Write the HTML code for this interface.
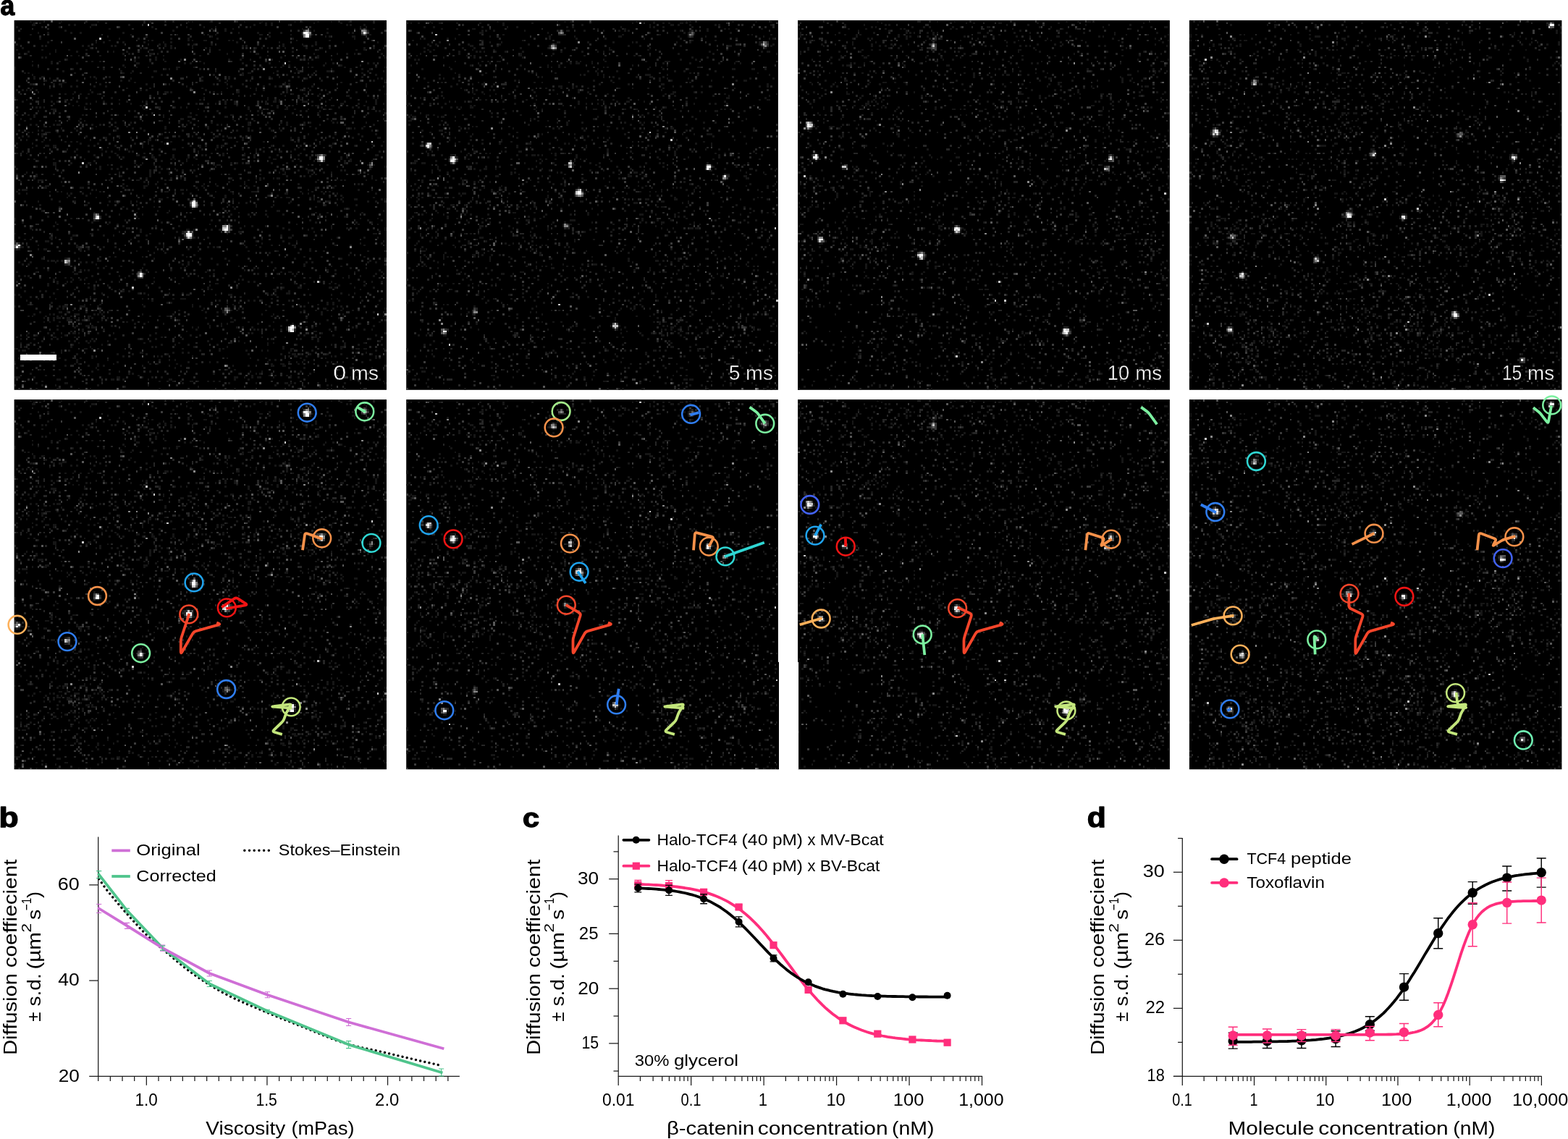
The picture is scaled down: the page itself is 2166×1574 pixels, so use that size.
<!DOCTYPE html>
<html lang="en">
<head>
<meta charset="utf-8">
<title>Figure: single-molecule tracking and diffusion coefficient measurements</title>
<style>
html,body{margin:0;padding:0;background:#fff;}
body{width:2166px;height:1574px;overflow:hidden;}
svg{display:block;font-family:"Liberation Sans", sans-serif;}
text{font-family:"Liberation Sans", sans-serif;}
</style>
</head>
<body>
<svg width="2166" height="1574" viewBox="0 0 2166 1574">
<rect width="2166" height="1574" fill="#fff"/>
<defs>
<filter id="sf" x="-1%" y="-1%" width="102%" height="102%"><feGaussianBlur stdDeviation="0.65"/></filter>
<g id="m0" shape-rendering="crispEdges" fill="none" stroke-width="1.02">
<path stroke="#161616" d="M8 0.5h1m15 0h1m11 0h1m6 0h1m26 0h1m19 0h1m1 0h1m8 0h1m17 0h1m8 0h1m16 0h1m3 0h1m7 0h1m6 0h1m8 0h1m-164 1h1m2 0h1m9 0h1m43 0h1m59 0h1m2 0h1m2 0h1m21 0h1m13 0h1m16 0h1m-178 1h2m17 0h1m2 0h1m8 0h2m17 0h1m64 0h1m5 0h1m2 0h1m8 0h1m29 0h1m1 0h1m6 0h1m-181 1h1m12 0h1m8 0h1m15 0h1m31 0h1m17 0h1m8 0h1m5 0h1m17 0h1m56 0h1m2 0h1m-134 1h1m41 0h1m10 0h1m6 0h1m3 0h1m35 0h1m12 0h1m13 0h1m3 0h1m1 0h1m3 0h1m-161 1h1m55 0h1m26 0h1m43 0h1m1 0h1m27 0h1m-172 1h1m4 0h1m11 0h1m4 0h1m21 0h1m59 0h1m9 0h1m5 0h1m5 0h1m23 0h1m10 0h1m1 0h1m-168 1h1m51 0h1m23 0h1m13 0h1m1 0h1m3 0h1m22 0h2m14 0h1m10 0h1m29 0h1m-137 1h1m19 0h1m33 0h1m29 0h1m28 0h1m1 0h1m11 0h2m-175 1h1m10 0h1m40 0h1m9 0h1m16 0h1m8 0h1m14 0h1m38 0h1m31 0h1m-128 1h1m19 0h1m1 0h1m18 0h1m1 0h1m5 0h2m11 0h1m1 0h1m4 0h1m27 0h1m16 0h1m-147 1h1m24 0h1m3 0h1m9 0h1m10 0h1m9 0h1m3 0h1m33 0h1m21 0h1m18 0h1m13 0h1m17 0h1m-188 1h1m67 0h1m5 0h1m2 0h1m14 0h1m8 0h1m36 0h1m9 0h1m6 0h1m-143 1h1m1 0h1m18 0h1m2 0h1m11 0h1m1 0h1m10 0h1m14 0h1m2 0h1m10 0h1m25 0h1m1 0h1m18 0h1m10 0h1m3 0h1m-151 1h1m34 0h1m25 0h1m1 0h1m13 0h1m10 0h1m6 0h1m1 0h1m23 0h1m2 0h1m2 0h1m5 0h1m2 0h1m10 0h1m7 0h1m3 0h1m17 0h1m4 0h1m4 0h1m-191 1h1m12 0h1m6 0h1m6 0h1m8 0h1m32 0h1m35 0h1m17 0h1m32 0h1m19 0h1m3 0h1m-175 1h1m13 0h1m10 0h1m18 0h1m6 0h1m54 0h1m8 0h1m21 0h1m-143 1h1m3 0h1m11 0h1m37 0h1m2 0h1m10 0h2m2 0h1m35 0h1m14 0h2m28 0h1m11 0h1m4 0h1m3 0h1m2 0h1m10 0h1m-162 1h1m3 0h1m3 0h1m6 0h1m32 0h1m18 0h1m34 0h1m25 0h1m-144 1h1m1 0h1m47 0h1m8 0h1m44 0h1m8 0h1m10 0h1m11 0h1m6 0h1m34 0h1m-166 1h1m34 0h1m10 0h1m3 0h1m8 0h1m24 0h1m5 0h1m4 0h1m10 0h1m15 0h1m2 0h1m1 0h1m9 0h1m-156 1h1m9 0h1m3 0h1m16 0h1m3 0h1m17 0h1m7 0h1m7 0h1m17 0h1m40 0h1m4 0h1m-124 1h1m12 0h1m30 0h2m23 0h1m2 0h1m6 0h1m19 0h1m13 0h1m19 0h1m8 0h1m3 0h1m17 0h1m2 0h1m-178 1h1m46 0h1m82 0h1m2 0h1m17 0h1m8 0h1m9 0h1m-180 1h1m11 0h1m44 0h1m5 0h1m5 0h1m14 0h2m7 0h1m34 0h1m6 0h1m2 0h1m13 0h1m1 0h1m16 0h1m15 0h1m4 0h1m-193 1h1m29 0h1m15 0h1m31 0h1m1 0h1m3 0h1m11 0h1m27 0h1m21 0h1m17 0h1m9 0h1m5 0h1m3 0h1m-160 1h1m29 0h1m5 0h1m10 0h2m30 0h1m31 0h1m10 0h1m8 0h1m5 0h2m1 0h1m17 0h1m7 0h1m-187 1h1m1 0h1m23 0h1m24 0h1m3 0h1m57 0h1m2 0h2m11 0h1m10 0h1m34 0h1m-172 1h1m66 0h1m26 0h1m14 0h1m22 0h1m12 0h1m32 0h1m-178 1h1m3 0h2m23 0h1m1 0h1m7 0h1m21 0h1m25 0h1m13 0h1m11 0h1m8 0h1m4 0h1m9 0h1m28 0h1m3 0h1m-171 1h1m7 0h1m23 0h1m17 0h1m50 0h1m21 0h1m17 0h1m36 0h1m1 0h1m-175 1h1m15 0h1m22 0h1m3 0h1m37 0h1m8 0h1m3 0h1m11 0h1m19 0h1m16 0h1m26 0h1m5 0h1m-168 1h2m35 0h1m46 0h1m30 0h1m28 0h1m-162 1h2m10 0h1m2 0h2m19 0h1m23 0h1m11 0h1m22 0h1m6 0h1m7 0h1m13 0h1m7 0h1m1 0h1m39 0h1m-159 1h1m4 0h1m2 0h1m8 0h1m5 0h1m41 0h1m22 0h1m16 0h1m5 0h1m1 0h1m2 0h1m13 0h1m27 0h1m8 0h1m-183 1h1m8 0h1m39 0h1m11 0h1m20 0h1m5 0h1m12 0h1m11 0h1m2 0h1m26 0h1m-152 1h1m2 0h1m1 0h1m1 0h1m2 0h1m27 0h1m25 0h1m2 0h1m30 0h1m16 0h1m8 0h1m3 0h1m11 0h1m6 0h1m1 0h1m2 0h1m7 0h1m27 0h1m-178 1h1m18 0h1m8 0h1m37 0h2m1 0h1m21 0h1m3 0h1m7 0h2m24 0h1m35 0h1m4 0h1m-157 1h1m3 0h1m3 0h1m3 0h1m4 0h1m94 0h1m5 0h1m5 0h1m7 0h1m3 0h1m29 0h1m-174 1h1m26 0h1m69 0h1m5 0h1m17 0h1m16 0h1m14 0h2m9 0h1m-184 1h1m11 0h1m17 0h1m6 0h1m12 0h1m47 0h1m32 0h1m32 0h1m9 0h1m11 0h1m1 0h1m-188 1h1m4 0h1m2 0h1m16 0h1m27 0h1m41 0h1m34 0h1m3 0h1m1 0h1m10 0h1m9 0h1m4 0h1m23 0h1m-184 1h1m14 0h1m2 0h1m9 0h1m9 0h1m3 0h1m11 0h1m7 0h1m1 0h1m40 0h1m4 0h1m15 0h1m3 0h2m1 0h1m11 0h3m2 0h1m6 0h1m9 0h1m10 0h1m4 0h1m-168 1h1m7 0h1m8 0h1m1 0h1m7 0h1m6 0h1m5 0h1m33 0h1m5 0h1m3 0h1m4 0h1m4 0h1m15 0h1m15 0h1m22 0h2m7 0h1m8 0h1m3 0h1m-162 1h1m2 0h1m31 0h1m2 0h1m46 0h1m17 0h1m2 0h1m7 0h1m9 0h1m1 0h2m6 0h2m15 0h1m-171 1h1m1 0h1m1 0h1m20 0h1m29 0h1m8 0h1m7 0h1m2 0h1m2 0h1m19 0h1m11 0h1m14 0h1m4 0h1m17 0h1m8 0h1m6 0h1m2 0h1m4 0h1m-165 1h3m14 0h1m13 0h1m16 0h1m27 0h1m25 0h1m5 0h1m2 0h1m9 0h2m3 0h1m6 0h1m8 0h1m2 0h1m18 0h1m1 0h1m5 0h1m-191 1h1m10 0h1m7 0h1m38 0h1m2 0h1m35 0h1m6 0h1m16 0h1m3 0h1m1 0h1m5 0h1m13 0h1m2 0h1m6 0h1m28 0h1m1 0h1m-167 1h1m47 0h1m19 0h1m52 0h1m12 0h1m-157 1h1m5 0h1m2 0h1m24 0h1m17 0h1m14 0h1m8 0h1m16 0h1m17 0h2m6 0h1m5 0h1m55 0h1m-173 1h1m51 0h2m13 0h1m12 0h2m7 0h1m9 0h2m38 0h1m8 0h1m16 0h1m-173 1h1m4 0h1m19 0h1m5 0h1m15 0h1m29 0h1m5 0h2m4 0h1m20 0h1m6 0h1m41 0h1m7 0h1m20 0h1m-187 1h1m7 0h1m7 0h1m11 0h1m2 0h1m19 0h1m19 0h1m13 0h1m23 0h1m9 0h1m39 0h1m-113 1h1m7 0h1m24 0h1m5 0h1m10 0h1m18 0h1m9 0h1m6 0h1m2 0h1m8 0h1m2 0h1m11 0h1m1 0h1m14 0h1m-175 1h1m2 0h1m8 0h1m1 0h2m16 0h1m3 0h1m44 0h1m15 0h1m1 0h1m13 0h2m7 0h1m10 0h1m8 0h1m7 0h1m12 0h1m14 0h1m-172 1h1m2 0h1m23 0h1m6 0h1m2 0h1m5 0h1m19 0h1m8 0h1m7 0h1m3 0h2m42 0h1m9 0h1m27 0h1m-158 1h1m6 0h1m8 0h1m20 0h1m3 0h1m12 0h1m21 0h1m20 0h1m5 0h1m4 0h1m4 0h1m18 0h1m15 0h1m1 0h1m1 0h1m3 0h1m-179 1h1m9 0h1m1 0h1m6 0h1m10 0h1m19 0h1m14 0h1m19 0h1m19 0h1m7 0h1m5 0h1m1 0h1m9 0h1m4 0h1m46 0h1m2 0h1m-182 1h1m1 0h1m6 0h3m3 0h1m79 0h1m69 0h1m-159 1h1m34 0h1m26 0h1m75 0h1m4 0h1m8 0h1m11 0h1m8 0h1m-184 1h1m2 0h1m6 0h1m8 0h1m13 0h1m16 0h1m8 0h1m21 0h1m6 0h1m11 0h2m2 0h1m1 0h1m11 0h1m12 0h1m44 0h1m-179 1h1m44 0h1m6 0h1m5 0h1m17 0h1m16 0h2m6 0h1m7 0h2m5 0h1m1 0h1m22 0h1m3 0h1m17 0h1m4 0h1m4 0h1m12 0h2m-184 1h1m8 0h1m2 0h1m20 0h1m4 0h1m6 0h1m17 0h2m2 0h1m13 0h1m20 0h1m9 0h1m24 0h1m12 0h1m3 0h1m-147 1h1m11 0h1m2 0h1m2 0h1m36 0h1m6 0h1m4 0h1m33 0h1m5 0h1m7 0h1m15 0h1m1 0h1m21 0h1m12 0h1m8 0h1m-191 1h1m7 0h1m24 0h1m8 0h1m18 0h1m6 0h1m8 0h1m31 0h1m47 0h1m6 0h1m19 0h1m-175 1h1m4 0h2m2 0h2m16 0h1m2 0h1m10 0h1m13 0h1m4 0h1m19 0h1m4 0h1m2 0h1m5 0h1m1 0h2m24 0h1m5 0h1m8 0h1m4 0h1m10 0h1m11 0h1m13 0h1m-190 1h1m7 0h1m10 0h1m24 0h1m2 0h1m11 0h1m5 0h1m20 0h1m8 0h1m8 0h1m23 0h1m17 0h1m12 0h1m3 0h1m20 0h1m-159 1h1m4 0h1m12 0h1m8 0h1m3 0h1m16 0h1m6 0h2m13 0h1m6 0h1m13 0h1m6 0h1m9 0h1m9 0h1m4 0h1m-147 1h1m26 0h1m6 0h1m8 0h1m2 0h1m8 0h1m1 0h1m33 0h1m29 0h1m3 0h1m7 0h2m4 0h1m19 0h1m25 0h1m-189 1h1m4 0h1m38 0h1m6 0h1m14 0h1m27 0h1m6 0h1m5 0h1m10 0h1m6 0h1m21 0h1m32 0h1m-150 1h1m8 0h1m11 0h1m9 0h2m6 0h1m3 0h1m6 0h1m14 0h1m1 0h1m8 0h1m10 0h1m4 0h1m11 0h1m10 0h1m39 0h2m-173 1h1m12 0h1m12 0h1m6 0h1m6 0h1m9 0h1m4 0h2m9 0h1m7 0h1m2 0h1m30 0h1m7 0h1m20 0h1m15 0h1m2 0h1m-166 1h1m2 0h1m9 0h1m10 0h1m4 0h1m35 0h1m8 0h1m1 0h1m5 0h1m4 0h1m24 0h1m6 0h1m7 0h2m11 0h1m5 0h1m15 0h1m4 0h1m-163 1h1m28 0h1m34 0h1m12 0h1m34 0h1m19 0h1m3 0h1m6 0h1m15 0h1m2 0h1m10 0h1m-166 1h2m7 0h1m8 0h2m22 0h1m3 0h1m20 0h1m24 0h1m2 0h1m2 0h1m14 0h1m7 0h1m29 0h1m-152 1h2m15 0h1m10 0h1m14 0h1m1 0h1m6 0h1m19 0h1m2 0h1m7 0h1m1 0h2m39 0h1m5 0h1m5 0h1m3 0h1m20 0h1m2 0h1m-176 1h1m9 0h1m22 0h1m10 0h1m19 0h1m28 0h1m17 0h1m26 0h1m17 0h1m24 0h1m-192 1h1m40 0h1m1 0h1m5 0h1m2 0h1m4 0h1m14 0h1m2 0h1m2 0h1m3 0h1m30 0h1m23 0h1m12 0h1m4 0h1m27 0h1m-115 1h1m13 0h1m2 0h1m5 0h1m7 0h1m37 0h1m7 0h1m4 0h2m15 0h1m1 0h1m-166 1h1m17 0h1m29 0h1m15 0h1m4 0h1m4 0h1m56 0h1m2 0h1m11 0h1m7 0h1m3 0h1m-164 1h1m3 0h1m5 0h1m8 0h1m28 0h1m4 0h1m15 0h1m9 0h1m26 0h1m3 0h1m4 0h1m10 0h1m11 0h2m13 0h1m1 0h1m19 0h1m1 0h1m4 0h1m-173 1h1m43 0h1m14 0h1m16 0h1m6 0h1m46 0h1m8 0h1m2 0h1m31 0h1m-176 1h1m14 0h1m33 0h1m8 0h1m12 0h1m4 0h1m14 0h1m10 0h1m12 0h1m1 0h1m1 0h1m4 0h1m1 0h2m47 0h1m-174 1h3m34 0h1m13 0h2m13 0h1m1 0h1m40 0h1m5 0h1m29 0h1m11 0h1m1 0h1m10 0h1m4 0h1m-185 1h1m8 0h1m11 0h1m25 0h1m16 0h1m6 0h1m36 0h1m7 0h1m36 0h1m-119 1h1m17 0h1m12 0h1m3 0h1m4 0h1m19 0h1m5 0h1m14 0h1m19 0h1m7 0h1m30 0h1m-163 1h2m7 0h1m32 0h1m8 0h2m28 0h1m7 0h1m11 0h1m2 0h1m3 0h1m37 0h1m3 0h1m-158 1h1m5 0h2m17 0h2m20 0h1m10 0h1m26 0h1m3 0h1m22 0h1m34 0h1m8 0h1m-164 1h1m1 0h3m33 0h1m1 0h1m15 0h1m2 0h1m24 0h2m1 0h1m5 0h1m15 0h1m14 0h1m25 0h1m25 0h1m6 0h1m-185 1h1m16 0h1m3 0h1m1 0h1m19 0h1m33 0h2m3 0h1m20 0h1m7 0h1m10 0h3m22 0h1m5 0h1m4 0h1m3 0h1m-162 1h1m3 0h1m20 0h1m1 0h1m5 0h1m3 0h1m47 0h1m3 0h1m21 0h1m26 0h2m7 0h1m2 0h1m7 0h1m6 0h1m19 0h1m-160 1h1m8 0h1m28 0h1m34 0h1m7 0h1m21 0h1m4 0h1m32 0h1m-143 1h1m14 0h1m5 0h1m23 0h1m6 0h1m23 0h1m5 0h1m28 0h1m2 0h2m10 0h1m1 0h1m7 0h1m6 0h1m15 0h1m-168 1h1m55 0h2m36 0h1m41 0h1m11 0h1m1 0h1m6 0h2m12 0h1m1 0h1m-188 1h1m6 0h1m10 0h1m7 0h1m17 0h1m2 0h1m7 0h1m2 0h1m8 0h1m70 0h1m13 0h2m3 0h2m6 0h1m12 0h1m3 0h1m-150 1h1m14 0h1m6 0h1m49 0h1m5 0h1m3 0h1m21 0h1m-130 1h1m23 0h1m10 0h1m14 0h1m21 0h1m16 0h1m8 0h1m13 0h1m8 0h1m26 0h1m5 0h1m9 0h1m-155 1h1m32 0h1m15 0h1m15 0h1m2 0h1m21 0h1m11 0h1m7 0h1m22 0h1m-99 1h1m5 0h1m27 0h1m15 0h1m5 0h1m56 0h1m1 0h1m-160 1h1m59 0h1m5 0h1m49 0h1m5 0h2m38 0h1m14 0h1m-151 1h1m21 0h1m15 0h1m26 0h1m3 0h1m5 0h1m39 0h1m5 0h1m17 0h1m-134 1h1m6 0h1m11 0h1m45 0h1m8 0h1m8 0h1m8 0h1m-123 1h1m44 0h2m44 0h1m13 0h1m8 0h1m25 0h2m2 0h1m5 0h1m3 0h1m-172 1h1m7 0h1m20 0h1m34 0h1m17 0h1m10 0h1m55 0h1m29 0h1m8 0h1m-189 1h1m41 0h2m13 0h1m31 0h1m12 0h1m11 0h1m38 0h1m29 0h1m6 0h1m-187 1h1m16 0h1m18 0h1m8 0h1m26 0h1m3 0h1m75 0h1m20 0h1m7 0h1m-164 1h1m25 0h1m4 0h1m47 0h1m7 0h1m36 0h1m31 0h1m9 0h1m-169 1h1m8 0h1m26 0h1m16 0h1m11 0h1m33 0h1m3 0h1m6 0h1m5 0h1m27 0h1m-157 1h1m49 0h2m57 0h1m21 0h1m14 0h1m9 0h1m7 0h1m4 0h1m14 0h1m-184 1h1m12 0h1m20 0h1m21 0h1m23 0h2m2 0h1m5 0h1m2 0h1m3 0h2m34 0h1m9 0h1m39 0h1m-139 1h1m10 0h1m18 0h1m2 0h1m28 0h2m37 0h1m33 0h1m-190 1h1m18 0h1m19 0h2m29 0h1m6 0h1m32 0h1m3 0h1m71 0h2m-158 1h2m14 0h1m4 0h1m16 0h1m69 0h1m5 0h1m14 0h1m-158 1h1m15 0h2m1 0h1m7 0h1m55 0h1m2 0h1m4 0h1m6 0h1m41 0h2m23 0h1m13 0h1m6 0h1m-184 1h1m2 0h1m10 0h1m40 0h1m7 0h1m22 0h1m18 0h1m17 0h1m35 0h1m-149 1h2m46 0h1m60 0h1m13 0h1m6 0h1m44 0h1m-117 1h1m52 0h1m13 0h1m36 0h1m10 0h1m-185 1h1m5 0h1m19 0h1m44 0h1m41 0h1m5 0h1m7 0h1m10 0h2m20 0h1m7 0h1m6 0h1m-179 1h2m27 0h2m3 0h1m8 0h1m5 0h1m12 0h1m7 0h1m3 0h1m2 0h1m14 0h1m4 0h1m2 0h1m1 0h1m14 0h1m6 0h1m17 0h1m-146 1h1m1 0h1m9 0h1m2 0h2m17 0h1m3 0h1m51 0h1m62 0h1m-120 1h1m28 0h1m5 0h1m7 0h1m17 0h1m25 0h1m14 0h1m16 0h1m6 0h1m22 0h1m-153 1h1m40 0h1m5 0h1m53 0h1m14 0h1m26 0h1m-166 1h1m77 0h1m5 0h1m21 0h1m57 0h1m-130 1h1m4 0h1m2 0h1m13 0h1m22 0h1m60 0h1m8 0h1m5 0h1m15 0h1m-168 1h1m11 0h1m6 0h1m38 0h1m23 0h1m5 0h1m6 0h1m35 0h1m23 0h1m-153 1h1m1 0h2m1 0h1m1 0h2m17 0h2m47 0h1m18 0h1m72 0h1m-183 1h1m5 0h1m12 0h1m12 0h1m2 0h1m2 0h1m49 0h1m42 0h1m17 0h1m2 0h1m28 0h1m3 0h1m-184 1h1m2 0h1m34 0h1m24 0h1m19 0h1m2 0h1m5 0h1m8 0h1m44 0h1m-120 1h1m15 0h1m7 0h1m24 0h1m8 0h1m26 0h1m3 0h1m29 0h1m13 0h1m4 0h1m-159 1h1m3 0h1m27 0h1m2 0h1m19 0h1m19 0h1m1 0h1m35 0h1m1 0h1m8 0h1m25 0h1m12 0h1m7 0h1m-166 1h1m16 0h1m1 0h1m1 0h1m29 0h1m12 0h1m18 0h1m2 0h1m15 0h1m42 0h1m3 0h1m22 0h1m-189 1h1m9 0h1m18 0h1m2 0h1m39 0h1m25 0h1m38 0h1m3 0h2m32 0h1m13 0h1m-160 1h2m16 0h1m11 0h1m41 0h1m22 0h1m9 0h1m7 0h1m1 0h1m19 0h1m20 0h1m3 0h1m-190 1h1m2 0h1m1 0h1m32 0h1m13 0h1m4 0h1m3 0h1m26 0h1m4 0h1m5 0h1m15 0h1m12 0h1m14 0h1m12 0h1m5 0h1m8 0h1m5 0h1m6 0h1m3 0h1m-165 1h1m2 0h1m7 0h1m19 0h1m14 0h1m10 0h1m3 0h1m20 0h1m25 0h1m18 0h1m16 0h1m2 0h1m18 0h1m-173 1h1m9 0h1m3 0h1m1 0h1m7 0h1m17 0h1m53 0h1m1 0h1m-118 1h1m20 0h1m4 0h1m1 0h1m12 0h1m7 0h1m3 0h1m17 0h1m41 0h1m6 0h1m2 0h1m39 0h1m16 0h1m3 0h1m4 0h1m-174 1h1m4 0h1m3 0h1m11 0h1m46 0h1m18 0h2m32 0h1m6 0h1m4 0h1m12 0h1m2 0h1m7 0h1m-158 1h1m30 0h1m19 0h1m32 0h1m66 0h1m12 0h1m-179 1h1m34 0h1m2 0h1m33 0h1m24 0h1m14 0h1m23 0h1m7 0h2m14 0h2m1 0h1m9 0h1m9 0h1m-165 1h1m8 0h1m9 0h1m8 0h1m3 0h1m42 0h1m2 0h1m1 0h1m31 0h2m2 0h1m13 0h1m26 0h1m-175 1h1m7 0h1m2 0h1m39 0h1m2 0h1m75 0h1m6 0h1m-123 1h1m24 0h1m18 0h1m2 0h1m12 0h1m6 0h1m43 0h1m9 0h2m26 0h1m6 0h1m-177 1h1m1 0h1m66 0h1m19 0h2m7 0h1m5 0h1m6 0h2m20 0h1m1 0h1m17 0h1m10 0h1m8 0h1m-171 1h1m4 0h1m9 0h1m20 0h1m8 0h1m28 0h1m39 0h1m8 0h1m9 0h1m42 0h1m-168 1h1m8 0h1m19 0h2m23 0h1m15 0h1m3 0h3m44 0h1m30 0h1m2 0h1m22 0h1m-185 1h1m26 0h1m37 0h1m34 0h1m14 0h1m2 0h1m3 0h1m13 0h1m25 0h1m11 0h1m8 0h1m-171 1h1m59 0h1m1 0h1m28 0h1m5 0h1m35 0h1m9 0h1m2 0h1m-159 1h1m1 0h1m26 0h1m2 0h1m4 0h1m21 0h1m25 0h1m20 0h1m16 0h1m16 0h1m9 0h1m4 0h1m2 0h1m22 0h1m-189 1h1m22 0h1m1 0h3m6 0h3m6 0h1m23 0h1m24 0h1m3 0h1m35 0h1m17 0h1m16 0h1m1 0h1m-148 1h1m2 0h1m72 0h1m17 0h1m1 0h1m41 0h2m3 0h1m4 0h1m21 0h1m-166 1h1m2 0h1m2 0h1m7 0h1m2 0h1m4 0h1m35 0h1m11 0h1m10 0h1m3 0h1m2 0h1m14 0h1m19 0h1m5 0h1m5 0h1m6 0h1m5 0h1m-163 1h1m9 0h2m2 0h1m9 0h1m6 0h1m1 0h1m52 0h1m5 0h1m2 0h1m2 0h1m36 0h1m10 0h1m26 0h1m4 0h1m-182 1h1m7 0h1m1 0h1m10 0h3m7 0h1m1 0h1m1 0h1m20 0h1m15 0h1m45 0h1m5 0h1m24 0h1m10 0h1m-164 1h1m1 0h1m6 0h1m5 0h1m1 0h1m4 0h1m8 0h2m30 0h1m4 0h1m3 0h2m52 0h1m30 0h1m26 0h1m-177 1h1m4 0h1m1 0h2m3 0h2m2 0h1m1 0h1m2 0h1m1 0h1m1 0h1m5 0h1m1 0h1m6 0h1m25 0h1m17 0h1m12 0h1m5 0h1m32 0h1m16 0h1m8 0h1m8 0h1m-167 1h1m6 0h3m2 0h1m2 0h1m2 0h1m6 0h1m15 0h1m23 0h1m28 0h1m26 0h1m20 0h1m-148 1h1m2 0h1m4 0h1m19 0h1m14 0h1m10 0h1m42 0h2m7 0h1m12 0h1m14 0h1m1 0h1m37 0h1m-156 1h1m27 0h1m4 0h1m9 0h1m22 0h1m6 0h1m2 0h1m15 0h1m17 0h1m13 0h1m20 0h1m-158 1h1m2 0h1m6 0h1m4 0h2m1 0h1m9 0h1m36 0h1m13 0h1m5 0h1m24 0h1m5 0h1m3 0h1m4 0h1m8 0h1m16 0h1m12 0h1m-156 1h1m8 0h2m32 0h1m17 0h1m2 0h1m5 0h1m13 0h1m2 0h1m4 0h1m17 0h1m9 0h1m2 0h1m20 0h1m1 0h1m-156 1h1m12 0h1m10 0h1m47 0h1m29 0h1m1 0h1m7 0h1m3 0h1m2 0h1m21 0h1m2 0h1m14 0h1m3 0h1m-173 1h1m15 0h1m5 0h1m53 0h1m55 0h1m9 0h2m-150 1h1m9 0h1m2 0h1m3 0h1m5 0h2m1 0h1m9 0h1m7 0h1m21 0h1m47 0h1m1 0h1m35 0h1m-154 1h1m4 0h1m14 0h1m43 0h1m20 0h1m4 0h1m50 0h1m2 0h1m5 0h1m8 0h1m10 0h1m10 0h1m-187 1h1m13 0h1m4 0h2m2 0h1m6 0h1m44 0h1m39 0h1m11 0h1m11 0h1m14 0h2m19 0h1m-174 1h1m6 0h1m8 0h1m2 0h1m17 0h1m11 0h1m11 0h1m1 0h1m6 0h1m13 0h1m14 0h1m30 0h1m14 0h1m5 0h1m2 0h1m26 0h1m5 0h1m-177 1h1m13 0h1m2 0h1m5 0h1m1 0h1m1 0h1m6 0h1m21 0h1m29 0h1m15 0h1m40 0h1m31 0h1m-187 1h1m4 0h1m24 0h1m4 0h1m28 0h1m17 0h1m26 0h1m6 0h1m11 0h1m2 0h1m36 0h1m9 0h1m-176 1h1m23 0h1m14 0h1m2 0h1m27 0h1m6 0h1m6 0h1m14 0h1m25 0h1m14 0h1m17 0h1m6 0h1m6 0h1m11 0h1m-186 1h1m23 0h1m9 0h1m31 0h1m1 0h1m19 0h1m16 0h1m28 0h1m29 0h2m-171 1h2m5 0h1m4 0h1m23 0h2m2 0h1m2 0h1m43 0h1m18 0h1m1 0h1m30 0h1m3 0h2m24 0h1m5 0h1m1 0h2m2 0h2m8 0h1m-190 1h1m1 0h2m18 0h1m3 0h1m67 0h1m9 0h1m13 0h1m7 0h1m2 0h1m11 0h1m10 0h1m32 0h1m-169 1h1m4 0h1m40 0h2m15 0h1m4 0h1m2 0h1m51 0h1m9 0h1m24 0h1m4 0h1m-168 1h1m16 0h1m20 0h1m7 0h1m6 0h1m10 0h1m41 0h1m16 0h1m5 0h2m2 0h1m4 0h1m8 0h1m6 0h1m15 0h1m-167 1h1m20 0h1m15 0h1m17 0h1m1 0h1m15 0h1m49 0h1m2 0h2m4 0h1m12 0h1m1 0h1m9 0h1m10 0h1m-186 1h1m7 0h1m12 0h1m10 0h1m5 0h1m69 0h1m11 0h1m7 0h1m17 0h1m12 0h1m25 0h1m1 0h1m-185 1h1m20 0h1m5 0h1m15 0h1m26 0h1m4 0h1m2 0h1m42 0h1m5 0h1m2 0h1m14 0h1m33 0h1m-185 1h1m31 0h1m20 0h1m15 0h1m20 0h1m10 0h1m3 0h1m25 0h1m10 0h1m3 0h1m2 0h1m12 0h1m1 0h1m5 0h1m9 0h1m-150 1h1m1 0h1m9 0h1m7 0h1m18 0h1m3 0h1m9 0h1m9 0h1m38 0h1m4 0h2m7 0h1m18 0h1m8 0h1m-173 1h1m22 0h1m11 0h1m4 0h1m2 0h1m19 0h1m13 0h1m5 0h1m26 0h1m7 0h1m11 0h2m4 0h2m-140 1h1m40 0h1m40 0h1m58 0h1m7 0h1m23 0h1m10 0h1m-173 1h1m9 0h1m19 0h1m66 0h1m3 0h1m53 0h1m1 0h1m7 0h1m7 0h2m3 0h1m-152 1h1m13 0h1m15 0h1m51 0h1m5 0h1m19 0h1m6 0h1m20 0h1m7 0h1m-177 1h1m40 0h1m9 0h1m1 0h1m41 0h1m12 0h1m8 0h1m1 0h1m25 0h1m22 0h1m-161 1h1m18 0h1m28 0h1m58 0h1m8 0h1m2 0h1m5 0h1m1 0h1m8 0h1m16 0h1m-170 1h3m7 0h1m42 0h2m11 0h1m4 0h1m4 0h1m37 0h2m3 0h1m3 0h1m2 0h2m6 0h1m8 0h1m3 0h1m26 0h1m2 0h1m6 0h1m-163 1h2m26 0h2m2 0h1m1 0h1m12 0h1m10 0h2m32 0h1m6 0h1m52 0h1m1 0h1m2 0h1m9 0h1m-176 1h1m30 0h1m29 0h1m3 0h1m2 0h1m3 0h1m4 0h2m2 0h1m4 0h1m2 0h1m2 0h1m71 0h1m12 0h1m-181 1h1m14 0h2m59 0h1m23 0h1m13 0h1m14 0h2m1 0h1m1 0h1m11 0h1m13 0h1m20 0h1m-179 1h1m1 0h1m4 0h1m21 0h1m25 0h1m65 0h1m6 0h1m19 0h1m1 0h1m-108 1h1m37 0h1m54 0h1m7 0h1m-148 1h1m10 0h2m9 0h1m5 0h1m35 0h1m38 0h1m47 0h1m1 0h1m6 0h1m7 0h1"/>
<path stroke="#262626" d="M15 0.5h1m21 0h1m29 0h1m10 0h1m3 0h1m19 0h1m12 0h1m32 0h1m19 0h1m5 0h1m11 0h1m-151 1h1m10 0h1m41 0h1m16 0h1m-65 1h1m23 0h1m11 0h1m7 0h1m9 0h1m20 0h1m25 0h1m-90 1h1m29 0h1m31 0h1m3 0h1m32 0h1m-151 1h1m5 0h1m7 0h1m43 0h1m11 0h1m105 0h1m-178 1h1m100 0h1m39 0h1m3 0h1m-43 1h1m6 0h1m77 0h1m-174 1h1m27 0h1m35 0h1m67 0h1m30 0h1m1 0h1m-170 1h1m77 0h1m9 0h1m51 0h1m10 0h1m17 0h1m-56 1h1m2 0h1m-112 1h1m22 0h1m20 0h1m121 0h1m-133 1h1m48 0h1m40 0h1m37 0h1m-142 1h1m16 0h1m32 0h1m3 0h1m9 0h1m21 0h1m-124 1h1m6 0h1m63 0h1m54 0h1m7 0h1m13 0h1m11 0h1m22 0h1m-147 1h1m1 0h1m25 0h1m6 0h1m1 0h1m5 0h1m34 0h1m1 0h1m3 0h1m8 0h1m2 0h1m7 0h1m13 0h1m-88 1h1m29 0h1m54 0h1m25 0h1m6 0h1m-147 1h1m4 0h1m15 0h1m4 0h1m6 0h1m2 0h1m21 0h1m29 0h1m29 0h1m26 0h1m-184 1h1m31 0h1m23 0h1m10 0h1m20 0h1m6 0h1m17 0h1m59 0h1m-171 1h1m59 0h1m1 0h1m69 0h1m23 0h1m26 0h1m-189 1h1m142 0h1m9 0h1m32 0h1m-164 1h1m30 0h1m12 0h1m77 0h1m1 0h1m-114 1h1m54 0h1m19 0h1m17 0h1m-109 1h1m48 0h1m116 0h1m-177 1h1m107 0h1m3 0h1m2 0h1m40 0h1m18 0h1m-145 1h1m2 0h1m3 0h1m82 0h1m8 0h1m2 0h1m31 0h1m-161 1h1m4 0h1m6 0h1m4 0h1m19 0h1m22 0h1m26 0h1m12 0h1m8 0h1m22 0h1m35 0h1m-182 1h1m111 0h1m6 0h1m24 0h2m-114 1h1m18 0h1m9 0h1m81 0h1m7 0h1m28 0h1m-150 1h1m43 0h1m15 0h1m21 0h1m18 0h1m15 0h1m3 0h1m24 0h1m-135 1h1m41 0h1m14 0h1m4 0h1m17 0h1m16 0h1m8 0h1m8 0h1m4 0h1m15 0h1m-171 1h1m8 0h1m13 0h1m9 0h1m39 0h2m8 0h1m8 0h1m3 0h1m4 0h1m8 0h1m8 0h1m17 0h1m7 0h1m-153 1h1m8 0h1m4 0h2m60 0h1m13 0h1m23 0h1m28 0h1m29 0h1m4 0h1m-166 1h1m22 0h1m4 0h1m44 0h1m1 0h1m82 0h1m14 0h1m-183 1h1m4 0h1m23 0h1m32 0h1m5 0h1m8 0h1m4 0h1m12 0h1m33 0h1m15 0h1m11 0h1m6 0h1m-173 1h1m15 0h1m1 0h1m51 0h1m47 0h1m17 0h1m-132 1h1m133 0h1m4 0h1m3 0h1m16 0h1m-112 1h1m35 0h1m22 0h1m33 0h1m9 0h1m6 0h1m6 0h1m-172 1h1m49 0h1m21 0h1m26 0h1m37 0h1m12 0h1m10 0h1m8 0h1m-170 1h1m19 0h1m20 0h1m29 0h1m2 0h2m19 0h1m6 0h1m7 0h1m10 0h1m18 0h1m10 0h1m-96 1h1m10 0h1m48 0h1m8 0h1m18 0h1m3 0h1m-107 1h1m26 0h1m2 0h1m9 0h1m49 0h1m11 0h1m1 0h1m9 0h1m-145 1h1m11 0h1m1 0h1m68 0h1m9 0h1m1 0h1m1 0h1m27 0h1m3 0h1m4 0h1m2 0h1m25 0h1m-168 1h2m2 0h1m10 0h1m44 0h1m4 0h1m5 0h1m23 0h1m19 0h1m1 0h1m-121 1h1m3 0h1m37 0h1m17 0h1m4 0h1m16 0h1m5 0h2m17 0h1m10 0h1m4 0h1m-113 1h1m47 0h1m57 0h1m14 0h1m1 0h1m18 0h1m10 0h1m4 0h1m-177 1h1m7 0h1m63 0h2m7 0h1m16 0h1m57 0h1m28 0h1m-150 1h1m1 0h1m35 0h1m53 0h1m1 0h1m28 0h1m2 0h1m22 0h1m-171 1h1m4 0h1m26 0h1m31 0h1m19 0h1m32 0h1m42 0h1m-172 1h1m5 0h1m8 0h1m25 0h1m59 0h1m24 0h1m34 0h1m9 0h1m6 0h1m8 0h1m-189 1h1m32 0h1m12 0h1m6 0h1m8 0h1m62 0h1m27 0h1m-143 1h2m10 0h1m14 0h1m60 0h1m36 0h1m28 0h1m11 0h1m-117 1h1m27 0h1m22 0h1m6 0h1m9 0h1m31 0h2m2 0h1m-147 1h1m3 0h1m38 0h1m8 0h1m9 0h1m9 0h1m6 0h1m35 0h1m49 0h1m-155 1h1m14 0h1m12 0h1m17 0h1m41 0h1m29 0h1m22 0h1m-174 1h1m12 0h1m19 0h1m1 0h1m8 0h1m3 0h1m6 0h1m1 0h1m27 0h1m5 0h1m16 0h1m26 0h1m10 0h1m-143 1h1m9 0h1m18 0h1m52 0h1m21 0h1m7 0h1m-85 1h1m18 0h1m85 0h1m5 0h1m27 0h1m-169 1h1m19 0h1m25 0h1m53 0h1m7 0h1m20 0h1m10 0h1m-142 1h1m24 0h1m48 0h1m1 0h1m12 0h1m18 0h1m35 0h1m-148 1h1m10 0h1m2 0h2m16 0h1m55 0h2m3 0h1m8 0h1m2 0h1m-80 1h1m25 0h1m20 0h1m7 0h2m6 0h1m26 0h1m2 0h1m29 0h1m12 0h1m-148 1h1m19 0h1m9 0h1m4 0h1m18 0h1m8 0h1m34 0h1m7 0h1m11 0h1m15 0h1m8 0h1m1 0h1m-159 1h1m7 0h1m12 0h1m22 0h1m13 0h1m60 0h1m21 0h1m2 0h1m19 0h1m11 0h1m-113 1h1m90 0h1m-110 1h1m16 0h1m23 0h1m18 0h1m40 0h1m-96 1h1m39 0h1m18 0h1m19 0h1m21 0h1m6 0h1m13 0h1m8 0h1m-172 1h1m5 0h1m31 0h2m52 0h1m4 0h1m5 0h1m13 0h1m-126 1h1m10 0h1m3 0h1m48 0h1m21 0h1m16 0h1m16 0h1m-121 1h1m11 0h1m6 0h1m66 0h1m60 0h1m13 0h1m-166 1h1m9 0h1m1 0h1m62 0h1m31 0h1m11 0h1m2 0h1m47 0h1m-171 1h1m4 0h1m36 0h1m44 0h1m15 0h1m11 0h1m24 0h1m7 0h1m2 0h1m1 0h1m4 0h1m10 0h1m-139 1h1m19 0h1m12 0h1m33 0h1m9 0h1m78 0h1m-136 1h1m17 0h1m44 0h1m26 0h1m10 0h1m29 0h1m-176 1h1m11 0h1m2 0h1m35 0h1m10 0h1m11 0h1m13 0h2m6 0h1m23 0h1m36 0h1m4 0h1m-132 1h1m29 0h1m8 0h1m21 0h1m10 0h1m5 0h2m50 0h1m11 0h1m-157 1h1m21 0h1m32 0h1m13 0h1m14 0h1m26 0h1m14 0h1m22 0h1m-178 1h1m15 0h1m17 0h1m2 0h1m24 0h1m10 0h1m33 0h1m28 0h1m33 0h1m14 0h1m-165 1h1m73 0h1m7 0h1m35 0h1m1 0h2m16 0h1m-138 1h1m2 0h1m46 0h2m17 0h1m27 0h1m7 0h1m7 0h1m18 0h1m-146 1h1m62 0h1m14 0h1m4 0h1m28 0h2m9 0h1m12 0h1m9 0h1m25 0h1m-168 1h1m37 0h1m43 0h1m20 0h1m46 0h1m7 0h1m-119 1h1m29 0h1m63 0h1m15 0h1m-100 1h1m10 0h1m11 0h1m22 0h1m5 0h1m44 0h1m4 0h1m22 0h1m-189 1h1m4 0h1m8 0h1m30 0h1m8 0h1m11 0h1m12 0h1m6 0h1m24 0h1m52 0h1m-153 1h1m54 0h1m24 0h2m5 0h1m23 0h1m36 0h1m28 0h1m-82 1h1m26 0h1m38 0h1m3 0h1m-126 1h1m37 0h1m6 0h1m30 0h1m-102 1h1m7 0h1m35 0h1m51 0h1m20 0h2m8 0h1m2 0h1m-104 1h1m1 0h1m20 0h1m2 0h1m15 0h1m37 0h1m18 0h1m-123 1h1m11 0h1m8 0h1m17 0h1m2 0h1m36 0h1m12 0h1m14 0h1m19 0h1m21 0h1m-124 1h1m22 0h1m16 0h1m15 0h1m16 0h1m31 0h1m-148 1h1m38 0h1m5 0h1m9 0h1m20 0h1m7 0h1m29 0h1m22 0h1m7 0h1m2 0h1m-136 1h1m32 0h1m31 0h1m25 0h1m7 0h1m4 0h1m11 0h1m9 0h1m-88 1h1m11 0h1m7 0h1m17 0h1m17 0h1m26 0h1m-124 1h1m23 0h1m36 0h1m2 0h1m3 0h1m9 0h1m4 0h1m8 0h1m11 0h1m26 0h1m30 0h1m-162 1h1m12 0h1m20 0h1m2 0h1m33 0h1m4 0h1m5 0h1m10 0h1m41 0h1m21 0h1m-185 1h1m1 0h1m29 0h1m15 0h1m34 0h1m7 0h1m2 0h1m48 0h1m12 0h1m-152 1h1m56 0h1m8 0h1m34 0h1m4 0h1m-103 1h1m41 0h1m116 0h1m-158 1h1m34 0h1m10 0h1m34 0h1m12 0h1m1 0h1m57 0h1m-84 1h1m2 0h1m1 0h1m31 0h1m1 0h1m-53 1h1m24 0h1m2 0h1m22 0h1m29 0h1m3 0h1m20 0h1m1 0h1m-174 1h1m35 0h1m4 0h1m34 0h1m3 0h1m22 0h1m4 0h1m35 0h1m19 0h1m-141 1h1m2 0h1m-22 1h1m11 0h1m11 0h1m2 0h1m17 0h1m26 0h1m19 0h1m3 0h1m50 0h1m14 0h1m-130 1h1m10 0h1m57 0h1m25 0h1m41 0h1m-174 1h2m15 0h1m82 0h1m60 0h1m3 0h1m8 0h1m-181 1h1m3 0h1m94 0h1m7 0h1m-61 1h1m10 0h1m7 0h1m1 0h1m8 0h1m66 0h1m24 0h1m11 0h1m-176 1h1m1 0h1m62 0h1m49 0h1m46 0h1m14 0h1m-174 1h1m41 0h1m30 0h1m18 0h1m10 0h1m9 0h1m-124 1h1m22 0h1m58 0h2m28 0h1m-99 1h1m12 0h1m7 0h1m22 0h2m67 0h1m18 0h1m4 0h1m-148 1h1m52 0h1m20 0h1m8 0h1m2 0h1m28 0h1m3 0h1m9 0h1m-116 1h1m5 0h1m18 0h1m49 0h1m33 0h1m22 0h1m23 0h1m-180 1h1m10 0h1m36 0h1m10 0h1m47 0h1m11 0h1m6 0h1m-127 1h1m1 0h1m1 0h1m1 0h1m12 0h1m4 0h1m3 0h1m2 0h1m20 0h1m24 0h1m7 0h1m10 0h1m4 0h1m16 0h1m27 0h1m18 0h1m-163 1h1m37 0h1m15 0h1m79 0h1m53 0h1m-185 1h1m14 0h1m11 0h1m3 0h1m4 0h1m37 0h1m9 0h1m14 0h1m54 0h1m-161 1h1m31 0h1m10 0h1m9 0h1m19 0h1m1 0h1m19 0h1m13 0h1m37 0h1m-141 1h1m9 0h1m4 0h1m4 0h1m7 0h1m19 0h1m78 0h1m20 0h1m35 0h1m-142 1h1m8 0h1m64 0h1m1 0h1m2 0h1m-61 1h1m60 0h1m5 0h1m3 0h1m34 0h1m2 0h1m-165 1h1m52 0h1m71 0h1m-135 1h1m8 0h1m11 0h1m15 0h1m77 0h1m31 0h1m14 0h1m14 0h1m5 0h1m2 0h1m-188 1h1m25 0h1m24 0h1m2 0h1m22 0h1m4 0h1m34 0h1m5 0h1m51 0h1m-120 1h1m23 0h1m9 0h1m-70 1h2m52 0h1m91 0h1m9 0h1m9 0h1m-164 1h1m101 0h1m-82 1h1m30 0h1m36 0h1m35 0h1m-124 1h1m29 0h1m3 0h1m27 0h1m29 0h1m10 0h1m21 0h1m21 0h1m-167 1h1m10 0h1m10 0h1m18 0h1m15 0h1m77 0h1m14 0h1m-120 1h1m19 0h1m3 0h1m21 0h1m1 0h1m1 0h1m15 0h1m14 0h1m5 0h1m6 0h1m2 0h1m8 0h1m26 0h1m-74 1h1m-96 1h1m4 0h1m4 0h1m2 0h1m11 0h1m30 0h1m32 0h1m52 0h1m7 0h1m30 0h1m-109 1h1m23 0h1m72 0h1m-159 1h1m80 0h1m43 0h1m9 0h1m2 0h1m1 0h1m-125 1h1m34 0h1m44 0h1m29 0h1m13 0h1m21 0h1m7 0h1m-150 1h1m1 0h1m14 0h1m52 0h1m3 0h1m10 0h1m21 0h1m-140 1h1m22 0h1m16 0h1m19 0h1m66 0h1m1 0h1m28 0h1m-112 1h1m23 0h1m84 0h1m-139 1h1m5 0h1m18 0h1m2 0h1m20 0h1m-47 1h1m34 0h1m25 0h1m15 0h1m11 0h1m10 0h1m52 0h1m-170 1h1m14 0h1m16 0h1m32 0h1m2 0h1m48 0h1m18 0h1m33 0h1m-174 1h1m2 0h1m12 0h1m3 0h1m80 0h1m1 0h1m60 0h1m10 0h1m-150 1h1m1 0h1m21 0h1m7 0h1m1 0h1m75 0h1m-44 1h1m5 0h1m3 0h1m2 0h1m9 0h1m8 0h1m7 0h1m14 0h1m-152 1h1m36 0h1m56 0h1m30 0h1m45 0h1m-172 1h1m9 0h1m7 0h2m74 0h1m2 0h1m30 0h1m2 0h1m-138 1h1m15 0h2m90 0h1m3 0h1m29 0h1m3 0h1m5 0h1m17 0h1m8 0h1m-171 1h1m19 0h1m5 0h1m6 0h1m62 0h1m3 0h1m45 0h1m-116 1h1m7 0h1m2 0h1m5 0h1m79 0h1m24 0h1m13 0h1m-151 1h1m19 0h1m34 0h1m4 0h1m20 0h1m8 0h1m31 0h1m21 0h2m8 0h1m-157 1h1m58 0h1m4 0h1m18 0h1m42 0h1m-107 1h1m41 0h1m16 0h1m30 0h1m14 0h1m-135 1h1m7 0h1m19 0h1m37 0h1m51 0h1m1 0h1m32 0h1m9 0h1m-164 1h1m15 0h1m2 0h1m10 0h1m26 0h1m9 0h1m105 0h1m1 0h1m-183 1h1m45 0h1m7 0h1m90 0h1m-148 1h1m19 0h1m10 0h1m45 0h1m79 0h1m12 0h1m4 0h1m-154 1h1m21 0h1m52 0h1m39 0h1m8 0h1m22 0h1m-163 1h1m22 0h1m3 0h1m11 0h1m7 0h1m85 0h1m17 0h1m-149 1h1m89 0h1m19 0h1m1 0h1m14 0h1m26 0h1m-142 1h1m14 0h1m81 0h1m9 0h1m25 0h1m-137 1h1m9 0h1m71 0h1m17 0h1m22 0h2m5 0h1m33 0h1m-190 1h1m6 0h1m8 0h1m7 0h1m8 0h1m12 0h1m6 0h1m-50 1h1m25 0h1m44 0h1m4 0h1m2 0h1m7 0h1m40 0h1m18 0h1m3 0h1m10 0h1m-164 1h1m25 0h1m9 0h1m22 0h1m3 0h1m12 0h1m26 0h1m21 0h1m2 0h1m11 0h1m36 0h1m-102 1h1m29 0h1m57 0h1m17 0h1m-177 1h1m81 0h1m16 0h1m70 0h1m-180 1h1m3 0h1m2 0h1m7 0h1m10 0h1m29 0h1m41 0h1m43 0h1m20 0h1m-164 1h1m2 0h1m6 0h1m45 0h1m22 0h1m11 0h1m61 0h1m4 0h1m4 0h1m4 0h1m12 0h1m2 0h1m-155 1h1m23 0h1m99 0h1m-57 1h1m43 0h2m2 0h1m42 0h1m-173 1h1m15 0h1m22 0h1m91 0h1m4 0h1m2 0h1m3 0h1m-86 1h1m18 0h2m48 0h1m1 0h1m2 0h1m7 0h2m18 0h1m3 0h1m-154 1h1m10 0h1m16 0h1m12 0h1m7 0h1m59 0h1m16 0h1m-128 1h2m16 0h1m59 0h1m31 0h1m18 0h1m12 0h1m2 0h1m-168 1h1m6 0h1m2 0h1m119 0h1m16 0h1m-120 1h1m38 0h1m21 0h1m54 0h1m14 0h1m-168 1h1m33 0h1m38 0h1m68 0h2m6 0h1m4 0h1m-152 1h1m8 0h1m6 0h1m8 0h2m94 0h1m31 0h1m3 0h1m30 0h1m-182 1h1m55 0h1m21 0h2m20 0h1m63 0h1m15 0h1m-183 1h1m2 0h1m2 0h1m4 0h1m11 0h1m1 0h1m14 0h1m56 0h1m2 0h1m-51 1h1m7 0h1m6 0h1m3 0h1m7 0h1m2 0h1m22 0h1m21 0h1m10 0h1m32 0h1m-145 1h1m44 0h1m8 0h1m5 0h1m13 0h1m2 0h1m5 0h1m3 0h1m6 0h1m4 0h1m4 0h1m8 0h1m35 0h1m-181 1h1m16 0h1m17 0h1m46 0h1m52 0h1m-113 1h1m4 0h1m12 0h1m13 0h1m14 0h1m19 0h1m48 0h1m-142 1h1m5 0h1m29 0h1m7 0h1m1 0h1m5 0h1m33 0h1m62 0h1m10 0h1m21 0h1m-179 1h1m29 0h1m47 0h1m10 0h1m38 0h1m9 0h1m4 0h1m12 0h1m-125 1h1m7 0h1m47 0h1m15 0h1m26 0h1m12 0h1m2 0h1m26 0h1m-180 1h1m83 0h1m23 0h1m40 0h1m8 0h1m-136 1h1m5 0h1m26 0h1m62 0h1m24 0h1m25 0h1m-169 1h1m87 0h1m13 0h1m4 0h1m15 0h1m14 0h1m6 0h1m33 0h2"/>
<path stroke="#3a3a3a" d="M114 0.5h1m22 0h1m-127 1h1m59 0h1m-55 1h1m-2 1h1m7 0h1m28 0h1m82 0h1m14 0h1m-48 1h1m76 0h1m-32 1h1m41 0h1m-117 1h1m72 0h1m33 0h1m-169 1h1m67 0h1m6 0h1m40 0h1m24 0h1m2 0h1m-99 1h1m5 1h1m17 0h1m31 0h1m25 0h1m39 0h1m-177 2h1m16 0h1m94 0h1m6 0h1m-63 2h1m1 0h1m99 0h1m25 0h1m-134 1h1m4 1h1m81 0h1m-109 3h1m18 0h1m86 0h1m5 0h1m-116 1h1m26 0h1m90 0h1m18 0h1m-80 1h1m36 0h1m38 0h1m-124 1h1m64 0h1m12 0h1m-63 2h1m31 1h1m54 0h1m-52 1h1m1 0h1m17 0h1m24 1h1m20 0h1m9 0h1m-138 1h1m101 1h1m-85 1h1m-49 1h1m157 0h1m-143 1h1m156 0h1m-174 1h1m41 0h1m35 0h1m40 1h1m-73 1h1m87 0h1m-78 1h1m91 0h1m-67 1h1m-46 1h1m16 0h1m-59 1h1m101 0h1m44 0h1m-120 1h1m152 0h1m1 0h1m-166 1h1m9 0h1m36 0h1m-71 1h1m145 0h1m-32 1h1m30 0h1m-101 1h1m59 0h1m-26 1h1m37 0h1m6 0h1m42 0h1m-70 1h1m-93 1h1m61 0h1m-45 1h1m-27 1h1m17 0h1m23 0h1m21 0h1m63 0h1m3 0h1m-58 1h1m5 0h1m64 0h1m1 0h1m13 0h1m28 0h1m-169 1h1m4 0h1m84 0h1m3 0h1m12 0h1m1 0h1m19 0h1m18 1h1m-12 1h1m31 0h1m-169 1h1m32 0h1m68 0h1m-94 1h1m81 0h1m33 0h1m-138 1h1m72 0h1m98 0h1m-93 1h1m56 0h1m-128 1h1m120 0h1m43 0h1m-93 1h1m39 0h1m23 0h1m6 0h1m-161 1h1m68 0h1m22 0h1m-28 1h1m101 0h1m-111 1h1m10 1h1m27 0h1m-4 2h1m20 0h1m34 0h1m10 0h1m-167 1h1m27 0h1m31 0h1m85 0h1m22 0h1m-49 1h1m33 0h1m-99 1h1m79 0h1m45 0h1m-159 1h1m50 0h1m56 0h1m7 0h1m49 0h1m-192 1h1m17 0h1m51 0h1m34 0h1m65 0h1m3 0h1m-164 1h1m144 0h1m2 0h1m-118 1h1m77 0h1m16 0h1m4 0h1m43 1h1m-160 1h1m128 0h1m2 0h1m18 0h1m-97 1h1m16 0h1m1 0h1m-64 1h1m46 0h1m82 0h1m-160 1h1m53 0h1m83 0h1m35 0h1m-105 1h1m21 0h1m55 1h1m19 0h1m-123 1h1m5 0h1m116 0h1m-138 1h1m66 0h1m65 0h1m-175 1h1m2 0h1m3 0h1m1 0h1m12 0h1m62 0h1m38 0h1m55 0h1m-132 1h1m141 0h1m-184 1h1m51 0h1m81 0h1m20 0h1m-137 1h1m9 0h1m-36 1h1m14 0h1m22 0h1m3 0h1m85 0h1m-119 1h1m149 0h1m-158 1h1m5 0h1m1 0h1m93 0h1m10 0h1m42 0h1m1 0h1m20 0h1m-165 1h1m54 0h1m-28 3h1m32 0h1m34 0h1m26 2h1m-109 1h1m16 0h1m106 1h1m2 0h1m-103 1h1m29 0h1m95 1h1m-177 1h1m11 0h1m129 0h1m-109 1h1m57 0h1m37 0h1m-125 1h1m2 0h1m123 0h1m-108 1h1m3 0h1m44 0h1m68 0h1m16 0h1m16 0h1m-149 1h1m-9 1h1m10 0h1m112 0h1m-46 1h1m-34 1h1m69 0h1m8 0h1m16 0h1m-176 1h1m80 0h1m83 0h1m-158 1h1m35 0h1m8 0h1m7 1h1m-22 1h1m71 0h1m46 0h1m23 0h1m-156 1h1m32 0h1m27 0h1m1 0h1m18 0h2m-94 1h1m37 0h1m35 0h1m96 0h1m-102 1h1m3 0h1m57 0h1m17 1h1m-84 1h1m101 0h1m-119 1h1m42 0h1m-76 1h1m31 0h1m47 0h1m69 0h1m-153 1h1m131 0h1m-133 1h1m53 0h1m-11 1h1m-73 1h1m9 0h1m90 0h1m-71 2h1m52 1h1m-64 1h1m54 0h1m102 0h1m-139 1h1m22 0h1m90 0h1m29 0h1m-49 1h1m-117 1h1m81 0h1m52 0h1m-158 1h1m112 0h1m5 0h1m-109 1h1m13 0h1m145 0h1m-101 1h1m10 0h1m12 0h1m19 0h1m39 0h1m-98 1h1m-55 1h1m10 0h1m-9 1h1m151 0h1m-101 1h2m13 0h1m-78 1h1m51 0h1m87 0h1m-61 1h1m-38 1h1m11 0h1m39 0h1m28 0h1m-123 1h1m19 0h1m35 2h1m36 1h1m30 0h1m58 0h1m1 0h1m-150 1h1m92 0h1m10 0h1m-68 1h1m8 0h1m-33 1h1m126 0h1m-88 1h1m-61 1h1m1 0h1m3 0h1m141 0h1m-104 1h1m38 0h1m-62 2h1m58 0h1m69 0h1m-170 1h1m15 0h1m8 0h1m56 0h1m13 0h1m63 0h1m-176 1h2m32 0h1m2 0h1m4 0h1m122 2h1m-138 1h1m4 0h1m27 0h1m16 0h1m57 0h1m31 0h1m-122 1h1m68 0h1m-83 1h1m15 0h1m35 0h1m13 0h1m65 0h1m-142 1h2m1 0h1m141 0h1m9 0h1m-154 1h1m2 0h1m122 0h1m-74 1h1m-68 1h1m28 0h1m20 0h1m6 0h1m42 0h1m-84 1h1m8 0h1m37 0h1m6 0h1m34 0h1m-85 1h2m77 0h1m-82 1h1m24 0h1m56 0h1m29 0h1m5 0h1m-70 1h1m104 1h1m-176 1h1m98 0h1m-8 1h1m-59 2h1m138 0h1m-86 1h1m21 0h1m23 0h1m-90 1h1m-35 1h1m8 0h1m30 0h1m108 1h1m-170 1h1m6 0h1m88 0h1m54 0h1m33 0h1m-3 1h1m-186 1h1m3 0h1m85 0h1m-75 1h1m51 1h1m-11 1h1m68 0h1m33 0h1m-133 2h1m26 0h1m71 1h1m34 0h1m-137 1h1m1 0h1m69 0h1m39 0h1m5 1h1m-114 1h1m83 0h1m46 0h1m-103 1h1m43 0h1m61 0h2m-133 1h1m137 0h1m-110 2h1m50 0h1m-117 1h1m162 1h1m-160 1h1m28 0h1"/>
<path stroke="#585858" d="M19 0.5h1m132 4h1m-52 1h1m2 0h1m71 0h1m5 0h1m-86 1h1m82 0h1m-113 1h1m84 0h1m27 0h1m-151 2h1m154 1h1m-187 1h1m121 3h1m61 0h1m-129 1h1m41 0h1m-7 1h1m31 0h1m12 0h1m1 0h1m-113 2h1m90 0h1m28 0h1m-146 1h1m57 1h1m24 1h1m8 0h1m72 1h1m-139 6h1m71 0h1m4 0h1m70 0h1m-122 1h1m-42 1h1m9 1h1m9 1h1m-25 1h1m65 0h1m63 1h1m-13 1h1m13 1h1m37 0h1m-172 2h1m92 0h1m56 1h1m-153 1h1m50 1h1m107 0h1m-145 1h1m114 0h1m-1 1h1m13 0h1m6 0h1m-134 1h1m100 1h1m52 2h1m-47 1h1m-83 1h1m70 0h1m-59 1h1m-50 3h1m55 0h1m96 0h2m-72 1h1m-68 1h1m78 0h1m-73 1h1m69 0h1m-76 2h1m48 0h1m43 0h1m43 2h1m-131 1h1m79 0h1m-25 1h1m-45 1h1m77 0h1m-67 1h1m26 0h1m26 0h1m52 0h1m-74 3h1m-37 2h1m30 1h1m31 0h1m31 0h1m14 0h1m-143 1h1m125 0h1m-37 2h1m4 0h1m31 0h1m25 2h1m-171 1h1m82 0h1m43 0h1m3 0h1m37 2h1m-103 1h1m52 0h1m-47 1h1m-88 2h1m82 0h1m56 1h1m-116 1h1m132 0h1m-107 2h1m116 0h1m-142 1h1m18 0h1m30 0h1m54 1h1m6 0h1m47 0h1m-134 3h1m35 0h1m32 0h1m-33 2h1m65 0h1m-160 1h1m74 0h1m8 0h1m26 0h1m-21 1h1m-89 1h1m90 1h1m-71 1h1m14 0h1m-17 1h1m-8 1h1m91 0h1m-82 1h1m15 0h1m61 0h1m58 0h1m-142 1h1m123 0h1m11 0h1m-119 1h1m-38 1h1m69 0h1m36 3h1m19 0h1m-21 1h1m-1 1h1m49 0h1m-70 1h1m34 2h1m-39 1h1m-3 1h1m-3 1h1m-85 1h1m58 0h1m-61 1h1m-1 1h1m1 0h1m159 3h1m-154 2h1m37 1h1m-20 2h1m4 1h1m105 2h1m-75 2h1m-2 1h1m68 0h1m57 2h1m-190 3h1m-2 1h1m91 2h1m-40 2h1m-10 4h1m82 1h1m-53 1h1m27 1h1m-78 1h1m81 0h2m-2 1h1m1 0h1m-54 2h1m110 2h1m-87 1h1m-34 1h1m77 0h1m21 0h1m-33 4h1m54 0h1m-168 1h1m5 1h1m86 0h1m20 1h1m-7 3h1m7 0h1m52 3h1m-131 2h1m77 0h1m-111 1h1m164 0h1m-113 2h1m25 1h1m50 0h1m33 1h1m-48 2h1m-74 1h1m52 0h1m74 2h1m-182 1h1m128 2h1m-125 2h1m-6 1h1m52 0h1m27 1h1m41 0h1m-48 1h1m76 0h1m-154 1h1m48 1h1m94 0h1"/>
<path stroke="#888" d="M151 5.5h2m27 0h2m-29 1h1m28 0h1m-33 1h1m-1 1h1m-63 12h1m43 0h1m47 1h1m-52 4h1m-49 5h1m-73 7h1m83 0h1m56 7h1m-145 12h1m52 2h1m3 0h1m5 1h1m81 6h1m-108 1h1m114 4h1m0 1h1m-93 1h1m88 0h1m2 0h1m19 2h1m4 0h1m-1 1h1m-7 3h1m-147 1h1m96 7h1m2 5h1m-42 3h1m1 1h1m-1 1h1m-53 5h1m19 0h1m-1 2h1m45 4h2m-16 2h1m14 1h1m-19 3h1m-91 4h1m172 1h1m-35 1h1m-133 3h1m18 3h2m-2 1h1m38 6h1m-3 1h1m1 0h1m45 6h1m-84 9h1m116 0h1m-37 3h1m-1 1h1m81 1h1m-45 5h1m-6 1h1m1 1h1m5 1h1m-10 1h1m-2 6h1m-101 4h1m67 8h1m45 2h1m-140 9h1"/>
<path stroke="#c8c8c8" d="M69 2.5h1m82 4h1m-109 3h1m95 13h1m-73 23h1m3 4h1m112 14h1m-107 1h1m79 9h1m-125 1h1m56 23h2m-52 5h1m65 6h2m-2 1h1m-19 1h1m-2 2h1m0 1h1m-65 12h1m-1 1h1m130 10h1m-97 3h1m126 14h1m-47 7h1m-1 1h1m1 0h1"/>
<path stroke="#fff" d="M150 6.5h2m29 0h1m-31 1h2m-2 1h2m5 63h2m-2 1h2m-67 22h1m-2 1h2m-2 1h2m-51 6h1m-2 1h2m66 4h1m-1 1h1m-2 1h2m-22 2h3m-2 1h2m-90 5h1m-2 1h1m63 14h1m-1 1h1m78 26h1m-2 1h2m-2 1h1m-1 1h2"/>
</g>
<g id="m1" shape-rendering="crispEdges" fill="none" stroke-width="1.02">
<path stroke="#161616" d="M12 0.5h1m34 0h1m30 0h1m3 0h1m2 0h1m33 0h1m1 0h1m6 0h1m16 0h1m1 0h1m21 0h1m11 0h1m7 0h1m-188 1h1m3 0h1m6 0h1m3 0h1m8 0h1m11 0h1m11 0h1m14 0h1m29 0h1m21 0h1m10 0h1m4 0h1m2 0h1m5 0h2m1 0h1m-96 1h1m28 0h1m11 0h1m34 0h1m10 0h2m2 0h1m5 0h1m12 0h1m1 0h1m26 0h1m-181 1h1m4 0h1m24 0h1m12 0h1m4 0h1m25 0h1m2 0h1m24 0h1m14 0h1m1 0h1m4 0h1m14 0h1m-131 1h1m7 0h1m7 0h2m63 0h1m13 0h1m42 0h1m8 0h1m1 0h1m3 0h1m12 0h1m-146 1h1m1 0h1m3 0h1m15 0h1m17 0h1m1 0h1m1 0h2m7 0h1m9 0h1m7 0h1m2 0h1m1 0h1m23 0h1m2 0h1m4 0h1m8 0h1m-152 1h1m32 0h2m33 0h1m52 0h1m17 0h1m1 0h1m21 0h1m-142 1h1m22 0h1m61 0h1m18 0h1m17 0h1m27 0h1m1 0h1m9 0h1m-147 1h1m30 0h1m12 0h1m22 0h2m29 0h1m4 0h1m8 0h1m29 0h1m-179 1h1m1 0h1m11 0h1m3 0h1m48 0h1m13 0h1m14 0h1m19 0h1m18 0h1m28 0h1m16 0h1m1 0h1m-188 1h1m35 0h1m20 0h1m87 0h1m11 0h1m-161 1h1m16 0h1m25 0h1m5 0h1m28 0h2m14 0h1m12 0h1m9 0h1m1 0h1m20 0h1m6 0h1m35 0h2m-174 1h1m3 0h1m16 0h1m15 0h1m14 0h1m11 0h1m1 0h1m105 0h1m6 0h1m-179 1h1m20 0h2m12 0h1m26 0h1m40 0h1m5 0h1m20 0h1m24 0h2m15 0h1m4 0h1m-181 1h1m19 0h1m5 0h1m4 0h1m18 0h1m13 0h1m8 0h1m22 0h1m20 0h1m59 0h1m-176 1h1m2 0h1m19 0h1m10 0h1m31 0h1m27 0h2m18 0h1m40 0h1m-158 1h1m2 0h1m14 0h1m8 0h1m1 0h1m1 0h1m5 0h1m4 0h1m8 0h1m19 0h1m10 0h1m7 0h1m2 0h1m54 0h1m15 0h1m10 0h1m2 0h2m-182 1h1m19 0h1m31 0h1m10 0h1m5 0h1m64 0h1m17 0h1m32 0h1m-188 1h1m25 0h1m1 0h1m1 0h1m22 0h2m15 0h1m16 0h1m25 0h1m1 0h1m5 0h1m45 0h1m10 0h1m-183 1h1m17 0h1m15 0h1m8 0h1m4 0h1m10 0h1m87 0h1m7 0h1m-153 1h1m1 0h1m95 0h1m39 0h1m7 0h1m-126 1h1m13 0h1m2 0h1m4 0h2m34 0h1m4 0h1m1 0h1m5 0h1m6 0h1m20 0h1m9 0h3m34 0h1m-135 1h1m5 0h1m8 0h1m32 0h1m2 0h2m6 0h1m36 0h1m13 0h1m14 0h1m7 0h1m2 0h1m-172 1h1m30 0h1m4 0h1m20 0h1m13 0h1m5 0h1m37 0h1m17 0h1m-114 1h1m23 0h1m26 0h1m1 0h1m3 0h1m2 0h1m19 0h1m1 0h1m21 0h1m5 0h1m18 0h2m-145 1h1m14 0h1m22 0h1m52 0h1m25 0h1m7 0h1m12 0h1m22 0h2m8 0h2m5 0h1m-93 1h1m3 0h1m10 0h1m29 0h1m4 0h1m15 0h1m-160 1h1m23 0h1m15 0h1m23 0h1m1 0h1m9 0h1m21 0h1m47 0h1m34 0h1m-166 1h1m9 0h1m11 0h1m50 0h1m1 0h1m6 0h1m2 0h1m21 0h3m8 0h1m15 0h1m4 0h1m31 0h1m-144 1h1m22 0h1m1 0h1m31 0h1m4 0h1m11 0h1m6 0h2m5 0h1m30 0h1m-156 1h1m7 0h1m1 0h1m4 0h1m85 0h1m20 0h1m3 0h1m10 0h1m31 0h1m11 0h1m-164 1h1m28 0h1m1 0h1m38 0h1m8 0h1m24 0h1m5 0h1m20 0h1m12 0h1m3 0h2m-166 1h1m6 0h1m18 0h1m2 0h1m25 0h1m3 0h1m13 0h1m22 0h1m39 0h1m-122 1h1m7 0h1m4 0h2m4 0h1m54 0h1m14 0h1m16 0h2m53 0h1m-165 1h1m20 0h1m12 0h1m21 0h2m5 0h1m1 0h1m49 0h1m3 0h1m5 0h1m4 0h1m4 0h1m24 0h1m3 0h1m-185 1h1m24 0h1m43 0h1m7 0h1m5 0h1m7 0h1m15 0h1m6 0h1m7 0h1m7 0h1m32 0h1m3 0h1m-141 1h1m3 0h1m1 0h1m6 0h1m1 0h1m10 0h1m8 0h1m10 0h1m12 0h1m42 0h1m-133 1h1m17 0h1m15 0h1m4 0h1m26 0h1m22 0h1m4 0h1m43 0h2m9 0h1m3 0h1m-154 1h1m34 0h1m4 0h1m5 0h1m6 0h1m24 0h1m4 0h1m20 0h1m29 0h1m2 0h2m26 0h1m26 0h1m-177 1h1m1 0h1m24 0h1m23 0h1m65 0h1m5 0h1m19 0h1m7 0h1m20 0h1m-182 1h1m5 0h1m2 0h1m2 0h1m14 0h1m14 0h1m6 0h1m29 0h1m6 0h1m21 0h1m34 0h1m15 0h2m18 0h1m-149 1h1m2 0h1m20 0h1m4 0h1m11 0h1m21 0h1m5 0h1m12 0h1m62 0h1m3 0h2m-167 1h1m2 0h1m4 0h1m2 0h1m16 0h1m38 0h1m12 0h1m6 0h1m4 0h2m7 0h1m21 0h1m19 0h1m-165 1h1m6 0h1m3 0h1m7 0h1m35 0h1m9 0h1m22 0h1m3 0h1m5 0h1m49 0h1m7 0h1m2 0h1m5 0h1m-167 1h1m32 0h1m1 0h1m45 0h1m19 0h1m1 0h1m76 0h1m-175 1h1m11 0h1m4 0h1m2 0h1m1 0h1m4 0h2m32 0h1m19 0h1m41 0h1m4 0h1m8 0h1m-94 1h1m15 0h1m3 0h1m8 0h1m13 0h1m3 0h2m4 0h1m9 0h1m5 0h1m12 0h1m6 0h1m23 0h1m1 0h1m2 0h1m-114 1h1m11 0h1m14 0h1m59 0h1m9 0h1m2 0h1m4 0h2m13 0h1m-169 1h1m36 0h1m6 0h1m73 0h1m46 0h1m-171 1h1m7 0h2m2 0h1m14 0h1m29 0h1m45 0h1m16 0h1m8 0h1m51 0h1m-183 1h1m1 0h2m11 0h1m1 0h2m5 0h1m9 0h1m8 0h1m2 0h1m34 0h1m16 0h1m6 0h1m3 0h1m19 0h1m17 0h1m-147 1h1m28 0h1m32 0h1m1 0h1m11 0h1m18 0h1m12 0h1m6 0h1m21 0h1m10 0h1m25 0h1m-176 1h2m15 0h1m6 0h1m23 0h1m18 0h1m4 0h1m100 0h1m-127 1h1m29 0h1m4 0h1m7 0h1m21 0h1m7 0h1m1 0h1m11 0h1m18 0h1m5 0h1m8 0h1m-169 1h1m15 0h1m3 0h1m41 0h1m19 0h1m18 0h1m13 0h1m5 0h1m22 0h1m-119 1h1m6 0h1m1 0h1m16 0h1m18 0h1m31 0h2m22 0h1m-110 1h1m8 0h1m3 0h1m22 0h1m20 0h1m2 0h1m11 0h1m17 0h1m2 0h1m5 0h1m15 0h1m2 0h2m9 0h1m5 0h1m25 0h1m-173 1h1m8 0h2m73 0h1m11 0h1m25 0h1m14 0h1m34 0h1m-169 1h1m7 0h1m10 0h1m10 0h1m14 0h1m64 0h1m11 0h1m32 0h1m5 0h1m-140 1h1m18 0h1m16 0h1m16 0h1m25 0h1m11 0h1m17 0h1m5 0h1m6 0h3m-151 1h1m10 0h1m13 0h1m29 0h1m27 0h1m2 0h1m31 0h1m2 0h1m29 0h1m15 0h1m-173 1h1m18 0h1m2 0h1m31 0h1m29 0h1m11 0h1m2 0h1m2 0h1m39 0h1m33 0h1m-158 1h1m10 0h1m5 0h1m9 0h1m28 0h1m9 0h1m3 0h1m3 0h1m7 0h1m35 0h1m29 0h1m-144 1h1m21 0h1m4 0h1m62 0h1m4 0h1m31 0h1m-152 1h1m4 0h1m16 0h1m6 0h1m6 0h1m8 0h1m14 0h2m9 0h1m7 0h1m1 0h1m54 0h1m10 0h1m7 0h1m17 0h1m-168 1h1m24 0h1m22 0h1m35 0h1m23 0h1m7 0h1m1 0h1m8 0h1m4 0h1m16 0h1m-146 1h1m43 0h1m4 0h1m1 0h1m14 0h1m13 0h1m6 0h1m13 0h1m26 0h1m-126 1h1m57 0h1m29 0h1m19 0h1m15 0h1m14 0h1m6 0h1m4 0h1m17 0h1m-176 1h1m2 0h1m14 0h1m6 0h1m13 0h1m1 0h1m6 0h2m44 0h1m11 0h1m16 0h1m5 0h1m8 0h1m31 0h1m-170 1h1m20 0h1m8 0h1m1 0h1m31 0h1m1 0h1m4 0h1m2 0h1m31 0h1m8 0h1m12 0h1m20 0h1m4 0h1m6 0h1m8 0h1m-179 1h1m7 0h1m6 0h1m4 0h2m6 0h1m25 0h1m4 0h1m2 0h2m1 0h1m1 0h1m6 0h1m10 0h1m13 0h1m36 0h1m22 0h1m6 0h1m14 0h1m-163 1h1m3 0h1m15 0h1m45 0h1m41 0h1m15 0h1m5 0h1m9 0h1m-133 1h1m1 0h1m21 0h1m3 0h1m10 0h1m2 0h1m4 0h1m12 0h1m2 0h1m11 0h1m6 0h1m18 0h1m27 0h1m10 0h1m12 0h1m-180 1h2m9 0h1m31 0h1m19 0h1m2 0h1m16 0h1m18 0h1m-104 1h2m3 0h2m26 0h1m24 0h1m7 0h1m6 0h1m18 0h1m4 0h1m23 0h1m6 0h1m1 0h1m22 0h1m4 0h1m15 0h1m-158 1h1m62 0h1m2 0h2m10 0h1m40 0h1m15 0h1m2 0h1m12 0h1m3 0h1m-160 1h1m15 0h1m8 0h1m6 0h1m18 0h1m18 0h1m3 0h1m9 0h1m8 0h1m11 0h1m11 0h1m25 0h1m11 0h1m-156 1h1m18 0h1m4 0h2m4 0h1m9 0h1m6 0h1m1 0h1m4 0h1m45 0h1m9 0h1m8 0h1m24 0h1m4 0h1m12 0h2m9 0h1m2 0h1m-191 1h1m10 0h1m3 0h1m20 0h1m35 0h1m20 0h1m6 0h1m7 0h1m12 0h1m33 0h2m14 0h1m7 0h1m9 0h1m-179 1h1m7 0h1m32 0h1m1 0h1m21 0h1m1 0h1m26 0h1m10 0h2m56 0h1m8 0h1m-182 1h1m49 0h1m3 0h1m23 0h1m27 0h1m4 0h1m5 0h1m44 0h2m18 0h1m-170 1h1m4 0h1m14 0h1m8 0h2m22 0h1m3 0h1m30 0h1m9 0h2m6 0h1m23 0h1m13 0h1m13 0h2m-153 1h1m3 0h1m11 0h1m40 0h1m3 0h1m5 0h1m10 0h1m7 0h1m28 0h1m36 0h2m-178 1h1m7 0h1m4 0h1m15 0h1m1 0h1m32 0h1m17 0h1m9 0h2m32 0h1m6 0h1m26 0h1m3 0h2m-166 1h1m7 0h1m12 0h1m7 0h1m5 0h1m1 0h1m5 0h1m18 0h1m5 0h1m5 0h1m30 0h1m14 0h1m11 0h1m11 0h1m19 0h1m27 0h1m-189 1h1m22 0h1m2 0h1m45 0h1m3 0h1m1 0h1m3 0h1m60 0h1m30 0h1m12 0h1m-179 1h1m2 0h1m32 0h1m32 0h1m20 0h1m16 0h1m3 0h1m26 0h1m14 0h1m9 0h1m10 0h1m2 0h1m-185 1h1m13 0h1m15 0h1m3 0h1m7 0h1m40 0h1m23 0h1m1 0h1m6 0h1m4 0h1m10 0h1m1 0h1m1 0h1m7 0h1m1 0h1m34 0h1m-185 1h1m1 0h1m7 0h1m20 0h1m3 0h1m5 0h1m4 0h1m9 0h1m31 0h1m40 0h1m12 0h1m3 0h1m8 0h1m23 0h1m9 0h1m-149 1h2m1 0h1m13 0h1m11 0h1m3 0h1m3 0h1m5 0h1m6 0h1m14 0h1m11 0h1m4 0h1m2 0h1m2 0h1m16 0h1m12 0h1m21 0h1m-165 1h1m6 0h1m1 0h2m17 0h1m4 0h1m38 0h1m15 0h1m5 0h1m44 0h1m-154 1h1m5 0h1m15 0h1m44 0h1m13 0h1m11 0h1m26 0h1m3 0h1m6 0h1m8 0h1m-145 1h1m2 0h1m2 0h1m9 0h1m1 0h2m2 0h1m12 0h1m14 0h1m20 0h1m6 0h1m9 0h1m7 0h1m2 0h1m5 0h1m4 0h1m18 0h1m7 0h1m26 0h1m1 0h1m13 0h1m1 0h1m-185 1h1m5 0h1m27 0h1m5 0h1m31 0h1m8 0h1m3 0h1m29 0h1m8 0h2m13 0h2m32 0h1m6 0h1m6 0h1m-183 1h1m27 0h1m31 0h1m15 0h1m8 0h2m7 0h1m30 0h1m1 0h2m12 0h1m17 0h1m-146 1h1m16 0h1m4 0h1m33 0h1m10 0h1m26 0h1m4 0h2m23 0h1m2 0h1m-146 1h1m10 0h1m5 0h1m4 0h2m5 0h1m35 0h1m11 0h1m20 0h1m71 0h1m-139 1h1m17 0h1m5 0h2m1 0h1m5 0h2m54 0h1m7 0h1m1 0h2m11 0h1m6 0h1m10 0h1m11 0h1m-155 1h2m7 0h1m33 0h1m15 0h1m15 0h1m81 0h1m-164 1h1m10 0h1m34 0h1m39 0h1m11 0h1m4 0h1m5 0h1m24 0h1m4 0h1m25 0h1m-177 1h1m5 0h1m5 0h1m14 0h1m23 0h2m9 0h1m27 0h1m32 0h1m13 0h1m20 0h1m15 0h1m5 0h1m2 0h1m2 0h1m-183 1h1m10 0h1m10 0h1m2 0h1m8 0h1m29 0h1m12 0h1m8 0h1m4 0h1m21 0h2m6 0h1m9 0h1m33 0h1m-171 1h1m17 0h1m41 0h1m7 0h1m67 0h1m1 0h1m2 0h1m-132 1h1m7 0h1m4 0h1m12 0h1m2 0h1m13 0h1m1 0h1m7 0h1m2 0h1m52 0h1m22 0h1m-145 1h1m4 0h1m5 0h1m18 0h1m9 0h1m20 0h2m21 0h3m26 0h1m7 0h1m7 0h1m6 0h1m22 0h1m14 0h1m5 0h1m-173 1h1m22 0h1m6 0h1m3 0h1m32 0h1m5 0h1m13 0h1m24 0h1m2 0h1m3 0h1m3 0h2m15 0h1m16 0h1m5 0h1m4 0h1m-168 1h1m32 0h1m18 0h1m12 0h1m5 0h1m2 0h2m3 0h1m17 0h1m24 0h1m14 0h1m1 0h1m2 0h1m-115 1h2m13 0h1m13 0h1m13 0h1m35 0h1m11 0h1m32 0h1m5 0h1m-158 1h1m26 0h1m10 0h1m5 0h1m9 0h1m7 0h1m9 0h1m36 0h1m11 0h1m5 0h1m8 0h2m1 0h2m13 0h1m18 0h1m-184 1h1m14 0h1m20 0h1m35 0h1m21 0h1m11 0h1m27 0h1m36 0h1m13 0h1m-183 1h1m10 0h1m8 0h1m29 0h1m9 0h1m21 0h1m1 0h1m3 0h1m5 0h1m7 0h1m32 0h1m41 0h1m2 0h1m-178 1h1m22 0h1m2 0h1m3 0h1m28 0h1m15 0h1m27 0h1m49 0h1m-154 1h1m41 0h1m6 0h1m7 0h1m70 0h1m20 0h1m18 0h1m-175 1h1m11 0h1m1 0h1m9 0h1m12 0h2m20 0h1m4 0h1m3 0h1m50 0h1m32 0h1m8 0h1m19 0h1m-183 1h1m19 0h1m9 0h1m5 0h1m7 0h1m28 0h1m13 0h1m9 0h1m13 0h1m36 0h1m27 0h1m10 0h1m-182 1h1m5 0h1m14 0h1m4 0h1m8 0h1m19 0h1m3 0h1m21 0h1m18 0h1m56 0h1m23 0h1m-183 1h1m12 0h1m13 0h1m18 0h1m3 0h1m123 0h1m-176 1h1m19 0h1m4 0h1m5 0h1m17 0h1m11 0h1m1 0h1m2 0h1m1 0h1m10 0h1m29 0h1m14 0h1m7 0h1m5 0h1m3 0h1m30 0h1m10 0h1m-181 1h1m16 0h1m56 0h1m1 0h1m24 0h1m8 0h1m43 0h1m23 0h1m-180 1h1m2 0h1m28 0h1m22 0h1m2 0h1m1 0h1m18 0h1m25 0h1m24 0h1m5 0h1m6 0h1m4 0h2m-153 1h1m3 0h2m20 0h1m11 0h1m21 0h1m28 0h1m56 0h1m13 0h1m8 0h1m-160 1h1m5 0h1m19 0h1m26 0h1m1 0h1m13 0h1m25 0h1m5 0h1m13 0h1m9 0h1m3 0h1m2 0h1m23 0h1m-162 1h1m9 0h1m14 0h2m1 0h1m1 0h1m4 0h1m3 0h1m20 0h1m59 0h1m30 0h1m20 0h1m-172 1h1m8 0h1m1 0h1m1 0h1m11 0h1m7 0h1m9 0h1m6 0h2m34 0h1m31 0h1m6 0h1m31 0h1m-161 1h1m11 0h1m23 0h1m10 0h1m19 0h2m39 0h1m23 0h1m1 0h1m13 0h1m5 0h1m6 0h1m10 0h1m-173 1h1m6 0h1m15 0h1m12 0h1m52 0h1m18 0h1m13 0h2m2 0h1m7 0h1m21 0h1m7 0h1m-156 1h1m36 0h1m13 0h1m49 0h1m19 0h1m39 0h1m-169 1h1m65 0h1m5 0h1m9 0h1m2 0h1m2 0h2m32 0h1m12 0h1m31 0h1m-169 1h1m1 0h1m51 0h1m4 0h1m2 0h1m1 0h1m10 0h1m2 0h1m16 0h1m30 0h1m4 0h1m6 0h1m4 0h1m13 0h1m6 0h1m4 0h1m2 0h1m-180 1h1m14 0h1m12 0h1m6 0h1m4 0h1m25 0h1m7 0h2m13 0h1m16 0h1m18 0h1m-124 1h1m22 0h1m7 0h1m9 0h1m20 0h1m21 0h1m3 0h1m1 0h1m9 0h1m3 0h1m10 0h1m7 0h1m14 0h1m9 0h1m18 0h1m9 0h1m1 0h1m-155 1h1m30 0h2m67 0h1m2 0h1m1 0h2m-120 1h1m10 0h1m3 0h1m11 0h1m6 0h2m4 0h1m56 0h1m27 0h1m6 0h1m13 0h1m2 0h1m27 0h1m-172 1h1m32 0h1m25 0h1m82 0h2m-134 1h1m34 0h1m16 0h1m53 0h1m21 0h1m-131 1h1m3 0h1m10 0h1m3 0h1m7 0h1m11 0h1m33 0h1m38 0h1m7 0h1m25 0h1m-96 1h1m14 0h1m28 0h1m3 0h1m51 0h2m7 0h1m-173 1h1m2 0h1m3 0h1m9 0h1m11 0h1m26 0h1m27 0h1m27 0h1m22 0h1m16 0h1m4 0h1m-175 1h1m15 0h1m1 0h1m13 0h1m4 0h1m6 0h1m15 0h1m61 0h1m22 0h2m16 0h1m-161 1h1m69 0h1m107 0h1m4 0h1m-184 1h2m18 0h1m18 0h1m6 0h1m6 0h1m44 0h1m25 0h1m52 0h1m3 0h1m6 0h2m-187 1h1m5 0h1m8 0h1m3 0h1m43 0h1m9 0h1m28 0h1m14 0h1m18 0h1m15 0h1m-154 1h1m31 0h1m22 0h1m7 0h1m17 0h1m33 0h1m14 0h1m22 0h1m13 0h1m18 0h1m-161 1h1m5 0h1m15 0h1m23 0h1m51 0h1m48 0h1m-169 1h1m29 0h1m19 0h1m3 0h1m3 0h1m16 0h1m8 0h1m34 0h1m4 0h1m6 0h1m27 0h1m-131 1h1m5 0h1m8 0h1m34 0h1m17 0h1m14 0h1m33 0h1m19 0h1m10 0h1m2 0h1m-190 1h1m1 0h1m38 0h1m23 0h1m43 0h1m4 0h1m5 0h1m8 0h1m37 0h1m-169 1h1m14 0h1m25 0h1m7 0h1m21 0h1m44 0h1m23 0h1m12 0h1m13 0h1m-154 1h1m4 0h1m1 0h1m30 0h1m47 0h1m20 0h1m50 0h1m-138 1h1m31 0h1m50 0h1m3 0h1m45 0h1m3 0h1m13 0h1m-169 1h1m12 0h1m33 0h1m45 0h1m4 0h1m1 0h1m7 0h1m14 0h1m6 0h1m13 0h1m11 0h1m-131 1h1m30 0h1m3 0h1m22 0h1m7 0h1m6 0h1m14 0h1m-101 1h1m31 0h1m2 0h1m38 0h1m40 0h1m10 0h1m-131 1h1m2 0h1m2 0h1m22 0h1m12 0h1m12 0h1m44 0h1m8 0h1m10 0h1m31 0h1m3 0h1m2 0h1m-135 1h1m41 0h1m5 0h1m3 0h1m13 0h1m6 0h1m20 0h1m-130 1h1m23 0h1m2 0h1m11 0h1m10 0h1m27 0h2m10 0h1m21 0h1m11 0h1m23 0h1m9 0h1m3 0h1m7 0h2m-82 1h1m32 0h1m17 0h1m16 0h1m14 0h1m-184 1h1m16 0h1m15 0h1m2 0h1m23 0h1m1 0h1m5 0h1m3 0h1m47 0h1m2 0h1m2 0h1m10 0h1m30 0h1m-141 1h1m94 0h1m8 0h1m12 0h1m7 0h1m28 0h1m-168 1h1m5 0h1m26 0h1m29 0h1m1 0h1m11 0h1m5 0h1m3 0h1m22 0h1m1 0h1m3 0h1m32 0h1m5 0h1m10 0h1m2 0h1m-160 1h1m22 0h1m28 0h1m27 0h1m23 0h2m3 0h1m3 0h1m3 0h1m15 0h1m13 0h1m-174 1h1m29 0h1m21 0h1m7 0h2m4 0h1m9 0h1m8 0h1m16 0h1m1 0h1m20 0h1m1 0h1m2 0h1m3 0h1m4 0h1m9 0h1m5 0h1m6 0h1m10 0h1m2 0h1m-163 1h1m3 0h1m58 0h1m15 0h1m13 0h1m24 0h1m2 0h2m11 0h2m18 0h1m13 0h2m-180 1h1m44 0h1m54 0h1m9 0h1m5 0h1m1 0h1m2 0h1m5 0h1m2 0h1m3 0h1m7 0h1m-148 1h1m3 0h1m2 0h1m5 0h2m4 0h1m29 0h1m1 0h1m17 0h1m46 0h1m9 0h2m8 0h1m8 0h1m18 0h1m6 0h1m-114 1h1m3 0h1m40 0h1m2 0h1m31 0h1m24 0h1m11 0h1m-161 1h1m18 0h1m4 0h1m46 0h1m6 0h1m25 0h1m-112 1h1m36 0h1m12 0h1m35 0h1m35 0h1m23 0h1m5 0h1m1 0h1m3 0h2m13 0h1m-170 1h1m23 0h1m20 0h1m2 0h1m24 0h2m2 0h1m41 0h1m41 0h1m12 0h1m-184 1h1m2 0h1m93 0h1m5 0h1m37 0h1m34 0h1m-143 1h1m27 0h1m65 0h2m8 0h1m8 0h1m8 0h1m4 0h2m-172 1h1m18 0h1m20 0h1m2 0h1m15 0h1m1 0h1m21 0h1m19 0h1m47 0h1m1 0h1m34 0h1m-176 1h1m49 0h1m12 0h1m27 0h1m8 0h1m14 0h2m1 0h1m2 0h1m12 0h1m3 0h1m2 0h1m24 0h1m4 0h1m-113 1h1m1 0h1m2 0h1m8 0h1m13 0h1m23 0h1m-112 1h1m34 0h1m6 0h1m17 0h1m34 0h1m15 0h1m-121 1h1m5 0h1m3 0h1m29 0h1m17 0h1m20 0h1m25 0h1m34 0h1m9 0h1m14 0h1m-142 1h1m33 0h2m48 0h1m18 0h1m22 0h2m33 0h1m-171 1h1m13 0h1m68 0h1m4 0h1m64 0h1m13 0h1m-153 1h1m9 0h1m36 0h1m11 0h1m9 0h1m7 0h1m34 0h1m18 0h1m6 0h1m-136 1h1m78 0h1m7 0h1m15 0h1m17 0h1m9 0h1m3 0h1m10 0h1m-183 1h1m20 0h1m24 0h1m21 0h1m5 0h1m57 0h1m18 0h1m2 0h2m12 0h1m3 0h1m-167 1h2m5 0h1m29 0h1m18 0h1m20 0h1m28 0h1m1 0h1m5 0h1m12 0h1m7 0h2m30 0h1m-172 1h1m20 0h1m25 0h1m7 0h1m31 0h1m54 0h1m9 0h1m12 0h1m12 0h1m2 0h1m1 0h2m-188 1h1m7 0h2m47 0h1m13 0h1m15 0h1m9 0h1m42 0h1m13 0h1m3 0h1m-159 1h1m12 0h1m72 0h1m102 0h1m-186 1h1m13 0h1m25 0h2m36 0h1m14 0h1m7 0h1m22 0h1m9 0h1m6 0h1m18 0h1m19 0h1m-170 1h1m31 0h1m7 0h1m29 0h1m6 0h1m21 0h1m61 0h1m-174 1h2m1 0h1m4 0h1m33 0h1m29 0h1m6 0h1m13 0h1m10 0h1m3 0h1m11 0h1m13 0h1m6 0h2m1 0h2m19 0h1m1 0h1m-69 1h2m22 0h1m31 0h1m6 0h1m9 0h1m-166 1h1m8 0h1m46 0h1m12 0h1m13 0h1m27 0h1m12 0h1m8 0h1m26 0h1m8 0h1m8 0h1m-75 1h1m32 0h1m5 0h1m10 0h1m3 0h1m12 0h1m10 0h1m-182 1h1m42 0h1m28 0h1m61 0h1m9 0h1m31 0h1m-166 1h1m7 0h1m73 0h1m5 0h1m1 0h1m9 0h1m33 0h1m29 0h1m2 0h1"/>
<path stroke="#262626" d="M150 0.5h1m37 0h1m-189 1h1m17 0h1m104 0h1m42 0h1m-138 1h1m7 0h1m4 0h1m43 0h1m43 0h1m41 0h1m1 0h1m5 0h1m9 0h1m-39 1h1m9 0h1m16 0h1m6 0h1m3 0h1m-148 1h1m7 0h1m18 0h1m26 0h1m9 0h1m4 0h1m-111 1h1m75 0h1m8 0h1m11 0h1m30 0h1m2 0h1m9 0h1m4 0h1m1 0h1m1 0h1m35 0h1m-54 1h1m11 0h1m1 0h1m-111 1h1m35 0h1m3 0h4m47 0h1m15 0h1m-100 1h1m16 0h1m83 0h1m11 0h1m20 0h1m-134 1h1m17 0h1m5 0h1m26 0h1m27 0h1m25 0h1m14 0h1m14 0h1m7 0h1m-154 1h1m22 0h1m14 0h1m21 0h1m45 0h1m2 0h1m-135 1h1m25 0h1m115 0h1m25 0h1m5 0h1m-183 1h1m16 0h1m4 0h1m10 0h2m7 0h1m47 0h1m61 0h1m6 0h1m6 0h2m-157 1h1m27 0h1m23 0h1m34 0h1m21 0h1m35 0h1m4 0h1m8 0h1m11 0h1m-168 1h1m18 0h1m34 0h1m13 0h1m49 0h1m-115 1h1m5 0h1m24 0h1m20 0h1m3 0h1m5 0h1m11 0h1m30 0h1m15 0h1m15 0h1m11 0h1m-129 1h1m6 0h1m78 0h1m38 0h1m-170 1h1m20 0h1m35 0h1m43 0h1m2 0h1m8 0h1m4 0h1m6 0h1m5 0h1m-119 1h2m8 0h1m16 0h1m6 0h1m36 0h1m17 0h1m5 0h1m11 0h1m-84 1h1m92 0h1m-2 1h1m22 0h1m5 0h1m4 0h1m-90 1h1m9 0h1m66 0h1m10 0h1m8 0h1m19 0h1m-188 1h1m24 0h1m49 0h1m18 0h1m29 0h1m-111 1h1m14 0h1m58 0h1m26 0h1m8 0h1m61 0h1m-123 1h1m27 0h1m55 0h1m32 0h1m-150 1h1m11 0h1m7 0h1m3 0h1m54 0h1m18 0h1m9 0h1m11 0h1m-113 1h1m7 0h1m9 0h1m11 0h1m25 0h1m13 1h1m15 0h1m17 0h1m1 0h1m-96 1h1m10 0h1m52 0h1m-94 1h1m5 0h1m12 0h1m58 0h1m63 0h1m-49 1h1m6 0h1m21 0h1m-146 1h1m8 0h1m17 0h1m93 0h1m9 0h1m11 0h1m-129 1h1m30 0h1m49 0h1m43 0h1m-114 1h1m16 0h3m34 0h1m-76 1h1m64 0h1m14 0h1m5 0h1m33 0h1m25 0h1m31 0h1m-173 1h1m32 0h1m16 0h1m1 0h1m13 0h1m25 0h1m-96 1h1m16 0h1m42 0h1m9 0h1m6 0h1m5 0h1m71 0h1m17 0h1m-177 1h1m20 0h1m117 0h1m-77 1h1m20 0h1m29 0h1m51 0h1m-176 1h1m46 0h1m6 0h1m41 0h1m8 0h1m-99 1h1m5 0h1m21 0h1m27 0h1m70 0h1m8 0h1m27 0h1m-75 1h1m16 0h1m13 0h1m-99 1h1m11 0h1m2 0h1m12 0h1m-47 1h1m1 0h1m54 0h1m2 0h1m4 0h2m15 0h1m5 0h1m3 0h1m3 0h1m2 0h1m12 0h1m18 0h1m-134 1h1m51 0h1m73 0h1m6 0h1m19 0h1m-73 1h1m9 0h1m1 0h1m10 0h1m16 0h1m-107 1h1m11 0h1m72 0h1m5 0h1m64 0h1m-180 1h1m38 0h1m13 0h1m12 0h1m32 0h1m16 0h1m10 0h1m14 0h1m-100 1h1m34 0h1m29 0h1m-93 1h1m12 0h1m56 0h1m16 0h1m9 0h1m10 0h1m32 0h1m-152 1h1m57 0h1m52 0h1m1 0h1m8 0h1m-130 1h1m26 0h1m67 0h1m33 0h1m-126 1h1m31 0h1m24 0h1m19 0h1m48 0h1m-123 1h1m8 0h1m40 0h1m49 0h1m15 0h1m-109 1h1m110 0h1m61 0h1m-180 1h1m64 0h1m20 0h1m37 0h1m27 0h1m-144 1h1m7 0h1m18 0h1m43 0h1m27 0h1m1 0h1m33 0h1m-131 1h1m69 0h1m49 0h1m8 0h1m5 0h1m18 0h1m-179 1h1m18 0h1m50 0h1m7 0h1m33 0h1m28 0h1m-127 1h1m3 0h1m22 0h1m22 0h1m15 0h1m45 0h1m-76 1h1m12 0h1m100 0h1m22 0h1m-179 1h1m30 0h1m21 0h1m9 0h1m13 0h1m23 0h1m22 0h1m-118 2h1m26 0h1m15 0h1m38 0h1m16 0h1m-104 1h1m44 0h1m7 0h1m26 0h1m8 0h1m-100 1h1m5 0h1m73 0h1m23 0h1m8 0h1m21 0h1m-92 1h1m39 0h1m30 0h1m1 0h1m13 0h1m17 0h1m26 0h1m4 0h1m-177 1h1m17 0h1m3 0h1m30 0h1m14 0h1m11 0h1m38 0h1m4 0h1m10 0h1m1 0h1m31 0h1m9 0h1m-192 1h1m35 0h1m92 0h1m20 0h1m-143 1h1m26 0h1m2 0h1m41 0h2m22 0h1m9 0h1m63 0h1m-166 1h2m10 0h1m7 0h1m88 0h2m11 0h1m-106 1h1m8 0h1m7 0h1m54 0h1m13 0h1m55 0h1m5 0h1m-159 1h1m66 0h1m29 0h1m20 0h1m5 0h1m-119 1h1m65 0h1m47 0h1m-139 1h1m22 0h1m8 0h1m51 0h1m51 0h1m27 0h1m-154 1h1m1 0h1m38 0h1m22 0h1m4 0h1m52 0h1m34 0h1m-140 1h1m1 0h1m12 0h1m76 0h1m31 0h1m18 0h1m-173 1h1m23 0h1m5 0h2m67 0h1m-98 1h1m19 0h1m44 0h1m47 0h1m-20 1h1m23 0h1m-102 1h1m8 0h1m17 0h1m42 0h1m67 0h1m5 0h1m12 0h1m-170 1h1m31 0h1m77 0h1m4 0h1m41 0h2m-110 1h1m9 0h1m43 0h1m9 0h1m21 0h1m-139 1h1m5 0h1m1 0h1m15 0h1m7 0h1m115 0h1m3 0h1m2 0h1m9 0h1m-90 1h1m42 0h1m13 0h1m2 0h1m-129 1h1m14 0h1m5 0h1m24 0h1m67 0h1m19 0h1m6 0h1m-154 1h1m37 0h1m25 0h1m-56 1h1m10 0h2m27 0h1m55 0h1m59 0h1m-154 1h1m33 0h1m2 0h1m15 0h1m2 0h1m10 0h1m15 0h1m2 0h1m17 0h1m16 0h1m33 0h1m7 0h1m-128 1h1m9 0h1m21 0h1m29 0h1m6 0h2m31 0h1m13 0h1m23 0h1m-185 1h1m1 0h1m2 0h1m3 0h1m63 0h1m7 0h1m60 0h1m-146 1h1m33 0h1m94 0h1m-119 1h1m1 0h2m16 0h1m11 0h2m14 0h1m16 0h1m83 0h1m28 0h1m-144 1h1m43 0h1m19 0h1m3 0h1m2 0h2m66 0h1m-171 1h1m8 0h1m8 0h1m5 0h2m8 0h1m6 0h1m14 0h1m26 0h1m3 0h1m21 0h1m-96 1h1m5 0h1m11 0h1m15 0h1m7 0h1m20 0h1m28 0h1m23 0h1m-143 1h1m7 0h1m11 0h1m4 0h1m11 0h1m8 0h1m1 0h1m2 0h1m4 0h1m21 0h1m30 0h1m9 0h1m3 0h1m17 0h1m44 0h1m-191 1h1m2 0h1m8 0h1m4 0h1m25 0h1m88 0h1m34 0h1m-156 1h1m10 0h1m16 0h1m14 0h1m9 0h1m7 0h1m32 0h1m3 0h1m23 0h1m38 0h1m-167 1h1m21 0h1m16 0h1m4 0h1m33 0h1m5 0h1m33 0h1m16 0h1m11 0h1m27 0h1m-180 1h1m23 0h1m103 0h1m35 0h1m-164 1h1m80 0h1m67 0h1m35 0h1m-156 1h1m130 0h1m9 0h1m-176 1h1m25 0h1m91 0h1m9 0h2m4 0h1m25 0h1m-97 1h1m43 0h1m27 0h1m31 0h1m-123 1h1m8 0h1m5 0h1m34 0h1m7 0h1m33 0h1m32 0h1m-154 1h1m4 0h1m4 0h1m82 0h2m3 0h1m-113 1h1m7 0h1m5 0h1m20 0h1m31 0h1m3 0h1m6 0h1m29 0h1m36 0h1m-150 1h1m3 0h1m6 0h1m61 0h1m6 0h1m1 0h1m1 0h1m11 0h1m5 0h1m5 0h1m2 0h1m30 0h1m1 0h1m5 0h1m-143 1h1m46 0h1m28 0h1m25 0h1m7 0h1m44 0h1m-129 1h1m53 0h1m28 0h1m15 0h1m18 0h1m7 0h1m24 0h1m-173 1h1m11 0h1m2 0h1m3 0h1m7 0h1m11 0h1m3 0h2m14 0h1m2 0h1m7 0h1m2 0h1m29 0h1m2 0h1m47 0h1m3 0h1m-165 1h1m5 0h1m38 0h1m1 0h1m8 0h1m15 0h1m7 0h1m15 0h1m27 0h1m49 0h1m-177 1h1m11 0h1m25 0h1m20 0h1m62 0h1m9 0h1m8 0h1m33 0h1m4 0h1m-146 1h1m33 0h1m32 0h1m-71 1h1m115 0h1m-99 1h1m4 0h1m13 0h1m1 0h1m3 0h1m45 0h1m1 0h1m-116 1h1m13 0h1m5 0h1m22 0h1m19 0h1m20 0h2m66 0h1m-141 1h1m4 0h1m35 0h1m76 0h1m37 0h1m-181 1h1m53 0h1m58 0h1m58 0h1m8 0h1m-150 1h1m30 0h1m15 0h1m24 0h1m2 0h1m12 0h1m6 0h1m27 0h1m-160 1h1m6 0h1m28 0h2m40 0h1m8 0h1m4 0h1m65 0h1m-109 1h1m19 0h1m76 0h1m23 0h1m-165 1h1m4 0h1m14 0h1m9 0h1m106 0h1m41 0h1m-176 1h1m130 0h1m2 0h1m10 0h1m8 0h1m-110 1h1m14 0h1m63 0h1m-128 1h1m23 0h1m1 0h1m26 0h1m128 0h1m-185 1h1m12 0h1m43 0h1m32 0h1m40 0h1m14 0h1m-148 1h1m19 0h1m28 0h1m39 0h1m48 0h1m1 0h1m10 0h1m13 0h1m11 0h1m-171 1h1m106 0h1m23 0h1m-75 1h1m11 0h1m13 1h1m9 0h1m12 0h1m6 0h1m61 0h1m-161 1h1m11 0h1m39 0h1m18 0h1m29 0h1m9 0h1m18 0h1m-145 1h1m54 0h1m24 0h1m64 0h1m23 0h1m-180 1h1m1 0h1m7 0h1m33 0h1m11 0h1m3 0h1m23 0h1m2 0h1m15 0h1m16 0h1m22 0h1m-147 1h1m10 0h1m65 0h1m4 0h1m5 0h1m6 0h1m18 0h1m8 0h1m18 0h1m14 0h1m12 0h1m14 0h1m-96 1h1m2 0h1m43 0h1m18 0h1m-130 1h1m11 0h1m72 0h1m20 0h1m54 0h1m-188 1h1m44 0h1m28 0h1m16 0h1m7 0h1m51 0h1m4 0h1m33 0h1m-184 1h1m25 0h1m28 0h1m27 0h1m22 0h1m10 0h1m6 0h1m31 0h1m11 0h1m-170 1h1m6 0h1m1 0h1m5 0h1m37 0h1m9 0h1m79 0h1m-136 1h1m10 0h1m10 0h1m2 0h1m21 0h1m30 0h1m33 0h1m11 0h1m5 0h1m36 0h1m-180 1h1m106 0h1m48 0h1m-157 1h1m32 0h1m17 0h1m33 0h1m93 0h1m-97 1h1m2 0h1m28 0h1m20 0h1m8 0h1m18 0h1m5 0h1m-171 1h1m10 0h1m31 0h1m55 0h1m55 0h1m3 0h1m21 0h1m-129 1h1m4 0h1m40 0h1m10 0h1m15 0h1m6 0h1m10 0h1m1 0h1m4 0h1m-147 1h1m5 0h1m11 0h1m80 0h1m46 0h1m-105 1h1m54 0h1m13 0h1m44 0h1m15 0h1m-173 1h1m41 0h1m63 0h1m32 0h1m-136 1h1m15 0h1m7 0h1m63 0h1m22 0h1m43 0h1m17 0h1m-179 1h1m26 0h1m1 0h1m16 0h1m31 0h1m54 0h1m9 0h1m37 0h1m-187 1h1m1 0h1m15 0h1m13 0h1m7 0h1m87 0h1m1 0h1m53 0h1m-180 1h1m15 0h1m11 0h1m73 0h1m63 0h1m3 0h1m3 0h1m-78 1h1m52 0h1m-95 1h1m69 0h1m2 0h2m34 0h2m-167 1h2m131 0h1m1 0h2m-112 1h1m3 0h1m23 0h1m69 0h1m2 0h1m7 0h1m31 0h1m-163 1h1m2 0h1m28 0h1m7 0h1m20 0h1m15 0h1m75 0h1m7 0h1m-113 1h1m4 0h1m15 0h1m80 0h1m2 0h1m-113 1h1m45 0h1m30 0h1m26 0h2m10 0h1m2 0h1m3 0h1m2 0h1m-159 1h1m6 0h1m113 0h1m39 0h1m-169 1h1m39 0h1m31 0h1m33 0h1m11 0h1m46 0h1m-176 1h1m8 0h1m43 0h1m70 0h1m2 0h1m3 0h1m1 0h1m8 0h1m1 0h1m7 0h1m7 0h1m-153 1h1m27 0h1m15 0h1m7 0h1m70 0h1m27 0h1m9 0h1m-145 1h1m26 0h1m8 0h1m5 0h1m78 0h1m-121 1h1m10 0h1m28 0h1m8 0h2m51 0h1m12 0h1m-105 1h1m23 0h1m64 0h1m3 0h1m-83 1h1m30 0h1m29 0h1m21 0h1m42 0h1m-155 1h1m13 0h1m14 0h1m3 0h1m78 0h1m30 0h1m4 0h1m7 0h1m10 0h1m-183 1h1m57 0h1m12 0h1m8 0h1m12 0h1m28 0h1m3 0h1m37 0h1m2 0h1m-162 1h1m7 0h1m21 0h1m39 0h1m23 0h1m31 0h1m10 0h1m1 0h1m3 0h1m-159 1h1m6 0h1m3 0h1m91 0h1m12 0h1m-95 1h1m68 0h1m84 0h1m-120 1h1m14 0h1m85 0h1m-130 1h1m23 0h1m19 0h1m51 0h1m7 0h1m8 0h1m9 0h1m5 0h1m29 0h1m-169 1h1m1 0h1m11 0h1m15 0h1m85 0h2m30 0h1m-146 1h1m30 0h1m73 0h1m3 0h1m54 0h1m-161 1h1m97 0h1m-64 1h1m23 0h1m7 0h1m3 0h1m22 0h1m14 0h1m29 0h2m-141 1h1m2 0h1m8 0h2m13 0h1m28 0h1m4 0h1m39 0h1m49 0h1m4 0h1m5 0h1m-180 1h1m35 0h1m30 0h1m112 0h1m-156 1h1m13 0h1m5 0h1m14 0h1m27 0h1m67 0h1m-166 1h1m50 0h1m60 0h1m5 0h1m10 0h1m-126 1h1m24 0h1m44 0h1m28 0h1m6 0h1m52 0h1m10 0h1m-99 1h1m3 0h1m2 0h1m23 0h1m33 0h1m48 0h1m-115 1h1m35 0h1m17 0h1m3 0h1m27 0h1m24 0h1m-170 1h1m1 0h3m68 0h1m-58 1h1m68 0h1m16 0h1m34 0h1m-72 1h1m52 0h1m6 0h1m22 0h1m-142 1h1m7 0h1m12 0h1m35 0h1m8 0h1m47 0h1m16 0h1m-117 1h1m96 0h1m-127 1h1m32 0h1m76 0h1m15 0h1m1 0h1m2 0h1m10 0h1m29 0h1m5 0h1"/>
<path stroke="#3a3a3a" d="M86 0.5h1m8 0h1m-85 1h1m180 0h1m-166 1h1m139 0h1m-125 1h1m139 0h1m-65 1h1m27 0h1m-147 1h1m30 0h1m75 0h1m54 0h1m-158 1h1m6 0h1m103 0h1m7 0h1m-94 1h1m14 0h1m76 0h1m-117 1h1m93 0h1m19 0h1m24 0h1m5 2h1m17 0h1m-143 1h1m115 0h1m-70 1h1m49 0h1m12 0h1m33 0h1m1 0h1m11 0h1m-111 1h1m16 1h1m71 0h1m18 0h1m-99 1h1m94 0h1m-76 1h1m-76 1h1m61 0h1m68 0h1m8 0h1m-171 1h1m7 0h1m10 0h1m33 0h1m16 0h1m-41 1h1m28 0h1m102 0h1m-115 1h1m71 0h1m43 0h1m-123 1h1m33 0h1m31 1h1m24 0h1m43 0h1m-139 1h1m4 0h1m138 1h1m-150 1h1m28 1h1m-60 3h1m114 0h1m28 0h1m-121 1h1m46 0h2m102 0h1m-166 2h1m12 0h1m16 0h1m11 0h1m58 1h1m-78 1h1m-32 1h1m24 0h1m130 0h1m-76 1h1m-36 1h1m25 0h1m91 0h1m10 0h1m-126 1h1m100 0h1m1 0h1m-60 1h1m23 0h1m8 0h1m39 0h1m-173 1h1m4 1h1m4 0h1m21 0h1m7 0h1m6 0h1m90 0h1m-5 1h1m-31 1h1m-107 1h1m82 0h1m22 0h1m34 0h1m34 1h1m-55 1h1m44 1h1m-67 1h1m28 0h1m-133 1h1m119 0h1m22 1h1m28 0h1m-162 1h1m67 1h1m-31 1h1m56 0h1m22 0h1m-98 1h1m-27 1h1m67 0h1m5 0h1m16 0h1m68 0h1m-32 1h1m3 1h1m52 0h1m-180 2h1m116 1h1m2 0h1m19 0h1m33 0h1m1 0h1m-169 1h1m68 0h1m33 0h1m4 0h1m-94 1h1m88 0h1m20 0h1m-139 1h1m93 0h1m-93 1h1m32 0h1m-36 1h1m16 0h1m77 0h1m-94 1h1m65 0h1m59 0h1m21 0h1m-119 1h1m7 2h1m35 0h1m23 0h1m59 0h1m-65 1h1m60 0h1m2 0h1m-144 1h1m11 0h1m2 0h1m85 0h1m13 0h1m-135 1h1m15 0h1m-1 1h1m0 1h1m51 0h1m93 0h1m2 1h1m4 0h1m-63 1h1m24 0h1m17 0h1m-55 1h1m40 0h1m9 0h1m-81 1h1m65 0h1m-46 1h1m2 0h1m11 0h1m4 0h1m11 0h1m10 0h1m-16 1h1m14 1h1m51 0h1m-129 1h1m9 0h1m24 0h1m14 0h1m38 0h1m13 0h1m-20 1h1m-117 1h1m7 0h1m51 0h1m21 0h1m-99 1h1m-9 1h1m24 0h1m6 0h1m18 0h1m67 0h1m-92 1h1m39 0h1m28 0h1m-28 1h1m10 0h1m4 0h1m-59 1h1m20 0h1m34 0h1m8 0h1m-66 1h1m10 0h1m-36 1h1m37 0h1m30 0h1m71 1h1m13 1h1m-95 1h1m-58 1h1m11 0h1m36 0h1m91 0h1m-140 1h1m29 0h1m108 0h1m-153 1h1m3 0h1m15 0h1m6 0h1m21 0h1m-25 1h1m122 0h1m37 0h1m-140 1h1m-31 1h1m31 0h1m-41 1h1m14 0h1m19 0h1m86 0h1m12 0h1m-106 2h1m70 0h1m-79 1h1m121 0h1m10 0h1m-143 1h1m99 0h1m57 0h1m-149 1h1m45 0h1m72 0h1m-37 1h1m28 0h1m9 0h1m-131 2h1m59 1h1m70 0h1m-150 1h1m133 0h1m-123 1h1m165 0h1m-48 1h1m34 0h1m-143 1h1m53 0h1m23 0h1m6 0h1m-75 1h1m55 0h1m-70 1h1m3 0h1m11 0h1m87 0h1m10 0h1m-106 1h1m15 1h1m4 0h1m8 0h1m63 0h1m-108 1h1m9 0h1m3 0h1m82 0h1m62 0h1m-184 1h1m37 0h1m20 1h1m19 0h1m-75 1h1m121 0h1m-101 1h1m39 0h1m7 1h1m90 0h1m-150 1h1m69 0h1m66 1h1m-115 1h1m16 0h1m36 0h1m17 0h1m-90 1h1m85 0h1m32 0h1m-30 1h1m40 0h1m3 0h1m-33 1h1m-73 2h1m105 0h1m11 0h1m9 0h1m-173 1h1m14 0h1m23 0h1m77 1h1m31 0h1m-68 1h1m72 0h1m-135 1h1m21 0h1m-20 1h1m23 0h1m84 0h1m29 0h1m-71 1h1m13 0h1m1 1h1m-72 1h1m27 0h1m-6 1h1m24 0h1m84 3h1m-132 1h1m17 0h1m22 0h1m-52 1h1m27 1h1m60 0h1m43 0h1m-156 1h1m86 0h1m77 1h1m-176 1h1m19 0h1m18 0h1m33 0h1m-12 1h1m3 0h1m48 0h1m51 1h1m-165 1h1m2 0h1m28 0h1m135 0h1m-43 1h1m10 0h1m12 0h1m4 0h1m-107 1h1m65 1h1m18 0h1m-66 1h1m83 0h1m-147 1h1m6 0h1m76 0h1m27 0h1m9 1h1m26 0h1m-68 1h1m1 0h1m64 0h2m-165 1h1m8 0h1m63 0h1m23 0h1m-91 1h1m52 0h1m25 0h1m30 0h1m30 0h1m15 1h1m-136 2h1m17 0h1m93 0h1m-89 1h1m65 0h1m19 0h1m-66 1h1m12 0h1m70 0h1m-124 1h1m113 0h1m28 0h1m-130 1h1m-33 1h1m21 0h1m15 0h1m40 0h1m-64 1h1m67 0h1m6 0h1m45 0h1m-55 1h1m-75 1h1m37 0h1m66 0h1m-80 1h1m14 1h1m13 0h1m4 0h1m-71 1h1m42 0h1m-62 2h1m36 1h1m10 0h1m32 0h1m-62 2h1m58 0h1m64 0h1m25 0h1m-113 1h1m7 0h1m-30 1h1m120 1h1m-108 1h1m-44 1h1m12 0h1m126 0h1m21 0h1m-92 1h1m28 0h2m5 0h1m-14 1h1m-74 1h1m152 0h1m-188 1h1m40 1h1m-46 1h1m108 0h1"/>
<path stroke="#585858" d="M10 1.5h1m156 0h1m-90 1h1m1 3h1m91 0h1m-94 1h1m1 0h1m19 0h1m46 0h1m-81 1h1m79 0h1m-135 3h1m171 1h1m-186 1h1m182 0h1m1 0h1m-2 1h1m-172 7h1m69 0h1m38 0h1m56 1h1m-117 1h1m45 1h1m-106 5h1m27 2h1m92 2h1m-64 3h1m44 1h1m-97 1h1m51 2h1m18 0h1m3 1h1m-42 1h1m25 0h1m54 1h1m-52 1h1m41 0h1m-53 1h1m115 1h1m-55 1h1m-61 2h1m-65 3h1m45 0h1m116 0h1m-48 1h1m38 0h1m7 1h1m-148 3h1m-14 2h1m131 0h1m-74 2h1m54 0h1m-110 6h1m3 0h1m99 0h1m70 0h1m-126 1h1m23 0h1m82 2h1m-144 3h1m58 1h1m-29 1h2m25 1h1m97 0h1m5 0h1m-40 2h1m-64 1h1m77 3h1m-146 1h1m-1 1h1m26 1h1m116 0h1m-152 1h1m71 0h1m53 0h1m25 0h1m-134 1h1m82 0h1m-94 4h1m23 0h1m13 0h1m28 1h1m2 0h1m-17 2h1m33 0h1m21 0h1m-83 1h1m48 0h1m22 1h1m-49 1h1m-29 2h1m61 0h1m-79 1h1m40 0h1m9 0h1m-20 3h1m64 0h1m-94 1h1m85 0h1m-42 1h1m-37 2h1m-30 1h1m4 1h1m162 1h1m-125 1h1m58 0h1m-94 1h1m4 1h1m92 3h1m19 0h1m-97 1h1m64 0h1m-66 1h1m98 4h1m-42 1h1m6 9h1m44 0h1m-65 2h1m89 0h1m-7 3h1m-160 1h1m100 2h1m-86 2h1m40 1h1m112 1h1m-111 1h1m65 2h1m39 0h1m-168 2h1m112 0h1m-44 1h1m-33 1h1m-19 1h1m11 0h1m52 1h1m-70 2h1m3 1h1m1 1h1m69 2h1m12 1h1m-103 2h1m11 0h1m29 0h1m114 0h1m-158 2h1m1 0h1m77 2h1m63 0h1m5 0h1m-64 3h1m-75 3h1m121 5h1m15 0h1m-8 1h1m-68 3h1m-96 2h1m71 1h1m85 1h1m-55 1h1m65 0h1m-59 3h1m24 1h1m-67 2h1m28 1h1m73 0h1m7 0h1"/>
<path stroke="#888" d="M80 6.5h1m66 1h1m-127 3h1m67 1h1m95 0h1m-111 2h2m109 0h1m-112 1h1m1 0h1m-40 12h1m2 7h1m127 0h1m-123 1h1m118 10h1m-50 6h1m15 5h1m-90 1h1m-33 9h1m10 6h1m1 2h1m-2 1h1m60 1h1m70 0h2m-74 1h1m72 1h1m-142 5h1m147 0h2m-106 1h1m28 5h1m1 2h1m-3 1h2m-63 11h1m128 1h1m-76 3h1m-1 1h2m-77 1h1m27 44h2m-20 4h1m0 2h1m0 3h1m-1 2h1m163 9h1m-65 17h1m61 3h1"/>
<path stroke="#c8c8c8" d="M121 1.5h1m-107 6h1m169 5h1m-110 2h1m49 44h1m10 4h1m-127 2h2m-3 1h1m0 1h1m11 6h1m1 0h1m58 2h2m-1 2h1m4 12h1m-3 1h1m-1 1h1m102 18h1m0 38h1m-114 2h1m28 10h1m-2 1h3m-2 1h1m-87 9h1"/>
<path stroke="#fff" d="M11 65.5h1m12 6h1m-1 1h1m-2 1h2m131 3h2m-2 1h1m8 4h1m-77 8h2m-2 1h2m-72 72h2"/>
</g>
<g id="m2" shape-rendering="crispEdges" fill="none" stroke-width="1.02">
<path stroke="#161616" d="M41 0.5h1m30 0h1m8 0h1m57 0h1m5 0h1m4 0h2m-109 1h1m43 0h1m3 0h1m12 0h2m18 0h1m10 0h1m43 0h1m-163 1h1m6 0h1m9 0h1m10 0h1m1 0h1m60 0h1m10 0h1m29 0h1m11 0h1m10 0h1m-135 1h1m1 0h1m18 0h1m5 0h1m2 0h1m11 0h1m3 0h1m13 0h2m25 0h1m5 0h1m26 0h1m19 0h1m4 0h1m6 0h2m-192 1h1m25 0h1m8 0h1m9 0h1m7 0h1m1 0h1m23 0h1m2 0h1m28 0h1m25 0h1m6 0h1m27 0h1m-142 1h1m15 0h1m8 0h1m12 0h1m30 0h1m14 0h1m19 0h1m-135 1h1m19 0h1m17 0h1m16 0h1m1 0h1m1 0h1m6 0h1m2 0h1m1 0h1m20 0h2m3 0h1m13 0h1m7 0h1m18 0h1m8 0h1m15 0h1m21 0h1m-186 1h1m4 0h1m12 0h1m4 0h1m5 0h1m1 0h1m19 0h1m17 0h1m33 0h1m59 0h1m5 0h1m10 0h1m10 0h1m-192 1h1m28 0h1m21 0h1m3 0h1m1 0h1m3 0h1m4 0h1m18 0h1m10 0h1m3 0h1m11 0h1m6 0h1m4 0h1m8 0h2m5 0h1m14 0h1m1 0h1m31 0h1m-163 1h1m7 0h1m1 0h1m17 0h1m11 0h1m5 0h1m18 0h1m35 0h1m14 0h1m18 0h1m21 0h1m-180 1h1m1 0h1m5 0h1m51 0h1m2 0h3m7 0h1m4 0h1m7 0h1m14 0h1m6 0h1m13 0h1m2 0h1m15 0h1m18 0h1m20 0h1m4 0h1m-165 1h1m11 0h1m67 0h1m3 0h1m23 0h1m12 0h1m18 0h1m20 0h1m-178 1h1m6 0h1m8 0h1m9 0h1m9 0h1m8 0h1m66 0h1m8 0h1m3 0h1m47 0h1m-173 1h1m10 0h1m13 0h1m3 0h1m2 0h1m3 0h1m3 0h1m30 0h1m5 0h1m6 0h1m2 0h1m7 0h1m6 0h1m2 0h1m1 0h1m15 0h1m19 0h1m2 0h1m8 0h1m22 0h1m-187 1h1m41 0h1m4 0h1m11 0h1m16 0h1m40 0h1m47 0h1m-166 1h1m27 0h1m4 0h1m3 0h1m27 0h1m3 0h1m27 0h1m11 0h2m7 0h1m44 0h1m-168 1h1m19 0h1m10 0h1m26 0h2m15 0h1m6 0h1m15 0h1m14 0h1m10 0h1m34 0h1m18 0h1m3 0h1m-183 1h1m71 0h1m12 0h1m3 0h1m12 0h1m39 0h1m44 0h1m-178 1h1m10 0h1m1 0h1m8 0h1m2 0h1m19 0h1m10 0h1m21 0h1m26 0h1m16 0h1m12 0h1m21 0h1m8 0h1m-161 1h1m4 0h1m11 0h2m30 0h1m7 0h1m9 0h1m52 0h1m21 0h1m26 0h1m-180 1h1m8 0h1m4 0h1m28 0h1m24 0h1m4 0h1m20 0h1m4 0h1m9 0h1m24 0h1m8 0h1m25 0h1m8 0h1m6 0h1m-156 1h1m28 0h1m4 0h2m36 0h1m16 0h1m61 0h2m-173 1h1m9 0h1m1 0h1m4 0h1m19 0h1m8 0h1m46 0h1m10 0h1m2 0h1m15 0h1m26 0h1m-145 1h1m1 0h2m28 0h1m21 0h2m83 0h1m20 0h1m6 0h1m-179 1h1m19 0h1m9 0h1m5 0h1m6 0h1m51 0h1m6 0h1m-36 1h1m10 0h1m11 0h1m1 0h1m45 0h1m33 0h1m-175 1h1m8 0h1m17 0h1m19 0h1m11 0h1m41 0h1m3 0h1m11 0h1m24 0h1m23 0h1m5 0h1m2 0h1m1 0h1m3 0h1m-176 1h1m12 0h1m3 0h1m6 0h1m45 0h1m4 0h1m15 0h1m15 0h1m5 0h1m55 0h1m-182 1h1m47 0h1m8 0h1m14 0h1m14 0h1m2 0h1m3 0h1m7 0h1m1 0h2m5 0h1m3 0h1m51 0h2m11 0h1m-175 1h1m11 0h1m30 0h1m37 0h1m8 0h1m27 0h1m14 0h1m23 0h1m18 0h1m-137 1h1m79 0h2m36 0h1m4 0h1m5 0h1m-166 1h1m9 0h2m3 0h1m52 0h1m18 0h1m23 0h1m16 0h1m12 0h1m5 0h1m6 0h1m3 0h1m5 0h1m-173 1h1m12 0h1m17 0h1m6 0h2m4 0h1m4 0h1m54 0h1m9 0h1m14 0h2m31 0h1m5 0h1m-168 1h1m10 0h1m17 0h1m5 0h1m13 0h1m18 0h1m9 0h1m15 0h1m4 0h1m9 0h1m13 0h1m4 0h1m-135 1h1m15 0h1m2 0h1m51 0h1m34 0h1m21 0h1m6 0h1m15 0h1m25 0h1m1 0h2m-170 1h1m20 0h1m9 0h1m8 0h1m27 0h1m37 0h1m29 0h1m4 0h1m-152 1h1m11 0h1m30 0h1m19 0h1m20 0h1m12 0h1m21 0h1m11 0h1m2 0h1m3 0h1m4 0h1m32 0h1m-171 1h1m16 0h1m34 0h1m54 0h1m29 0h1m31 0h1m8 0h1m3 0h1m-186 1h1m19 0h2m88 0h2m26 0h1m2 0h1m10 0h2m30 0h1m-190 1h1m11 0h1m20 0h1m5 0h1m4 0h1m2 0h1m16 0h1m1 0h1m1 0h1m9 0h2m14 0h1m14 0h1m15 0h1m4 0h1m29 0h1m1 0h1m14 0h1m1 0h1m-169 1h1m20 0h1m7 0h1m1 0h1m70 0h1m5 0h1m5 0h1m2 0h1m7 0h1m9 0h1m10 0h1m16 0h1m13 0h1m-150 1h1m4 0h1m34 0h1m24 0h1m9 0h1m23 0h1m23 0h1m23 0h1m-179 1h1m11 0h1m15 0h1m1 0h1m1 0h1m2 0h1m23 0h1m20 0h1m9 0h1m6 0h1m8 0h1m1 0h1m37 0h1m1 0h1m6 0h1m2 0h1m3 0h1m17 0h1m-183 1h1m28 0h2m4 0h1m52 0h1m6 0h1m60 0h1m-134 1h1m3 0h1m1 0h1m8 0h1m12 0h1m5 0h1m25 0h1m15 0h2m15 0h1m10 0h1m1 0h1m16 0h2m9 0h1m7 0h1m-165 1h1m5 0h1m29 0h1m1 0h1m6 0h1m18 0h1m36 0h1m4 0h1m44 0h1m22 0h1m1 0h1m7 0h1m-179 1h1m11 0h1m7 0h1m7 0h1m9 0h1m7 0h1m11 0h1m8 0h2m2 0h1m1 0h1m10 0h1m4 0h1m24 0h1m30 0h1m21 0h1m-131 1h1m43 0h2m32 0h1m28 0h1m3 0h1m11 0h1m6 0h1m-171 1h1m27 0h1m65 0h1m9 0h1m6 0h1m69 0h1m-181 1h1m72 0h1m2 0h1m69 0h1m-158 1h1m22 0h1m27 0h1m49 0h1m6 0h1m8 0h1m6 0h1m23 0h1m-136 1h1m8 0h1m9 0h1m2 0h1m11 0h1m66 0h1m10 0h1m16 0h1m4 0h1m20 0h1m16 0h1m-157 1h1m10 0h1m12 0h1m40 0h1m4 0h1m53 0h1m-141 1h1m71 0h1m47 0h1m2 0h2m12 0h1m12 0h1m-156 1h1m14 0h1m2 0h1m4 0h1m9 0h1m8 0h1m34 0h2m13 0h1m9 0h1m11 0h1m10 0h1m26 0h1m12 0h1m-164 1h1m5 0h3m3 0h1m21 0h1m6 0h2m61 0h1m37 0h1m3 0h1m-150 1h1m1 0h1m6 0h1m4 0h1m8 0h1m8 0h1m9 0h1m47 0h1m12 0h1m6 0h1m21 0h2m17 0h1m2 0h1m12 0h1m-170 1h1m34 0h1m17 0h1m31 0h1m8 0h2m3 0h2m1 0h1m4 0h1m10 0h2m6 0h1m14 0h1m9 0h1m9 0h1m18 0h1m6 0h1m-187 1h1m19 0h1m24 0h1m7 0h1m12 0h1m49 0h1m1 0h1m5 0h1m15 0h1m11 0h1m22 0h1m-159 1h1m27 0h2m48 0h1m11 0h1m7 0h1m6 0h1m3 0h1m54 0h1m-187 1h1m19 0h1m1 0h1m28 0h1m35 0h1m3 0h2m37 0h2m17 0h1m10 0h1m6 0h1m14 0h1m6 0h1m-186 1h1m16 0h1m4 0h1m29 0h1m30 0h1m11 0h1m24 0h2m32 0h1m24 0h1m-168 1h1m37 0h1m38 0h1m14 0h1m2 0h2m40 0h1m10 0h1m9 0h1m-75 1h1m27 0h1m24 0h1m16 0h1m2 0h1m5 0h1m3 0h1m4 0h1m-179 1h1m32 0h1m43 0h1m39 0h1m7 0h1m21 0h1m-153 1h1m28 0h1m10 0h1m10 0h1m26 0h1m14 0h1m7 0h1m8 0h1m3 0h1m8 0h1m-125 1h1m6 0h1m8 0h1m6 0h1m11 0h1m20 0h1m70 0h1m16 0h1m8 0h1m10 0h1m17 0h1m3 0h1m-170 1h2m43 0h1m45 0h1m1 0h1m32 0h1m21 0h2m7 0h1m5 0h1m-174 1h1m33 0h1m44 0h1m14 0h1m10 0h1m14 0h1m8 0h1m16 0h1m2 0h1m19 0h1m1 0h1m4 0h1m-181 1h2m2 0h1m24 0h1m11 0h1m31 0h1m63 0h1m8 0h1m20 0h1m-138 1h1m13 0h1m2 0h1m12 0h1m40 0h1m10 0h1m20 0h1m21 0h1m14 0h1m-172 1h1m14 0h1m31 0h1m5 0h1m3 0h1m4 0h1m4 0h1m7 0h2m18 0h1m11 0h1m26 0h1m7 0h1m36 0h2m-181 1h1m6 0h1m1 0h1m20 0h1m34 0h1m33 0h1m13 0h2m5 0h1m32 0h1m-155 1h1m2 0h1m17 0h1m37 0h1m13 0h1m8 0h1m27 0h1m19 0h1m15 0h1m6 0h1m6 0h1m7 0h1m13 0h1m-167 1h1m32 0h1m8 0h1m48 0h1m2 0h1m3 0h1m5 0h2m24 0h1m13 0h1m4 0h1m9 0h1m-182 1h1m4 0h1m17 0h1m29 0h1m30 0h1m2 0h1m16 0h1m32 0h1m1 0h1m7 0h2m4 0h1m3 0h1m18 0h1m-175 1h1m19 0h1m5 0h1m1 0h1m28 0h1m3 0h1m2 0h1m39 0h1m8 0h1m4 0h1m25 0h1m45 0h1m-164 1h1m22 0h1m66 0h1m27 0h1m7 0h1m21 0h1m9 0h1m-176 1h1m18 0h1m27 0h1m1 0h1m32 0h1m8 0h1m3 0h1m9 0h1m2 0h1m16 0h1m36 0h1m13 0h1m-188 1h1m27 0h1m8 0h1m28 0h1m35 0h1m40 0h1m12 0h1m3 0h1m1 0h1m17 0h2m6 0h1m1 0h1m-126 1h1m11 0h1m12 0h1m1 0h1m12 0h1m13 0h1m43 0h1m12 0h1m-172 1h1m25 0h2m13 0h1m13 0h1m8 0h1m27 0h1m36 0h1m13 0h1m21 0h1m3 0h1m-169 1h1m5 0h1m35 0h1m12 0h1m35 0h1m2 0h1m1 0h1m21 0h1m13 0h1m21 0h1m20 0h1m9 0h1m-187 1h2m5 0h1m15 0h2m23 0h1m23 0h2m46 0h1m2 0h1m7 0h1m1 0h1m2 0h1m2 0h1m5 0h2m2 0h1m6 0h1m2 0h1m15 0h1m4 0h1m-183 1h1m15 0h1m11 0h1m9 0h1m5 0h1m4 0h1m10 0h1m8 0h1m15 0h2m4 0h1m9 0h1m16 0h1m4 0h2m9 0h1m10 0h1m8 0h2m-159 1h1m8 0h1m42 0h1m34 0h1m10 0h1m2 0h1m24 0h1m6 0h1m13 0h1m33 0h1m8 0h1m-183 1h1m2 0h1m8 0h1m1 0h1m40 0h1m40 0h1m17 0h1m9 0h1m55 0h1m-187 1h1m13 0h1m4 0h1m30 0h1m30 0h1m7 0h1m33 0h1m15 0h1m4 0h1m18 0h2m8 0h1m15 0h1m-185 1h1m20 0h1m6 0h1m71 0h1m37 0h1m-136 1h1m25 0h1m22 0h1m20 0h1m26 0h1m-105 1h1m15 0h1m16 0h1m6 0h1m31 0h1m28 0h1m3 0h1m2 0h1m9 0h1m6 0h2m15 0h1m18 0h1m25 0h1m-191 1h1m18 0h1m16 0h1m4 0h1m17 0h1m82 0h1m-124 1h1m12 0h1m51 0h1m25 0h2m75 0h1m-170 1h1m29 0h1m10 0h1m2 0h1m37 0h1m7 0h1m5 0h1m2 0h1m21 0h1m48 0h1m-158 1h1m21 0h1m38 0h1m42 0h1m32 0h1m-170 1h1m38 0h1m12 0h2m3 0h1m15 0h1m14 0h1m5 0h1m8 0h1m5 0h1m15 0h1m54 0h1m-174 1h1m2 0h1m61 0h1m2 0h1m20 0h1m28 0h1m21 0h1m29 0h1m-178 1h1m5 0h1m2 0h2m29 0h1m13 0h1m7 0h1m58 0h1m1 0h1m14 0h1m13 0h1m8 0h1m17 0h1m1 0h1m-181 1h1m3 0h1m22 0h1m10 0h1m20 0h1m20 0h2m12 0h1m6 0h1m33 0h1m1 0h1m12 0h1m12 0h1m-160 1h1m29 0h1m12 0h1m56 0h1m3 0h1m24 0h1m36 0h1m1 0h1m9 0h1m-183 1h1m24 0h1m18 0h1m12 0h1m5 0h1m10 0h1m28 0h1m7 0h1m31 0h1m-103 1h1m18 0h1m18 0h1m13 0h1m14 0h1m2 0h1m9 0h1m21 0h1m6 0h2m7 0h1m-136 1h1m4 0h1m9 0h1m73 0h1m3 0h1m21 0h1m3 0h2m20 0h1m5 0h1m-140 1h1m12 0h1m21 0h1m56 0h1m40 0h1m9 0h1m-167 1h1m13 0h1m36 0h1m1 0h1m7 0h1m1 0h1m45 0h1m40 0h1m10 0h1m12 0h1m-166 1h1m3 0h1m48 0h1m7 0h1m15 0h1m13 0h1m6 0h2m45 0h1m1 0h1m8 0h1m-175 1h2m12 0h1m21 0h1m9 0h1m22 0h1m58 0h1m3 0h1m7 0h2m10 0h1m1 0h1m5 0h1m17 0h2m-181 1h1m14 0h1m8 0h1m48 0h2m37 0h1m40 0h1m12 0h1m9 0h1m-152 1h1m5 0h1m33 0h1m7 0h1m6 0h1m4 0h1m10 0h1m35 0h1m4 0h1m1 0h1m-115 1h1m38 0h1m9 0h1m5 0h1m5 0h1m3 0h1m28 0h1m8 0h1m20 0h1m-148 1h1m16 0h1m2 0h1m5 0h1m9 0h2m11 0h1m16 0h1m15 0h1m2 0h1m35 0h1m30 0h1m6 0h1m14 0h1m7 0h1m4 0h1m-177 1h1m22 0h1m13 0h1m19 0h1m8 0h1m1 0h1m1 0h1m2 0h2m2 0h1m27 0h1m24 0h1m23 0h1m2 0h3m-100 1h1m4 0h1m36 0h1m20 0h1m17 0h1m10 0h2m2 0h1m13 0h1m-178 1h1m13 0h1m4 0h1m22 0h1m1 0h1m1 0h1m89 0h1m-120 1h1m14 0h1m3 0h1m32 0h1m75 0h1m7 0h1m6 0h2m7 0h1m4 0h1m6 0h1m-186 1h1m11 0h1m3 0h1m15 0h1m2 0h2m21 0h1m4 0h1m2 0h1m50 0h1m24 0h2m34 0h1m-170 1h2m11 0h1m13 0h1m5 0h1m1 0h1m12 0h1m13 0h1m35 0h1m1 0h1m16 0h1m15 0h1m5 0h1m2 0h1m3 0h1m3 0h1m13 0h1m7 0h1m-178 1h1m25 0h1m14 0h1m15 0h1m7 0h1m4 0h1m15 0h1m77 0h1m-160 1h1m20 0h1m1 0h1m4 0h1m59 0h1m1 0h1m3 0h1m2 0h1m12 0h1m2 0h1m38 0h1m18 0h1m-182 1h1m25 0h2m12 0h1m1 0h1m1 0h1m14 0h2m48 0h1m52 0h1m24 0h1m-182 1h2m5 0h1m7 0h1m20 0h1m12 0h1m1 0h1m4 0h2m89 0h1m22 0h1m5 0h1m2 0h1m-182 1h1m104 0h1m7 0h1m1 0h1m17 0h1m45 0h1m2 0h1m-182 1h1m4 0h1m12 0h2m5 0h1m13 0h1m15 0h1m24 0h1m42 0h1m17 0h1m30 0h1m-160 1h1m12 0h1m4 0h1m22 0h1m5 0h1m53 0h1m25 0h1m29 0h1m6 0h1m-177 1h1m15 0h1m3 0h1m21 0h1m12 0h1m17 0h1m32 0h1m8 0h1m13 0h1m14 0h1m-140 1h1m9 0h1m3 0h1m10 0h1m1 0h1m5 0h1m9 0h1m12 0h1m22 0h1m7 0h1m28 0h1m12 0h1m41 0h1m7 0h1m-180 1h1m8 0h1m1 0h1m1 0h1m3 0h1m15 0h1m25 0h1m15 0h1m30 0h1m7 0h1m9 0h1m3 0h1m13 0h1m2 0h1m9 0h1m21 0h1m-155 1h1m31 0h1m7 0h1m2 0h1m14 0h1m6 0h1m2 0h1m8 0h1m20 0h1m47 0h1m6 0h1m-185 1h1m10 0h1m11 0h1m7 0h1m21 0h1m13 0h2m31 0h1m1 0h1m44 0h1m5 0h1m14 0h1m-165 1h1m19 0h1m6 0h1m3 0h1m11 0h1m15 0h1m3 0h1m9 0h1m5 0h1m2 0h1m49 0h1m11 0h1m2 0h1m-106 1h1m35 0h1m2 0h1m46 0h1m11 0h1m9 0h1m5 0h1m27 0h1m-192 1h1m1 0h1m30 0h1m19 0h1m4 0h1m5 0h1m38 0h1m16 0h1m1 0h1m31 0h2m21 0h1m-163 1h1m29 0h1m7 0h1m4 0h1m4 0h1m27 0h1m13 0h1m1 0h1m47 0h1m16 0h1m14 0h1m-186 1h1m5 0h2m7 0h1m16 0h1m82 0h1m70 0h1m-178 1h1m21 0h1m1 0h1m29 0h1m6 0h1m5 0h1m6 0h1m42 0h1m6 0h1m14 0h1m7 0h2m5 0h1m4 0h1m-172 1h1m6 0h1m4 0h1m9 0h1m2 0h1m15 0h1m17 0h1m3 0h1m10 0h1m6 0h1m11 0h1m17 0h1m16 0h1m60 0h2m-187 1h1m83 0h1m14 0h1m28 0h1m27 0h1m12 0h1m-105 1h2m22 0h1m41 0h1m12 0h1m10 0h1m19 0h1m-167 1h1m14 0h1m1 0h1m18 0h1m1 0h1m53 0h1m3 0h1m9 0h1m17 0h1m10 0h1m-145 1h1m60 0h1m1 0h1m4 0h1m14 0h1m32 0h1m11 0h1m21 0h1m19 0h1m-173 1h1m4 0h1m5 0h1m24 0h1m3 0h1m13 0h1m2 0h1m9 0h1m17 0h1m6 0h2m1 0h2m9 0h1m23 0h1m54 0h2m-178 1h1m10 0h1m27 0h1m24 0h1m77 0h1m2 0h1m12 0h1m-138 1h2m29 0h1m40 0h1m9 0h1m26 0h1m14 0h1m8 0h1m3 0h1m9 0h1m-154 1h1m49 0h1m23 0h1m7 0h1m14 0h1m1 0h1m57 0h1m-180 1h1m4 0h1m43 0h1m62 0h1m31 0h1m-148 1h2m2 0h1m48 0h1m29 0h1m29 0h1m46 0h1m7 0h1m1 0h1m11 0h1m-177 1h1m48 0h1m28 0h1m28 0h1m41 0h1m3 0h1m22 0h1m-180 1h1m11 0h1m30 0h1m22 0h1m29 0h2m1 0h1m62 0h1m2 0h2m15 0h1m1 0h1m-162 1h1m13 0h1m5 0h1m15 0h1m22 0h1m17 0h1m30 0h1m26 0h1m11 0h1m-168 1h1m3 0h1m1 0h1m83 0h1m15 0h1m34 0h1m11 0h1m-87 1h2m10 0h1m37 0h1m17 0h1m41 0h1m-138 1h1m4 0h1m2 0h1m63 0h2m25 0h1m-70 1h1m15 0h1m7 0h1m10 0h1m33 0h1m23 0h1m-152 1h1m23 0h1m10 0h1m5 0h2m7 0h1m2 0h2m8 0h1m17 0h1m7 0h1m39 0h1m17 0h1m7 0h1m-122 1h1m14 0h1m18 0h1m30 0h1m8 0h1m11 0h1m-98 1h1m13 0h1m4 0h1m37 0h1m23 0h1m22 0h1m10 0h1m9 0h1m-166 1h1m60 0h1m21 0h1m22 0h1m3 0h1m10 0h1m4 0h2m-90 1h1m15 0h1m10 0h1m24 0h1m13 0h1m39 0h2m2 0h1m37 0h1m-147 1h1m54 0h1m6 0h1m50 0h1m2 0h1m4 0h1m2 0h1m-116 1h1m2 0h1m8 0h1m4 0h1m1 0h2m8 0h1m41 0h1m24 0h2m26 0h1m5 0h1m-173 1h1m67 0h1m62 0h1m2 0h1m-81 1h1m18 0h2m27 0h1m16 0h1m12 0h1m15 0h1m8 0h1m-164 1h1m12 0h1m49 0h1m41 0h1m7 0h1m4 0h1m30 0h1m-149 1h1m38 0h1m18 0h1m2 0h1m3 0h1m9 0h1m19 0h1m16 0h1m1 0h2m16 0h1m-104 1h1m17 0h1m43 0h1m21 0h1m37 0h1m22 0h2m-156 1h1m3 0h1m15 0h1m34 0h1m23 0h1m11 0h1m61 0h1m10 0h1m-151 1h1m3 0h1m2 0h1m11 0h1m10 0h1m23 0h1m5 0h1m4 0h1m20 0h1m4 0h1m-101 1h1m2 0h1m16 0h1m9 0h1m45 0h1m1 0h1m12 0h1m23 0h1m-117 1h1m30 0h1m13 0h1m4 0h1m25 0h1m22 0h1m15 0h1m-126 1h1m22 0h1m19 0h1m36 0h1m11 0h1m4 0h1m1 0h1m38 0h1m14 0h1m-149 1h1m7 0h1m9 0h1m13 0h1m18 0h1m94 0h1m12 0h1m-101 1h1m34 0h1m48 0h1m10 0h1m4 0h1m-166 1h1m13 0h1m8 0h1m22 0h1m27 0h1m43 0h1m4 0h1m34 0h1m-176 1h1m42 0h1m4 0h1m31 0h1m29 0h1m3 0h1m30 0h1m25 0h1m5 0h1m8 0h1m5 0h1m-163 1h1m1 0h1m14 0h1m14 0h1m18 0h1m13 0h1m3 0h1m1 0h1m16 0h1m56 0h1m9 0h1m-155 1h1m11 0h1m6 0h1m32 0h1m14 0h1m34 0h1m5 0h1m26 0h1m-138 1h1m1 0h1m13 0h1m12 0h1m42 0h1m6 0h1m13 0h1m24 0h1m12 0h1m5 0h1m20 0h1m-147 1h1m36 0h1m90 0h1m-146 1h1m31 0h1m2 0h1m1 0h1m23 0h1m4 0h1m9 0h1m7 0h1m13 0h1m37 0h1m2 0h1m4 0h1m19 0h1m-134 1h1m7 0h1m21 0h1m13 0h1m7 0h1m8 0h1m8 0h1m30 0h1m2 0h1m1 0h1m17 0h1m2 0h1m2 0h1m-151 1h1m1 0h1m3 0h1m21 0h1m5 0h1m4 0h1m17 0h1m38 0h1m57 0h1m-136 1h1m12 0h1m32 0h1m16 0h1m3 0h1m2 0h2m6 0h1m44 0h1m-138 1h1m2 0h1m42 0h1m6 0h1m1 0h1m3 0h2m50 0h1m1 0h1m7 0h1m30 0h1m-130 1h1m13 0h1m51 0h1m26 0h1m11 0h1m7 0h1m5 0h1m2 0h1m-117 1h1m14 0h1m22 0h1m5 0h1m43 0h1m9 0h1m-151 1h1m3 0h1m7 0h1m46 0h1m16 0h1m34 0h1m6 0h1m3 0h1m10 0h1m1 0h1m15 0h1m12 0h1m-91 1h1m8 0h1m5 0h1m1 0h1m8 0h1m31 0h2m18 0h1m10 0h1m-167 1h1m5 0h1m6 0h1m1 0h1m45 0h1m22 0h1m2 0h1m43 0h2m36 0h1m-176 1h1m13 0h1m7 0h1m31 0h1m1 0h1m36 0h1m14 0h1m1 0h1m22 0h1m23 0h1m8 0h1m-136 1h1m22 0h1m31 0h1m10 0h1m20 0h1m13 0h1m8 0h1m10 0h1m-154 1h1m30 0h1m3 0h1m44 0h1m48 0h1m7 0h1m-142 1h1m38 0h1m5 0h1m11 0h1m27 0h1m14 0h1m57 0h1m11 0h1m-174 1h1m15 0h1m31 0h1m20 0h1m55 0h2m54 0h2m2 0h1"/>
<path stroke="#262626" d="M13 0.5h1m48 0h2m4 0h1m20 0h1m20 0h1m42 0h1m28 0h1m-182 1h1m13 0h1m7 0h1m55 0h1m16 0h1m5 0h1m9 0h1m33 0h1m-147 1h1m50 0h1m14 0h2m59 0h1m15 0h1m-133 1h1m12 0h1m65 0h1m4 0h1m44 0h1m-139 1h1m92 0h2m33 0h1m5 0h1m8 0h2m24 0h1m-124 1h1m8 0h1m5 0h2m34 0h1m7 0h1m26 0h1m16 0h1m7 0h1m16 0h1m-165 1h1m2 0h1m15 0h1m15 0h1m15 0h1m60 0h1m10 0h1m-134 1h1m1 0h1m50 0h1m34 0h1m-45 1h1m24 0h1m16 0h1m7 0h1m19 0h1m-117 1h1m2 0h1m7 0h2m16 0h1m20 0h1m20 0h1m1 0h1m16 0h1m10 0h1m18 0h1m55 0h1m-170 1h1m4 0h1m8 0h1m15 0h1m6 0h2m2 0h1m68 0h1m21 0h1m1 0h1m39 0h1m-178 1h1m1 0h1m7 0h1m10 0h1m18 0h1m20 0h1m4 0h1m18 0h1m-40 1h1m17 0h1m26 0h1m-81 1h1m7 0h1m38 0h1m80 0h1m6 0h1m-127 1h1m4 0h1m18 0h1m18 0h2m10 0h1m3 0h1m1 0h1m46 0h1m39 0h1m-158 1h1m47 0h2m4 0h1m-67 1h1m7 0h1m13 0h1m5 0h1m22 0h1m12 0h1m2 0h1m10 0h1m63 0h1m34 0h1m9 0h1m-100 1h2m3 0h1m2 0h1m47 0h1m2 0h1m14 0h1m11 0h1m7 0h1m-138 1h1m25 0h1m7 0h1m2 0h1m25 0h1m17 0h1m-107 1h1m27 0h1m58 0h1m19 0h1m23 0h1m-87 1h1m3 0h1m108 0h1m-174 1h1m2 0h1m48 0h1m29 0h1m2 0h1m36 0h1m24 0h1m11 0h1m-166 1h1m36 0h1m4 0h1m19 0h1m48 0h1m33 0h1m4 0h1m3 0h1m2 0h1m31 0h1m-183 1h1m1 0h1m15 0h1m6 0h1m37 0h1m-42 1h1m54 0h1m12 0h1m63 0h1m-164 1h1m93 0h1m16 0h1m11 0h1m33 0h1m4 0h1m8 0h1m16 0h1m-181 1h1m4 0h1m25 0h1m4 0h1m19 0h1m6 0h1m5 0h1m29 0h1m42 0h2m32 0h1m-179 1h1m16 0h1m25 0h1m22 0h1m8 0h1m17 0h1m41 0h1m48 0h1m-183 1h1m2 0h1m24 0h1m36 0h1m10 0h1m17 0h1m29 0h1m4 0h1m-100 1h1m4 0h1m4 0h1m84 0h1m49 0h1m-160 1h1m41 0h1m28 0h1m28 0h1m23 0h1m31 0h1m-145 1h1m94 0h1m-122 1h1m16 0h1m51 0h2m71 0h1m35 0h1m-178 1h1m172 0h1m-150 1h1m28 0h1m5 0h1m18 0h1m58 0h1m6 0h1m-131 1h1m39 0h1m36 0h1m39 0h1m41 0h1m-138 1h1m93 0h1m-138 1h1m23 0h1m27 0h1m41 0h1m1 0h1m37 0h1m35 0h1m-165 1h1m3 0h1m90 0h1m8 0h1m19 0h1m27 0h1m-133 1h1m15 0h1m85 0h1m8 0h1m15 0h1m20 0h1m-177 1h1m61 0h1m97 0h1m-155 1h1m22 0h1m41 0h1m17 0h1m1 0h1m73 0h1m21 0h1m1 0h1m-187 1h1m23 0h1m35 0h1m40 0h1m2 0h2m-65 1h1m63 0h1m29 0h1m30 0h1m-172 1h1m19 0h1m2 0h2m12 0h1m1 0h1m36 0h1m9 0h1m31 0h1m15 0h1m40 0h1m-159 1h1m3 0h1m6 0h1m45 0h1m28 0h1m2 0h1m29 0h1m10 0h1m30 0h1m-162 1h1m3 0h1m10 0h1m130 0h1m6 0h1m5 0h1m11 0h1m-172 1h1m4 0h1m31 0h1m52 0h1m6 0h1m41 0h1m15 0h1m-170 1h1m49 0h1m10 0h1m25 0h1m7 0h1m36 0h1m56 0h1m-190 1h2m9 0h1m2 0h1m5 0h1m9 0h1m4 0h1m10 0h1m20 0h1m85 0h1m-78 1h1m1 0h2m21 0h1m27 0h1m17 0h1m10 0h1m7 0h1m19 0h1m-186 1h1m31 0h2m11 0h1m2 0h1m1 0h1m42 0h1m8 0h1m39 0h1m16 0h1m-154 1h1m4 0h1m50 0h1m105 0h1m18 0h1m-133 1h1m2 0h1m62 0h1m-101 1h1m48 0h1m73 0h1m26 0h1m1 0h1m-170 1h1m55 0h1m34 0h1m16 0h1m44 0h1m-158 1h1m15 0h1m12 0h1m14 0h1m8 0h1m56 0h1m60 0h1m3 0h1m-143 1h1m30 0h1m13 0h1m23 0h1m8 0h1m46 0h1m-163 1h1m22 0h1m18 0h1m36 0h1m14 0h1m26 0h1m-120 1h1m73 0h1m42 0h1m-16 1h1m-71 1h1m58 0h1m43 0h1m-128 1h1m78 0h1m41 0h1m3 0h1m8 0h1m22 0h1m22 0h1m-162 1h1m77 0h1m2 0h1m56 0h2m-164 1h1m22 0h1m20 0h1m46 0h1m65 0h1m-147 1h1m16 0h2m13 0h1m16 0h2m12 0h1m46 0h1m1 0h1m20 0h2m-132 1h1m14 0h1m48 0h1m24 0h1m25 0h1m19 0h1m34 0h1m-113 1h2m29 0h1m34 0h1m22 0h1m5 0h1m-155 1h1m157 0h1m-148 1h2m57 0h1m5 0h1m3 0h1m5 0h1m15 0h1m25 0h1m-140 1h1m9 0h1m30 0h1m4 0h1m69 0h1m37 0h1m-161 1h1m135 0h1m5 0h1m27 0h1m-162 1h2m99 0h1m2 0h1m16 0h1m7 0h1m14 0h1m37 0h1m-176 1h1m21 0h2m50 0h1m57 0h1m21 0h1m-170 1h1m38 0h1m42 0h1m-2 1h1m72 0h1m20 0h1m8 0h1m-127 1h1m49 0h1m32 0h1m15 0h1m3 0h1m21 0h1m-183 1h1m19 0h2m6 0h1m15 0h1m41 0h1m1 0h1m37 0h1m22 0h1m31 0h1m-182 1h1m31 0h1m32 0h1m15 0h1m54 0h1m5 0h1m9 0h1m3 0h1m-160 1h1m39 0h1m10 0h1m48 0h1m52 0h1m15 0h1m-107 1h1m94 0h1m8 0h1m8 0h1m2 0h1m4 0h1m-167 1h1m5 0h1m3 0h1m95 0h1m9 0h1m21 0h1m23 0h1m11 0h1m-189 1h1m4 0h1m16 0h1m13 0h1m103 0h1m33 0h1m-169 1h1m11 0h1m98 0h1m22 0h1m-144 1h1m6 0h1m26 0h1m22 0h2m27 0h1m24 0h2m57 0h1m-67 1h1m32 0h1m5 0h1m12 0h1m1 0h1m-149 1h1m31 0h1m139 0h1m-166 1h1m4 0h1m78 0h1m28 0h1m55 0h1m-174 1h1m3 0h1m123 0h1m23 0h1m20 0h1m-180 1h1m10 0h1m10 0h1m7 0h1m43 0h1m4 0h1m7 0h1m9 0h1m-106 1h1m24 0h1m7 0h1m89 0h1m1 0h1m11 0h1m40 0h1m-176 1h1m30 0h2m41 0h1m4 0h1m21 0h1m49 0h1m28 0h1m-180 1h1m87 0h1m2 0h1m5 0h1m7 0h1m25 0h1m-89 1h1m72 0h1m11 0h1m59 0h1m-186 1h1m25 0h1m10 0h1m5 0h1m6 0h1m12 0h1m26 0h1m7 0h1m8 0h1m50 0h1m-153 1h1m2 0h1m27 0h1m91 0h1m40 0h1m12 0h1m-159 1h1m74 0h1m12 0h1m45 0h1m3 0h1m-168 1h1m25 0h1m2 0h1m13 0h1m22 0h1m32 0h1m7 0h1m-98 1h1m10 0h1m19 0h1m46 0h1m2 0h1m11 0h1m-84 1h1m99 0h1m18 0h1m20 0h2m13 0h1m13 0h1m-164 1h1m59 0h1m41 0h1m39 0h1m-104 1h1m6 0h1m13 0h1m13 0h1m37 0h2m-140 1h1m38 0h2m29 0h1m11 0h1m23 0h1m68 0h1m-168 1h1m22 0h1m16 0h1m5 0h1m28 0h1m13 0h1m53 0h1m26 0h1m-142 1h1m5 0h1m82 0h1m21 0h1m-143 1h1m87 0h1m5 0h1m50 0h1m30 0h1m6 0h1m-145 1h1m11 0h1m14 0h1m11 0h1m30 0h1m12 0h1m50 0h1m-102 1h1m1 0h1m55 0h1m9 0h1m-129 1h1m13 0h1m42 0h1m22 0h1m7 0h1m45 0h1m7 0h1m-151 1h1m25 0h2m4 0h1m1 0h1m36 0h1m9 0h1m22 0h1m21 0h1m14 0h1m10 0h1m-156 1h1m98 0h1m11 0h1m52 0h1m-167 1h1m2 0h1m10 0h1m15 0h1m43 0h1m22 0h1m26 0h1m6 0h1m-135 1h1m4 0h1m46 0h1m28 0h1m14 0h1m14 0h1m31 0h1m36 0h1m3 0h1m-172 1h1m39 0h1m90 0h1m-147 1h1m26 0h1m4 0h1m28 0h1m26 0h1m2 0h1m33 0h1m6 0h1m5 0h1m4 0h2m30 0h1m2 0h1m1 0h1m-184 1h1m139 0h1m17 0h1m-137 1h1m7 0h1m61 0h1m4 0h1m9 0h1m19 0h1m19 0h1m11 0h1m17 0h1m-176 1h1m15 0h1m6 0h1m40 0h1m5 0h1m48 0h1m5 0h1m30 0h1m20 0h1m9 0h1m-155 1h1m8 0h1m66 0h1m57 0h1m-167 1h1m3 0h1m6 0h1m21 0h1m1 0h1m33 0h1m89 0h1m20 0h1m3 0h1m-173 1h1m85 0h1m6 0h1m22 0h1m46 0h1m5 0h1m-160 1h1m44 0h1m21 0h1m1 0h1m1 0h1m-68 1h1m5 0h1m13 0h1m16 0h1m14 0h1m6 0h1m22 0h1m14 0h2m56 0h1m-126 1h1m16 0h1m5 0h1m24 0h1m49 0h1m22 0h1m-179 1h1m19 0h1m9 0h1m7 0h1m24 0h1m117 0h1m-178 1h1m86 0h1m14 0h1m43 0h1m1 0h2m13 0h1m-133 1h1m29 0h1m69 0h1m31 0h2m6 0h1m1 0h1m-152 1h1m12 0h1m84 0h1m19 0h1m21 0h1m-96 1h1m53 0h1m37 0h1m-165 1h1m2 0h1m18 0h1m29 0h1m25 0h1m110 0h1m-110 1h1m13 0h1m29 0h1m21 0h1m11 0h1m28 0h1m-167 1h1m160 0h1m-181 1h1m14 0h1m33 0h1m5 0h1m14 0h1m1 0h1m62 0h1m11 0h1m35 0h1m-145 1h1m1 0h1m49 0h1m58 0h1m11 0h1m19 0h1m-108 1h1m28 0h2m34 0h1m45 0h1m-100 1h2m26 0h1m53 0h1m4 0h1m-163 1h1m48 0h1m40 0h1m38 0h1m37 0h1m-168 1h1m23 0h1m40 0h1m38 0h1m16 0h1m50 0h1m-184 1h1m27 0h1m17 0h1m46 0h1m20 0h1m10 0h1m10 0h1m12 0h1m8 0h1m14 0h1m13 0h1m-124 1h1m4 0h1m95 0h1m11 0h1m-153 1h1m-23 1h1m7 0h1m17 0h1m2 0h1m15 0h1m87 0h1m21 0h1m-90 1h1m1 0h1m70 0h1m-51 1h1m15 0h1m75 0h2m-140 1h1m68 0h1m4 0h2m-116 1h1m62 0h1m27 0h1m25 0h1m21 0h1m29 0h1m-52 1h1m-108 1h1m22 0h1m62 0h1m27 0h1m-125 1h1m26 0h1m45 0h1m14 0h1m12 0h1m21 0h1m9 0h1m43 0h1m-185 1h1m15 0h1m49 0h1m17 0h1m26 0h1m28 0h1m40 0h1m-165 1h1m30 0h1m82 0h1m42 0h1m-105 1h1m13 0h1m15 0h2m25 0h1m8 0h1m46 0h1m-157 1h1m67 0h1m41 0h1m-85 1h1m1 0h1m55 0h1m14 0h1m-82 1h1m2 0h1m31 0h1m24 0h1m11 0h1m8 0h1m18 0h1m13 0h1m-158 1h1m117 0h1m16 0h1m6 0h1m-88 1h1m85 0h1m12 0h1m13 0h1m-169 1h1m19 0h1m50 0h1m49 0h1m23 0h1m29 0h1m-91 1h1m38 0h1m6 0h1m11 0h1m5 1h1m-126 1h1m22 0h1m19 0h1m64 0h2m27 0h1m5 0h1m6 0h1m-137 1h1m20 0h1m59 0h1m29 0h2m14 0h1m3 0h1m-154 1h1m10 0h1m11 0h1m12 0h1m50 0h1m10 0h1m13 0h1m13 0h1m40 0h1m-188 1h1m36 0h1m46 0h1m22 0h1m-20 1h2m31 0h1m14 0h1m1 0h1m50 0h1m-130 1h1m31 0h1m19 0h1m45 0h1m-152 1h1m44 0h1m23 0h1m5 0h1m2 0h1m17 0h1m65 0h1m-164 1h1m3 0h1m10 0h1m13 0h1m20 0h1m27 0h1m19 0h1m17 0h1m1 0h1m2 0h1m-92 1h1m4 0h1m30 0h1m11 0h1m5 0h1m1 0h1m86 0h1m8 0h1m-177 1h1m35 0h2m40 0h1m30 0h1m3 0h1m9 0h1m50 0h1m-99 1h1m13 0h1m-101 1h1m34 0h1m29 0h1m6 0h1m17 0h1m31 0h1m5 0h1m9 0h1m-48 1h1m46 0h1m4 0h1m20 0h1m10 0h1m-131 1h1m33 0h1m41 0h1m28 0h1m17 0h1m-87 1h1m18 0h1m4 0h1m-79 1h1m40 0h1m3 0h1m3 0h1m8 0h1m28 0h1m67 0h1m-156 1h1m38 0h1m15 0h1m33 0h1m18 0h2m6 0h2m35 0h1m3 0h1m-93 1h1m11 0h1m33 0h1m18 0h1m7 0h1m13 0h1m-166 1h1m30 0h1m88 0h1m38 0h1m10 0h1m-107 1h1m62 0h1m-130 1h1m33 0h1m9 0h1m14 0h1m3 0h1m4 0h1m63 0h1m-135 1h1m33 0h1m37 0h1m24 0h1m65 0h1m5 0h1m1 0h1m-177 1h1m5 0h1m37 0h2m73 0h1m57 0h1m-137 1h1m33 0h1m50 0h2m13 0h1m-107 1h1m54 0h1m43 0h1m11 0h1m-101 1h1m16 0h1m69 0h1m38 0h1m-76 1h1m12 0h1m-119 1h1m57 0h1m16 0h1m24 0h1m18 0h1m3 0h1m16 0h1m8 0h1m1 0h1m2 0h1m18 0h1m3 0h1m7 0h1m-116 1h1m52 0h1m55 0h1m7 0h1m-104 1h1m20 0h1m6 0h2m11 0h1m-83 1h1m22 0h1m33 0h1m28 0h1m-113 1h1m16 0h1m26 0h1m71 0h1m4 0h1m5 0h2m31 0h1m-148 1h1m34 0h1m30 0h1m3 0h1m7 0h1m10 0h1"/>
<path stroke="#3a3a3a" d="M20 0.5h1m102 0h1m25 0h1m-23 1h1m-71 1h1m84 0h1m-139 1h1m7 0h1m10 0h1m61 0h1m15 0h1m24 0h1m17 0h1m-103 1h1m105 0h1m-31 1h1m-78 2h1m30 0h1m27 0h1m76 0h1m2 0h1m-174 1h1m55 0h1m10 0h1m93 1h1m19 0h1m-138 1h1m90 0h1m-126 1h1m42 0h1m35 0h1m43 0h1m-77 1h1m4 0h1m1 0h1m19 0h1m50 0h1m-72 1h1m95 0h1m-99 1h1m1 0h1m12 0h1m-14 1h1m-62 1h1m81 0h1m10 0h1m3 0h1m51 0h1m-133 1h1m155 0h1m-133 1h1m5 1h1m82 0h1m-82 1h1m10 0h1m-56 1h1m22 0h1m16 0h1m-9 1h1m4 0h1m42 0h1m33 0h1m32 0h1m21 0h1m5 0h1m-186 1h1m100 0h1m46 0h1m10 0h1m-138 1h1m130 1h1m-156 1h1m21 1h1m119 0h1m-117 1h1m84 0h1m38 0h1m-151 2h1m73 0h1m-7 1h1m45 0h1m-62 1h1m127 0h1m-160 1h1m5 0h1m58 0h1m23 0h1m61 0h1m-33 1h1m-99 1h1m28 0h1m39 0h1m-73 1h1m32 0h1m5 0h1m88 0h1m-121 1h1m37 0h1m24 0h1m69 0h1m-148 1h1m18 0h1m104 0h1m-122 1h1m28 0h1m-66 2h1m21 0h1m-4 1h1m42 0h1m4 0h1m20 0h1m25 0h1m7 0h1m53 1h1m-79 1h1m-69 1h1m80 0h1m18 0h1m15 0h2m27 0h1m-144 1h1m29 0h1m25 0h1m15 0h1m72 1h1m-51 1h1m10 0h1m47 0h1m-183 1h1m84 0h1m49 0h1m31 0h1m-24 1h1m-119 1h1m8 0h1m39 0h1m67 0h1m-95 1h1m9 0h1m-61 1h1m153 0h1m-34 1h1m-43 1h1m40 0h1m6 0h1m19 0h1m-149 1h1m10 0h1m155 0h1m-111 1h1m31 0h1m-85 1h1m37 0h1m52 0h1m65 0h1m-137 1h1m33 0h1m-50 1h1m15 0h1m109 0h1m-68 1h1m9 0h1m-74 3h1m93 0h1m67 0h1m15 0h1m-171 1h1m126 0h1m25 0h1m-171 1h1m108 0h1m19 0h1m-16 2h1m20 0h1m32 0h1m-71 1h1m-93 1h1m83 0h1m54 0h1m12 0h1m-161 1h1m105 0h1m54 0h1m1 0h1m-161 1h1m2 0h1m117 0h1m-19 1h1m52 0h2m-53 1h1m65 0h1m-153 1h2m-1 1h1m28 0h1m61 0h1m43 0h1m-47 1h1m73 0h1m-159 1h1m129 0h1m-89 1h1m6 0h1m98 0h1m-137 2h1m54 0h1m81 0h1m-174 1h1m142 0h1m22 0h1m-114 1h1m-44 1h1m85 0h1m-100 1h1m28 1h1m141 0h1m-167 1h1m27 0h1m144 1h1m-134 1h1m58 1h1m-28 1h1m35 0h1m-110 1h1m118 0h1m28 0h1m-80 1h1m106 0h1m-175 1h1m86 0h1m29 0h1m50 0h1m-36 1h1m35 0h1m-75 1h1m19 0h1m-37 1h1m85 0h1m-50 1h1m5 0h1m-99 1h1m19 0h1m137 0h1m-189 1h1m149 0h1m32 0h1m-185 1h1m87 0h2m44 0h1m-71 1h1m67 0h1m49 0h1m-23 1h1m4 0h1m-156 1h1m30 0h1m49 0h1m50 0h1m-13 1h1m-23 2h1m-49 1h1m1 0h1m11 0h1m7 0h1m83 0h1m4 0h1m-112 1h1m57 0h1m6 0h1m5 0h1m-122 1h1m3 0h1m85 0h1m-103 1h1m8 0h1m75 0h1m28 0h1m-99 1h1m-10 1h1m2 0h1m8 0h1m8 0h1m1 0h1m12 0h1m-37 1h1m5 0h1m46 0h1m11 0h1m96 0h1m-160 1h1m62 0h1m34 0h1m55 0h1m-105 1h1m7 0h1m3 0h1m45 0h1m41 0h1m19 0h1m-146 1h1m10 0h1m-30 1h1m6 0h1m26 0h1m-31 1h1m1 0h1m35 1h1m110 0h1m-134 1h1m24 0h1m2 0h1m12 1h1m54 0h1m47 0h1m-117 1h1m-30 1h1m6 1h1m-4 1h1m112 0h1m-93 1h1m53 0h1m1 0h1m-71 1h1m75 0h1m-114 1h1m159 0h1m-128 2h1m57 1h1m10 0h1m17 0h1m2 0h1m46 0h1m-151 1h1m8 1h1m5 0h1m110 0h1m12 0h1m21 0h1m-128 1h1m111 0h1m-127 1h1m29 0h1m105 1h1m-184 1h1m-1 1h1m154 0h1m21 0h1m-175 1h1m68 0h1m81 0h1m-124 1h1m78 0h1m38 0h1m-144 1h1m140 0h1m-70 1h1m1 0h1m15 0h1m7 0h1m60 0h1m-47 1h1m-25 1h1m36 0h1m56 0h1m-188 1h1m42 0h2m68 0h1m-7 1h1m-15 1h1m17 0h1m1 0h1m-71 2h1m-14 2h1m135 0h1m-126 1h1m-1 1h2m39 1h1m32 1h1m25 0h1m29 0h1m-138 1h1m21 0h1m67 0h1m55 0h1m-122 1h1m19 0h1m-55 1h1m33 0h1m68 0h1m-54 1h1m5 0h1m20 1h1m29 0h1m41 0h1m-142 1h1m2 0h1m69 0h1m29 0h1m40 0h1m-106 1h1m63 0h1m-78 1h1m10 0h1m38 0h1m29 1h1m-106 1h1m3 0h1m64 0h1m4 0h1m23 0h1m5 0h1m30 0h1m-139 2h1m88 0h1m66 0h1m-72 1h1m10 0h1m-39 1h1m57 0h1m20 0h1m16 1h1m-159 1h1m23 0h1m18 0h1m25 0h1m58 1h1m-33 1h1m9 0h1m6 0h1m-6 1h1m8 0h1m38 0h1m-152 2h1m6 0h1m10 0h1m118 0h1m-144 1h1m93 0h1m-21 2h1m45 0h1m31 0h1m-91 1h1m72 0h1m-162 1h1m35 0h1m135 0h1m-148 1h1m104 0h1m-89 1h1m24 0h1m-50 1h1m14 0h1m59 0h1m-71 1h1m27 0h1m48 1h1m45 1h1m17 0h1m-107 1h1m26 0h1m6 0h1m24 0h1m-74 1h1m17 0h1m109 0h1m-121 1h1m40 0h1m22 0h1m42 0h1"/>
<path stroke="#585858" d="M77 2.5h1m34 0h1m72 2h1m-111 1h1m29 0h1m-100 1h1m119 0h1m-57 3h1m6 1h1m43 0h1m-41 1h1m12 0h1m-26 2h1m75 0h2m25 0h1m-103 1h1m111 3h1m-36 1h1m-121 1h1m108 2h1m40 0h1m-126 2h1m1 1h1m-55 3h1m43 0h1m49 0h1m-46 3h1m132 0h1m-161 2h1m166 0h1m-90 1h1m-59 4h1m63 0h1m-40 1h1m65 0h1m37 0h1m-67 7h1m73 2h1m-11 2h1m-138 1h1m59 0h1m-92 3h1m73 0h1m-72 1h1m-1 1h1m136 1h1m-90 1h1m-18 2h1m80 2h1m31 0h1m37 0h1m-38 1h1m-136 1h1m177 2h1m-78 1h1m30 0h1m12 0h1m-152 2h1m-1 2h1m152 1h1m1 1h1m-1 1h1m-157 1h1m53 0h1m88 0h1m-61 1h1m70 1h1m-68 1h1m66 0h1m-22 1h1m20 0h1m-93 2h1m42 1h1m-25 1h1m32 3h1m29 4h1m-143 1h1m46 3h1m93 2h1m-40 2h1m-8 2h1m19 3h1m40 0h1m-66 3h1m25 0h1m-45 2h1m50 0h1m-90 3h1m36 0h1m67 0h1m-149 1h1m179 0h1m-68 1h1m-105 2h1m-8 1h1m8 0h2m14 0h1m156 0h1m-81 1h1m-66 2h1m0 2h1m21 1h1m-61 1h1m29 0h1m31 0h1m-4 1h1m-40 2h1m22 4h1m-23 2h1m51 0h1m36 1h1m-99 2h1m106 0h1m-69 1h1m97 1h1m-89 3h1m4 0h1m74 2h1m37 2h1m-103 1h1m-38 2h1m37 1h1m86 0h1m-126 1h1m99 3h1m30 0h2m-171 3h1m96 2h1m45 0h1m-12 6h1m-18 1h1m19 0h1m-88 1h1m8 0h1m76 0h1m47 0h1m-136 1h1m32 2h1m81 0h1m-62 1h1m54 0h1m-160 1h1m1 0h1m120 0h1m22 1h1m-10 1h1m-102 4h1m112 3h1m-64 1h1m86 0h1m-39 2h1m-24 4h1m40 2h1m11 0h1m-142 2h1"/>
<path stroke="#888" d="M70 12.5h1m72 10h1m-127 15h1m105 9h1m-120 7h1m1 0h1m35 1h1m-36 1h1m-5 1h1m1 0h1m133 1h1m-130 14h1m3 0h1m10 6h1m134 0h1m-118 3h1m75 4h1m-66 1h1m65 1h1m-58 2h1m-19 1h1m37 21h1m13 1h1m-87 2h2m51 8h1m-2 3h1m116 7h1m-176 4h1m37 9h1m26 9h1m66 10h1m-43 15h1"/>
<path stroke="#c8c8c8" d="M70 13.5h1m-66 40h1m0 1h2m154 17h1m-154 1h1m151 0h1m-139 4h2m134 1h1m-157 4h1m186 9h1m-110 18h1m1 0h1m-2 1h1m-1 1h1m-72 5h1m50 7h1m1 1h1m-1 1h1m39 12h1m-3 10h1m4 0h1m31 15h2m-1 1h1m-3 1h1m-57 12h1"/>
<path stroke="#fff" d="M5 54.5h1m-1 1h2m2 15h1m-2 1h2m152 1h1m-81 36h1m-2 1h1m1 0h1m-73 5h2m50 8h2m-2 1h1m74 38h1m-1 1h2m-1 1h1"/>
</g>
<g id="m3" shape-rendering="crispEdges" fill="none" stroke-width="1.02">
<path stroke="#161616" d="M5 0.5h1m38 0h1m24 0h1m42 0h1m4 0h1m5 0h1m17 0h1m22 0h1m9 0h1m12 0h2m-100 1h1m19 0h1m12 0h1m5 0h1m4 0h1m52 0h1m-183 1h1m9 0h1m6 0h1m18 0h1m3 0h2m19 0h1m6 0h1m31 0h1m13 0h1m24 0h1m2 0h1m38 0h1m-177 1h1m34 0h1m20 0h1m15 0h1m17 0h1m61 0h1m-147 1h1m32 0h1m11 0h1m60 0h1m26 0h1m1 0h1m4 0h1m31 0h1m4 0h1m-131 1h1m33 0h1m11 0h1m7 0h1m4 0h1m68 0h1m-135 1h1m20 0h1m10 0h1m30 0h1m8 0h1m12 0h1m3 0h1m22 0h1m21 0h1m1 0h1m-193 1h1m2 0h1m2 0h1m8 0h1m10 0h1m1 0h1m23 0h1m9 0h1m43 0h1m61 0h1m-169 1h1m43 0h1m20 0h3m3 0h1m10 0h1m8 0h1m26 0h1m5 0h1m37 0h1m8 0h1m-149 1h1m8 0h1m6 0h1m22 0h1m13 0h1m2 0h2m15 0h1m1 0h1m8 0h1m2 0h1m28 0h1m34 0h1m2 0h1m-178 1h1m2 0h1m16 0h1m5 0h1m1 0h2m33 0h1m16 0h1m22 0h1m26 0h1m20 0h1m18 0h1m-161 1h1m78 0h1m15 0h1m11 0h1m23 0h1m35 0h1m2 0h1m10 0h1m-180 1h1m2 0h1m5 0h1m4 0h1m7 0h1m22 0h1m18 0h1m4 0h1m11 0h1m34 0h1m6 0h1m5 0h1m14 0h1m5 0h1m9 0h1m3 0h1m8 0h1m5 0h1m-180 1h1m11 0h1m1 0h1m16 0h1m13 0h1m28 0h1m5 0h1m21 0h1m66 0h1m-172 1h1m11 0h1m45 0h1m44 0h1m19 0h1m1 0h1m22 0h1m-158 1h1m11 0h1m42 0h1m15 0h1m3 0h1m8 0h1m7 0h1m7 0h1m18 0h1m19 0h1m9 0h1m9 0h1m5 0h1m7 0h1m-155 1h1m14 0h1m7 0h1m6 0h1m10 0h1m3 0h1m52 0h1m-96 1h1m9 0h1m7 0h1m17 0h1m5 0h1m32 0h1m5 0h1m28 0h1m3 0h1m27 0h1m-134 1h1m32 0h1m4 0h1m7 0h1m5 0h1m21 0h1m1 0h1m7 0h1m37 0h1m-118 1h1m36 0h1m12 0h1m14 0h1m8 0h1m9 0h1m33 0h2m16 0h1m13 0h1m2 0h1m1 0h1m-190 1h1m3 0h1m3 0h1m2 0h1m11 0h1m21 0h1m5 0h1m3 0h1m18 0h1m37 0h1m10 0h1m39 0h1m8 0h1m-171 1h1m9 0h1m61 0h1m13 0h1m37 0h1m6 0h1m38 0h1m-168 1h1m49 0h1m10 0h1m65 0h1m11 0h1m2 0h1m38 0h1m1 0h1m-187 1h1m10 0h1m49 0h1m44 0h1m19 0h1m18 0h1m37 0h1m-189 1h1m16 0h1m34 0h1m9 0h1m24 0h1m41 0h1m10 0h1m51 0h1m-159 1h1m10 0h1m3 0h1m14 0h1m9 0h1m15 0h1m50 0h1m20 0h1m13 0h1m-166 1h1m4 0h1m10 0h1m15 0h1m4 0h1m28 0h1m41 0h1m16 0h1m13 0h1m10 0h1m-154 1h1m29 0h1m6 0h1m27 0h1m2 0h1m2 0h2m20 0h1m9 0h1m8 0h1m6 0h1m40 0h1m12 0h1m-159 1h1m6 0h1m64 0h2m12 0h1m2 0h1m11 0h1m7 0h1m28 0h1m28 0h1m-139 1h1m28 0h1m2 0h1m54 0h1m10 0h1m18 0h1m-168 1h2m4 0h1m17 0h1m6 0h1m25 0h1m16 0h1m31 0h1m2 0h1m62 0h1m-154 1h1m10 0h1m15 0h1m25 0h1m8 0h1m6 0h1m70 0h1m14 0h1m-170 1h1m4 0h2m10 0h1m10 0h1m20 0h1m1 0h1m17 0h1m39 0h1m4 0h1m4 0h1m27 0h1m15 0h1m-169 1h1m5 0h1m6 0h1m2 0h1m17 0h1m4 0h1m6 0h1m9 0h1m3 0h1m8 0h1m29 0h1m6 0h1m-109 1h2m19 0h1m20 0h1m1 0h1m7 0h1m7 0h1m44 0h1m6 0h1m15 0h1m-111 1h1m10 0h1m2 0h1m11 0h1m5 0h2m2 0h1m15 0h1m8 0h2m5 0h1m2 0h1m34 0h1m7 0h1m3 0h1m22 0h1m18 0h1m-155 1h1m26 0h1m14 0h1m-50 1h1m29 0h1m6 0h1m14 0h1m3 0h1m37 0h1m14 0h1m5 0h1m10 0h1m3 0h1m15 0h1m1 0h1m11 0h1m-133 1h1m10 0h1m4 0h1m28 0h1m14 0h1m61 0h1m9 0h1m1 0h1m-179 1h1m35 0h1m39 0h1m11 0h2m24 0h1m8 0h1m-121 1h1m4 0h2m9 0h1m24 0h1m13 0h1m15 0h1m22 0h1m31 0h1m2 0h1m1 0h1m23 0h1m-117 1h1m32 0h2m2 0h1m3 0h1m11 0h1m3 0h1m52 0h1m24 0h1m-166 1h1m7 0h1m15 0h1m31 0h1m21 0h1m9 0h1m1 0h1m3 0h1m66 0h1m7 0h1m-158 1h1m2 0h1m13 0h1m2 0h1m29 0h1m23 0h1m21 0h1m17 0h1m14 0h1m-153 1h1m44 0h1m8 0h1m17 0h1m14 0h1m8 0h1m22 0h1m7 0h1m16 0h1m38 0h1m-163 1h1m6 0h1m38 0h1m10 0h1m10 0h1m2 0h1m5 0h1m7 0h1m10 0h1m3 0h1m54 0h1m-167 1h1m7 0h1m43 0h1m10 0h1m10 0h1m5 0h1m11 0h2m63 0h1m-143 1h1m6 0h1m58 0h1m27 0h1m2 0h1m16 0h1m43 0h1m-185 1h1m1 0h1m48 0h1m20 0h2m4 0h2m1 0h1m2 0h2m10 0h1m12 0h1m28 0h1m10 0h1m-108 1h1m1 0h1m5 0h1m2 0h1m24 0h1m9 0h1m35 0h1m7 0h1m5 0h1m2 0h1m30 0h1m-160 1h1m9 0h1m1 0h1m42 0h1m8 0h1m35 0h1m32 0h2m26 0h1m5 0h1m1 0h1m-174 1h1m24 0h1m20 0h1m5 0h1m8 0h1m5 0h1m3 0h1m5 0h1m6 0h1m22 0h1m2 0h1m22 0h2m4 0h1m39 0h1m-187 1h1m18 0h1m12 0h1m1 0h1m46 0h1m1 0h1m24 0h1m-107 1h1m16 0h1m8 0h1m12 0h1m5 0h1m11 0h1m16 0h1m1 0h1m8 0h1m17 0h1m4 0h1m25 0h1m9 0h1m1 0h1m-140 1h1m1 0h1m24 0h1m6 0h1m8 0h1m52 0h1m6 0h1m31 0h1m35 0h1m8 0h1m-192 1h1m26 0h1m21 0h1m12 0h1m2 0h1m5 0h1m5 0h1m6 0h1m1 0h1m13 0h1m3 0h1m2 0h1m46 0h1m9 0h1m-152 1h1m10 0h1m30 0h1m12 0h1m6 0h1m4 0h1m1 0h1m4 0h1m8 0h1m11 0h1m12 0h1m17 0h1m8 0h1m-139 1h1m3 0h2m2 0h1m35 0h1m14 0h1m3 0h1m2 0h1m6 0h1m25 0h1m32 0h1m27 0h1m-145 1h1m9 0h1m15 0h1m29 0h1m11 0h1m5 0h1m2 0h1m21 0h1m1 0h1m8 0h1m5 0h1m30 0h1m-137 1h1m24 0h1m4 0h1m9 0h1m1 0h1m7 0h1m53 0h1m48 0h1m-192 1h1m39 0h1m1 0h1m18 0h1m9 0h1m25 0h1m10 0h1m7 0h1m14 0h1m6 0h1m4 0h2m2 0h1m42 0h1m-188 1h1m22 0h1m25 0h1m6 0h1m36 0h1m8 0h1m35 0h1m2 0h1m42 0h1m4 0h1m-184 1h1m15 0h1m2 0h1m6 0h1m31 0h1m5 0h1m7 0h1m21 0h1m19 0h1m60 0h1m-163 1h1m31 0h1m28 0h1m12 0h1m14 0h1m29 0h1m18 0h1m20 0h1m-164 1h1m7 0h1m48 0h2m67 0h1m22 0h1m9 0h1m11 0h1m-177 1h1m5 0h2m15 0h1m4 0h1m21 0h1m4 0h3m3 0h1m36 0h1m13 0h1m1 0h1m8 0h1m46 0h1m-183 1h1m16 0h1m6 0h1m74 0h1m26 0h1m4 0h1m-131 1h1m49 0h1m12 0h1m22 0h1m5 0h2m16 0h1m17 0h1m7 0h1m31 0h1m9 0h1m-167 1h1m8 0h1m32 0h1m21 0h1m15 0h1m54 0h1m13 0h1m6 0h1m7 0h1m-165 1h1m7 0h1m17 0h1m2 0h1m16 0h1m1 0h1m21 0h1m25 0h1m28 0h1m13 0h1m13 0h1m23 0h1m-177 1h1m10 0h1m6 0h1m43 0h1m13 0h1m63 0h1m1 0h1m8 0h1m-157 1h1m5 0h1m3 0h1m4 0h1m10 0h1m57 0h3m52 0h1m6 0h1m2 0h1m1 0h1m-159 1h1m34 0h1m6 0h1m5 0h1m1 0h1m1 0h1m3 0h1m5 0h1m6 0h1m8 0h1m9 0h1m61 0h1m18 0h1m7 0h1m3 0h1m-171 1h1m3 0h1m4 0h1m13 0h1m48 0h2m13 0h1m5 0h1m14 0h1m8 0h1m6 0h1m41 0h1m4 0h1m2 0h1m-189 1h1m2 0h1m4 0h1m3 0h1m19 0h1m25 0h1m14 0h1m5 0h1m17 0h1m6 0h1m9 0h2m22 0h1m28 0h1m13 0h1m-155 1h1m29 0h1m17 0h1m6 0h1m25 0h2m1 0h1m27 0h1m4 0h1m20 0h1m22 0h1m-187 1h1m18 0h1m24 0h1m20 0h1m37 0h1m8 0h1m30 0h1m45 0h2m-172 1h1m5 0h1m1 0h1m32 0h1m13 0h1m17 0h1m6 0h1m32 0h1m29 0h1m3 0h1m14 0h1m-181 1h1m2 0h1m5 0h1m51 0h1m5 0h1m9 0h1m5 0h1m53 0h1m23 0h1m21 0h1m-156 1h1m23 0h1m8 0h1m13 0h1m1 0h1m1 0h1m16 0h1m7 0h1m18 0h1m11 0h1m10 0h1m24 0h1m2 0h1m-172 1h2m10 0h1m11 0h1m28 0h1m26 0h1m21 0h1m30 0h1m-125 1h1m8 0h1m36 0h1m18 0h1m16 0h1m5 0h1m14 0h1m41 0h1m-147 1h1m9 0h1m28 0h1m31 0h2m3 0h1m35 0h1m9 0h1m5 0h1m9 0h1m-122 1h1m11 0h1m4 0h1m12 0h1m12 0h2m45 0h1m24 0h1m11 0h1m1 0h1m11 0h1m3 0h1m-161 1h1m6 0h1m5 0h1m4 0h1m5 0h1m25 0h1m11 0h1m11 0h2m65 0h1m5 0h1m7 0h1m-172 1h1m12 0h1m10 0h1m7 0h1m13 0h1m9 0h1m28 0h1m3 0h1m42 0h1m8 0h1m2 0h1m33 0h1m-152 1h2m39 0h1m81 0h1m35 0h1m-156 1h1m24 0h1m12 0h1m15 0h1m4 0h1m16 0h1m10 0h1m31 0h1m39 0h1m-144 1h1m12 0h1m2 0h1m6 0h1m25 0h1m49 0h1m4 0h1m29 0h1m-155 1h1m52 0h1m6 0h1m17 0h2m31 0h1m15 0h1m18 0h1m8 0h1m-153 1h1m8 0h1m24 0h1m10 0h2m2 0h1m1 0h1m18 0h1m14 0h1m33 0h1m41 0h1m-125 1h1m19 0h1m4 0h1m20 0h2m11 0h1m2 0h1m29 0h2m20 0h1m-167 1h1m28 0h1m10 0h1m4 0h1m14 0h1m7 0h1m18 0h1m14 0h1m2 0h2m20 0h1m6 0h1m7 0h1m13 0h1m2 0h1m5 0h1m-168 1h1m18 0h1m26 0h1m19 0h1m1 0h1m11 0h1m13 0h1m16 0h1m5 0h1m21 0h1m7 0h1m-145 1h2m7 0h1m33 0h1m8 0h1m10 0h1m20 0h1m11 0h1m7 0h1m13 0h1m12 0h1m1 0h1m6 0h1m4 0h1m14 0h1m5 0h1m9 0h1m-186 1h1m25 0h1m6 0h1m6 0h1m4 0h1m59 0h1m14 0h1m7 0h1m2 0h1m16 0h1m7 0h1m21 0h1m-178 1h1m23 0h1m18 0h1m2 0h1m3 0h1m23 0h1m3 0h1m12 0h1m5 0h1m29 0h1m2 0h1m14 0h1m2 0h1m5 0h1m-160 1h1m10 0h1m6 0h1m14 0h1m33 0h1m16 0h1m7 0h1m33 0h1m23 0h1m5 0h1m9 0h1m15 0h1m-175 1h2m11 0h1m22 0h1m2 0h1m5 0h1m27 0h1m6 0h1m3 0h1m21 0h1m29 0h1m13 0h1m4 0h1m10 0h1m9 0h1m-165 1h1m16 0h1m3 0h1m4 0h1m31 0h1m1 0h2m20 0h1m13 0h1m8 0h1m17 0h1m17 0h1m2 0h1m3 0h1m10 0h2m-152 1h1m25 0h1m7 0h1m5 0h1m7 0h1m15 0h1m8 0h1m13 0h1m15 0h1m9 0h1m24 0h1m1 0h1m5 0h1m-169 1h1m50 0h1m18 0h1m4 0h1m6 0h1m1 0h1m9 0h1m7 0h1m30 0h1m4 0h1m3 0h1m3 0h1m1 0h1m3 0h1m-158 1h1m2 0h1m6 0h1m19 0h1m9 0h1m33 0h1m4 0h1m4 0h1m7 0h1m11 0h1m19 0h1m41 0h1m-156 1h3m13 0h1m4 0h1m6 0h1m38 0h1m35 0h1m11 0h1m21 0h2m3 0h1m1 0h1m5 0h1m5 0h1m5 0h1m-165 1h1m3 0h1m6 0h1m16 0h1m10 0h1m37 0h1m19 0h1m30 0h1m45 0h1m-178 1h1m12 0h1m13 0h1m10 0h1m10 0h1m2 0h1m15 0h1m2 0h2m1 0h1m6 0h1m7 0h1m63 0h1m3 0h1m-158 1h1m10 0h1m3 0h1m2 0h1m7 0h1m5 0h1m5 0h1m30 0h1m8 0h1m2 0h1m58 0h2m1 0h1m-144 1h1m2 0h1m8 0h1m15 0h1m58 0h1m8 0h1m14 0h1m11 0h1m2 0h1m2 0h1m10 0h1m2 0h1m1 0h1m10 0h1m4 0h1m4 0h1m-174 1h1m7 0h1m2 0h1m5 0h1m2 0h2m2 0h1m20 0h1m5 0h1m18 0h1m50 0h1m3 0h1m6 0h1m8 0h1m20 0h1m1 0h1m10 0h1m-177 1h1m5 0h1m11 0h1m1 0h1m19 0h1m15 0h1m7 0h1m36 0h1m4 0h1m29 0h1m28 0h2m19 0h1m1 0h1m-176 1h1m3 0h1m5 0h1m9 0h1m25 0h1m1 0h1m11 0h1m16 0h1m30 0h1m10 0h1m15 0h1m1 0h1m1 0h1m17 0h1m-157 1h1m2 0h2m4 0h1m5 0h2m3 0h1m11 0h1m1 0h1m3 0h1m12 0h1m10 0h1m14 0h2m12 0h1m11 0h1m21 0h1m5 0h1m2 0h1m10 0h1m9 0h1m3 0h1m1 0h1m11 0h1m-144 1h1m9 0h1m38 0h1m18 0h1m10 0h1m4 0h1m1 0h1m17 0h1m12 0h1m24 0h1m-183 1h2m3 0h1m6 0h1m22 0h1m25 0h1m23 0h1m7 0h1m27 0h1m28 0h1m15 0h1m11 0h1m-169 1h1m3 0h1m1 0h4m30 0h1m28 0h2m4 0h1m2 0h1m17 0h1m27 0h1m10 0h1m39 0h1m-185 1h1m3 0h1m22 0h1m1 0h1m3 0h1m43 0h1m6 0h1m29 0h1m8 0h2m17 0h1m22 0h1m3 0h1m10 0h1m-176 1h1m5 0h2m2 0h1m6 0h1m15 0h1m23 0h2m10 0h2m27 0h1m3 0h1m32 0h1m11 0h2m23 0h1m-181 1h1m7 0h1m13 0h1m6 0h1m8 0h1m3 0h1m12 0h1m32 0h1m2 0h1m21 0h1m9 0h1m4 0h1m13 0h1m11 0h2m6 0h1m14 0h1m5 0h1m-189 1h1m2 0h1m18 0h1m3 0h1m7 0h1m6 0h2m12 0h1m20 0h1m10 0h1m19 0h1m3 0h1m10 0h1m4 0h1m4 0h3m3 0h1m1 0h1m2 0h1m2 0h1m38 0h1m6 0h1m-166 1h1m49 0h1m1 0h1m8 0h1m31 0h1m3 0h1m12 0h1m4 0h1m8 0h1m5 0h1m30 0h1m-160 1h1m13 0h1m7 0h1m4 0h1m4 0h1m23 0h1m10 0h1m18 0h1m34 0h1m15 0h1m7 0h1m3 0h1m3 0h2m-161 1h1m27 0h1m11 0h1m13 0h2m14 0h1m12 0h1m26 0h1m9 0h1m15 0h1m5 0h1m1 0h1m3 0h1m-156 1h1m5 0h1m6 0h1m27 0h1m6 0h1m1 0h1m10 0h1m30 0h1m4 0h2m31 0h1m30 0h1m-146 1h1m2 0h1m10 0h1m9 0h1m17 0h1m21 0h1m9 0h1m3 0h1m27 0h1m25 0h1m25 0h1m-176 1h1m12 0h1m4 0h1m3 0h1m29 0h1m6 0h1m23 0h1m1 0h1m32 0h1m36 0h1m-171 1h1m11 0h1m9 0h1m25 0h1m18 0h1m9 0h1m12 0h1m28 0h1m4 0h1m14 0h1m4 0h1m10 0h1m15 0h1m7 0h1m3 0h1m1 0h1m-166 1h1m35 0h1m9 0h1m15 0h1m11 0h1m65 0h1m7 0h1m3 0h1m6 0h1m6 0h1m-187 1h1m5 0h2m20 0h1m18 0h1m35 0h1m27 0h1m31 0h1m12 0h1m-153 1h1m6 0h1m25 0h1m8 0h1m30 0h1m13 0h1m14 0h1m14 0h1m18 0h1m1 0h2m34 0h1m6 0h1m-133 1h1m11 0h1m2 0h1m2 0h1m41 0h1m14 0h1m31 0h1m12 0h1m2 0h1m-172 1h1m52 0h1m12 0h1m4 0h1m23 0h1m31 0h1m46 0h1m5 0h1m-171 1h1m15 0h1m38 0h1m1 0h1m28 0h1m36 0h1m10 0h1m27 0h1m2 0h1m2 0h1m-166 1h1m6 0h1m15 0h1m21 0h1m6 0h1m5 0h1m9 0h1m9 0h1m13 0h1m22 0h1m41 0h1m-175 1h1m6 0h1m14 0h1m1 0h1m18 0h1m21 0h1m16 0h1m7 0h1m9 0h1m4 0h1m25 0h1m39 0h1m6 0h2m6 0h1m-188 1h1m14 0h1m28 0h1m14 0h1m18 0h1m8 0h1m8 0h1m5 0h1m2 0h1m5 0h1m6 0h1m5 0h1m1 0h1m4 0h1m14 0h1m19 0h1m24 0h1m-185 1h1m6 0h1m2 0h1m9 0h1m1 0h1m19 0h1m20 0h1m1 0h1m20 0h1m4 0h1m4 0h1m45 0h1m10 0h1m8 0h1m-169 1h1m34 0h1m14 0h1m5 0h1m25 0h1m1 0h1m15 0h1m22 0h1m2 0h1m3 0h1m5 0h1m41 0h1m-173 1h3m19 0h1m9 0h1m36 0h1m3 0h2m5 0h1m1 0h1m3 0h2m12 0h1m11 0h1m13 0h1m18 0h1m10 0h1m-143 1h1m3 0h1m7 0h1m21 0h1m14 0h1m18 0h1m18 0h1m32 0h1m14 0h1m24 0h1m-174 1h1m21 0h1m21 0h1m7 0h1m48 0h1m40 0h1m-131 1h1m18 0h1m17 0h1m5 0h1m14 0h1m6 0h2m12 0h1m19 0h1m2 0h1m1 0h1m-76 1h2m18 0h1m6 0h1m5 0h2m15 0h1m1 0h1m22 0h1m26 0h1m10 0h1m-161 1h1m19 0h1m10 0h1m2 0h1m16 0h1m14 0h1m2 0h1m3 0h1m3 0h1m15 0h1m21 0h1m-117 1h1m3 0h2m22 0h1m70 0h1m7 0h1m11 0h1m22 0h1m28 0h1m-159 1h1m6 0h1m16 0h1m8 0h1m18 0h1m29 0h1m7 0h1m2 0h1m8 0h1m4 0h1m9 0h1m17 0h1m28 0h1m-158 1h1m4 0h1m14 0h1m8 0h1m26 0h1m5 0h1m1 0h1m4 0h1m13 0h1m7 0h1m7 0h1m21 0h1m31 0h1m7 0h2m-171 1h1m9 0h1m21 0h1m14 0h1m12 0h1m8 0h1m20 0h1m6 0h1m32 0h1m32 0h1m-151 1h1m1 0h1m2 0h1m9 0h3m26 0h1m41 0h1m8 0h1m9 0h1m31 0h1m15 0h1m9 0h1m-189 1h1m33 0h1m16 0h1m32 0h1m1 0h1m27 0h1m38 0h1m7 0h1m-155 1h1m1 0h1m3 0h2m16 0h1m16 0h1m4 0h1m17 0h1m22 0h1m18 0h1m7 0h1m14 0h2m29 0h1m17 0h1m-184 1h1m20 0h1m31 0h1m21 0h1m2 0h1m3 0h1m5 0h1m29 0h1m19 0h1m9 0h1m34 0h1m-171 1h1m21 0h1m2 0h1m17 0h1m4 0h1m9 0h1m16 0h2m8 0h1m21 0h1m13 0h2m3 0h1m15 0h1m11 0h1m6 0h1m2 0h3m-159 1h1m2 0h1m1 0h1m20 0h1m35 0h1m4 0h1m27 0h1m1 0h1m3 0h2m12 0h1m6 0h1m5 0h1m16 0h1m6 0h1m11 0h1m-163 1h2m26 0h1m11 0h1m22 0h1m5 0h2m28 0h1m36 0h1m6 0h1m9 0h1m9 0h1m-187 1h2m5 0h1m8 0h1m1 0h1m1 0h1m2 0h1m4 0h1m4 0h1m19 0h1m42 0h1m3 0h1m14 0h1m32 0h1m23 0h4m-150 1h1m32 0h1m28 0h1m5 0h1m1 0h1m14 0h1m21 0h1m2 0h1m23 0h1m18 0h1m4 0h1m-138 1h1m2 0h1m22 0h1m3 0h1m7 0h1m20 0h1m4 0h1m17 0h1m2 0h1m10 0h1m3 0h1m12 0h1m-135 1h2m2 0h1m7 0h1m7 0h1m9 0h1m12 0h1m16 0h1m16 0h2m1 0h1m10 0h1m6 0h1m8 0h1m41 0h1m-171 1h1m9 0h1m15 0h1m16 0h1m25 0h1m1 0h1m12 0h2m2 0h1m7 0h2m6 0h1m5 0h1m13 0h1m4 0h1m15 0h1m28 0h1m-176 1h1m1 0h1m38 0h2m35 0h1m11 0h1m14 0h1m1 0h2m2 0h1m2 0h1m10 0h1m24 0h1m6 0h1m7 0h1m13 0h1m-183 1h1m14 0h1m2 0h1m9 0h1m5 0h1m3 0h1m30 0h2m7 0h1m20 0h1m3 0h1m22 0h1m8 0h1m23 0h1m20 0h1m-174 1h1m29 0h2m6 0h1m4 0h1m13 0h1m11 0h1m13 0h1m20 0h1m3 0h2m7 0h1m2 0h1m7 0h1m12 0h1m16 0h1m-169 1h2m4 0h1m7 0h1m11 0h1m6 0h1m10 0h1m25 0h1m8 0h1m12 0h1m14 0h1m5 0h2m3 0h1m6 0h1m1 0h2m12 0h1m-133 1h1m9 0h2m8 0h1m16 0h1m9 0h1m1 0h2m38 0h1m9 0h1m3 0h1m12 0h2m2 0h1m5 0h1m2 0h2m-133 1h1m9 0h2m2 0h1m12 0h1m5 0h1m3 0h1m20 0h1m11 0h1m15 0h1m2 0h1m11 0h1m3 0h1m5 0h1m4 0h1m8 0h1m12 0h1m4 0h1m3 0h1m13 0h1m10 0h1m5 0h1m-183 1h1m23 0h1m1 0h1m10 0h1m13 0h1m3 0h1m21 0h1m28 0h1m12 0h1m4 0h1m17 0h1m8 0h1m22 0h1m-172 1h1m15 0h1m14 0h1m13 0h1m37 0h1m1 0h1m5 0h1m12 0h1m8 0h1m15 0h1m21 0h1m8 0h1m2 0h1m12 0h1m-151 1h1m2 0h1m1 0h1m1 0h1m16 0h1m7 0h1m26 0h1m20 0h1m1 0h1m13 0h1m15 0h2m5 0h1m3 0h1m12 0h1m6 0h1m7 0h1m-185 1h1m7 0h1m15 0h1m1 0h1m6 0h1m7 0h1m4 0h1m24 0h1m12 0h1m21 0h2m9 0h1m6 0h1m31 0h1m6 0h1m-142 1h1m4 0h2m9 0h1m21 0h1m3 0h1m53 0h1m3 0h1m3 0h1m31 0h1m19 0h1m-166 1h1m14 0h1m12 0h1m1 0h1m6 0h1m37 0h1m17 0h1m2 0h1m8 0h1m2 0h1m6 0h1m12 0h2m1 0h1m7 0h1m12 0h1m16 0h1m5 0h1m-160 1h1m2 0h1m1 0h1m38 0h1m1 0h1m18 0h1m7 0h1m8 0h1m2 0h1m11 0h3m1 0h1m4 0h1m2 0h1m10 0h1m14 0h1m1 0h1m7 0h1m3 0h1m-174 1h1m25 0h1m14 0h1m1 0h1m10 0h1m43 0h1m6 0h1m5 0h1m7 0h1m1 0h1m3 0h1m5 0h1m9 0h1m26 0h1m5 0h1m-159 1h1m23 0h1m29 0h1m44 0h1m26 0h1m2 0h1m11 0h1m19 0h1m7 0h1m-171 1h1m11 0h1m2 0h1m19 0h1m5 0h1m5 0h1m16 0h2m37 0h1m2 0h1m9 0h1m25 0h1m9 0h1m-163 1h1m5 0h1m2 0h1m5 0h1m8 0h1m29 0h1m6 0h1m13 0h1m13 0h1m1 0h1m12 0h1m12 0h1m1 0h2m3 0h1m1 0h1m18 0h1m34 0h1m-187 1h1m25 0h1m13 0h1m29 0h1m5 0h1m30 0h1m2 0h1m9 0h1m7 0h1m5 0h1m14 0h1m6 0h1m23 0h1m7 0h1m-192 1h1m19 0h1m7 0h1m9 0h2m52 0h1m24 0h1m72 0h1m-172 1h1m3 0h1m1 0h1m2 0h2m3 0h1m18 0h1m43 0h2m6 0h1m3 0h1m29 0h1m7 0h1m-136 1h1m63 0h1m8 0h1m25 0h1m1 0h1m1 0h1m13 0h1m36 0h1m11 0h1m-168 1h1m8 0h1m13 0h2m16 0h1m13 0h1m22 0h1m1 0h1m13 0h1m1 0h1m3 0h1m13 0h1m42 0h1m3 0h1m-161 1h1m14 0h1m5 0h1m12 0h1m3 0h1m18 0h1m50 0h2m6 0h1m19 0h1m15 0h1m-155 1h1m3 0h1m16 0h2m13 0h1m9 0h1m25 0h1m10 0h1m24 0h1m20 0h1m14 0h1m17 0h1m3 0h1m6 0h1m4 0h1m-163 1h1m7 0h1m23 0h1m1 0h1m5 0h1m19 0h1m5 0h1m2 0h1m8 0h1m1 0h1m76 0h1m-156 1h1m7 0h1m7 0h1m17 0h1m3 0h1m43 0h1m12 0h1m23 0h1m7 0h1m14 0h1m7 0h1m12 0h1m-182 1h1m11 0h1m20 0h1m14 0h1m1 0h1m9 0h1m15 0h1m24 0h1m1 0h1m5 0h1m19 0h1m28 0h1m1 0h2m2 0h1m4 0h1m-168 1h1m25 0h2m11 0h1m13 0h1m6 0h1m45 0h1m7 0h1m2 0h1m3 0h1m23 0h1m8 0h1m2 0h1m9 0h1m-168 1h1m12 0h1m13 0h1m17 0h1m5 0h1m33 0h1m20 0h1m3 0h1m17 0h1m1 0h1m30 0h1m14 0h1m-186 1h1m5 0h1m10 0h1m1 0h1m35 0h1m14 0h1m10 0h1m2 0h1m4 0h1m16 0h1m25 0h2m3 0h1m31 0h1m17 0h1m-108 1h2m10 0h1m9 0h2m2 0h1m6 0h1m14 0h1m38 0h1m14 0h1m6 0h1m-183 1h1m1 0h1m4 0h1m3 0h1m14 0h1m4 0h1m26 0h1m29 0h1m19 0h1m14 0h1m15 0h1m6 0h1m2 0h1m5 0h1m14 0h1m5 0h1m1 0h1m-148 1h1m18 0h1m30 0h1m14 0h2m4 0h1m7 0h1m9 0h1m1 0h1m10 0h2m7 0h1m38 0h1m-178 1h1m5 0h1m42 0h1m3 0h1m6 0h1m5 0h1m1 0h1m27 0h1m8 0h1m24 0h1m42 0h1"/>
<path stroke="#262626" d="M2 0.5h1m47 0h1m29 0h1m61 0h1m3 0h1m28 0h1m-113 1h1m37 0h1m75 0h1m7 0h1m-132 1h1m24 0h1m61 0h1m28 0h1m20 0h1m-137 1h1m44 0h1m1 0h1m26 0h1m20 0h1m41 0h1m-190 1h1m62 0h1m39 0h1m7 0h1m19 0h1m19 0h1m26 0h1m-133 1h1m30 0h1m41 0h1m16 0h1m5 0h2m-23 1h2m-92 1h1m131 0h1m15 0h1m-79 1h2m61 0h1m-152 1h1m5 0h1m76 0h1m2 0h1m2 0h1m31 0h1m17 0h1m-133 1h1m63 0h1m11 0h1m6 0h1m72 0h1m-144 1h1m5 0h1m13 0h1m11 0h1m7 0h1m61 0h1m11 0h1m20 0h1m-165 1h1m8 0h1m27 0h1m88 0h1m-60 1h1m12 0h1m25 0h1m44 0h1m8 0h1m-152 1h1m1 0h1m1 0h1m17 0h1m32 0h1m7 0h1m5 0h1m34 0h1m1 0h1m1 0h2m2 0h1m50 0h1m4 0h1m-183 1h1m71 0h1m67 0h1m38 0h1m-161 1h1m35 0h1m54 0h1m1 0h1m11 0h1m5 0h1m57 0h1m-189 1h1m15 0h1m43 0h1m82 0h1m-111 1h1m64 0h1m14 0h1m5 0h1m-99 1h1m22 0h1m21 0h1m35 0h1m22 0h1m13 0h1m-96 1h1m52 0h1m35 0h1m2 0h1m15 0h1m25 0h1m-161 1h1m6 0h1m66 0h1m95 0h1m-165 1h1m6 0h2m21 0h1m5 0h1m25 0h1m10 0h1m-94 1h1m64 0h1m6 0h1m-69 1h1m35 0h1m11 0h1m15 0h1m52 0h1m48 0h1m-172 1h1m1 0h1m15 0h1m41 0h1m10 0h1m82 0h1m25 0h1m4 0h1m-190 1h1m16 0h1m10 0h1m82 0h1m36 0h1m-111 1h1m27 0h1m14 0h1m38 0h1m33 0h1m6 0h1m7 0h1m-114 1h1m19 0h2m7 0h1m2 0h1m57 0h1m26 0h1m10 0h1m-152 1h2m63 0h1m4 0h1m7 0h1m-112 1h1m7 0h1m32 0h2m82 0h1m17 0h1m-110 1h1m86 0h1m33 0h2m-143 1h1m29 0h1m20 0h1m33 0h1m14 0h1m9 0h1m-120 1h1m30 0h1m4 0h1m45 0h1m77 0h1m-163 1h1m41 0h1m8 0h1m26 0h1m53 0h1m-117 1h1m41 0h1m37 0h1m41 0h1m38 0h1m-135 1h1m76 0h1m-125 1h1m2 0h1m11 0h1m18 0h1m6 0h1m22 0h1m23 0h1m16 0h1m14 0h1m58 0h1m-145 1h1m38 0h1m7 0h1m12 0h1m5 0h1m1 0h1m7 0h1m3 0h1m3 0h1m52 0h1m1 0h1m11 0h1m1 0h1m-178 1h1m21 0h1m62 0h2m4 0h1m74 0h1m-111 1h1m42 0h1m4 0h1m53 0h1m-157 1h1m10 0h1m37 0h1m1 0h1m49 0h1m9 0h1m-71 1h1m19 0h4m76 0h1m-97 1h1m7 0h1m2 0h1m12 0h1m17 0h1m88 0h1m-184 1h1m16 0h1m30 0h1m25 0h1m11 0h1m-58 1h1m11 0h1m27 0h1m10 0h1m66 0h1m-148 1h1m2 0h1m3 0h1m34 0h1m33 0h1m34 0h1m15 0h1m16 0h1m13 0h1m22 0h1m-175 1h1m17 0h1m9 0h1m52 0h1m5 0h1m19 0h1m71 0h1m-179 1h1m5 0h1m17 0h2m10 0h1m39 0h2m-83 1h1m49 0h1m21 0h1m34 0h1m13 0h1m54 0h1m-163 1h1m26 0h1m75 0h1m18 0h1m7 0h1m37 0h1m-189 1h1m47 0h1m59 0h1m41 0h1m-145 1h1m49 0h1m39 0h1m15 0h1m32 0h1m27 0h1m-128 1h1m32 0h1m8 0h1m-91 1h1m13 0h1m45 0h1m13 0h1m4 0h1m28 0h1m60 0h1m-163 1h1m51 0h1m8 0h1m48 0h1m8 0h1m10 0h1m23 0h1m-151 1h1m11 0h1m11 0h1m93 0h1m2 0h1m3 0h2m35 0h1m-148 1h1m1 0h1m22 0h1m67 0h1m31 0h1m-142 1h1m45 0h1m19 0h2m7 0h1m35 0h1m10 0h1m10 0h1m17 0h1m3 0h2m8 0h1m3 0h1m-181 1h1m10 0h1m74 0h1m51 0h1m20 0h1m20 0h1m-168 1h2m2 0h1m34 0h1m12 0h1m11 0h1m16 0h1m30 0h1m15 0h1m18 0h1m3 0h1m-144 1h1m26 0h1m26 0h1m4 0h1m1 0h1m108 0h1m-176 1h1m2 0h1m12 0h1m62 0h1m42 0h1m9 0h1m-138 1h2m4 0h1m34 0h1m36 0h1m14 0h1m54 0h1m-149 1h1m15 0h1m17 0h1m99 0h1m-144 1h1m7 0h1m56 0h1m27 0h1m-13 1h1m14 0h1m4 0h1m1 0h1m4 0h1m27 0h1m-133 1h1m22 0h1m49 0h1m3 0h1m91 0h1m3 0h1m-107 1h1m22 0h1m50 0h1m5 0h1m35 0h1m-158 1h1m16 0h1m5 0h1m13 0h1m9 0h1m2 0h1m26 0h1m-101 1h1m6 0h1m5 0h1m70 0h1m16 0h1m16 0h1m57 0h1m-169 1h1m12 0h1m6 0h1m128 0h1m23 0h1m-174 1h1m16 0h1m33 0h1m7 0h1m13 0h1m10 0h1m15 0h1m48 0h1m-90 1h1m2 0h1m86 0h1m15 0h1m-123 1h1m32 0h1m5 0h1m7 0h2m46 0h1m-149 1h1m55 0h1m4 0h1m22 0h1m28 0h1m9 0h1m1 0h1m-118 1h1m19 0h1m16 0h1m22 0h1m3 0h1m56 0h1m38 0h1m-122 1h1m46 0h1m29 0h1m16 0h1m21 0h1m2 0h1m-152 1h1m1 0h1m47 0h1m13 0h1m-70 1h1m14 0h1m4 0h1m112 0h1m10 0h1m6 0h1m6 0h1m10 0h1m-187 1h1m26 0h1m28 0h2m21 0h1m11 0h1m64 0h1m-146 1h1m50 0h2m93 0h1m23 0h1m9 0h1m-193 1h1m4 0h1m6 0h1m6 0h1m32 0h1m4 0h1m5 0h1m30 0h1m2 0h1m62 0h1m29 0h1m-175 1h1m3 0h1m9 0h1m11 0h1m52 0h2m41 0h1m1 0h1m11 0h1m29 0h1m-90 1h1m13 0h1m23 0h1m43 0h1m3 0h1m5 0h1m-92 1h1m6 0h1m65 0h1m-165 1h1m26 0h1m7 0h1m2 0h1m23 0h1m27 0h1m15 0h1m20 0h1m45 0h1m11 0h1m2 0h1m-187 1h1m34 0h1m132 0h1m5 0h1m-152 1h1m17 0h1m20 0h2m70 0h1m13 0h1m13 0h1m-160 1h1m21 0h1m16 0h1m5 0h1m1 0h1m94 0h1m27 0h1m-93 1h1m8 0h1m56 0h2m10 0h1m14 0h1m6 0h1m-155 1h1m17 0h1m43 0h1m24 0h1m37 0h1m4 0h1m27 0h1m-175 1h1m48 0h1m44 0h1m30 0h1m34 0h1m-93 1h1m54 0h1m23 0h1m19 0h1m-174 1h1m17 0h1m80 0h1m52 0h1m2 0h1m20 0h1m4 0h1m-191 1h1m7 0h1m24 0h1m14 0h1m5 0h1m51 0h1m2 0h1m11 0h1m21 0h1m9 0h1m15 0h1m9 0h1m-131 1h1m51 0h1m5 0h1m14 0h1m16 0h1m-116 1h1m21 0h1m124 0h1m-159 1h1m118 0h1m24 0h1m21 0h1m-152 1h1m52 0h1m10 0h1m21 0h1m10 0h1m5 0h1m12 0h1m6 0h1m7 0h1m25 0h1m-182 1h1m78 0h1m13 0h1m69 0h1m-149 1h1m17 0h1m54 0h1m16 0h2m11 0h1m37 0h1m5 0h1m24 0h1m-160 1h1m46 0h1m43 0h1m42 0h1m-148 1h1m18 0h1m1 0h1m12 0h2m11 0h1m13 0h2m26 0h1m5 0h1m2 0h1m24 0h1m35 0h1m-165 1h1m10 0h1m11 0h1m42 0h1m44 0h1m6 0h1m22 0h1m-157 1h1m7 0h1m82 0h1m24 0h1m17 0h1m7 0h1m27 0h1m7 0h1m11 0h1m-178 1h1m26 0h1m24 0h1m11 0h1m4 0h1m2 0h1m26 0h1m11 0h1m32 0h1m-129 1h1m6 0h1m23 0h1m21 0h2m35 0h1m22 0h1m2 0h1m2 0h1m34 0h1m-181 1h1m5 0h1m8 0h1m13 0h1m3 0h1m9 0h1m11 0h1m56 0h1m23 0h1m30 0h1m-144 1h1m16 0h1m8 0h1m20 0h1m6 0h1m1 0h1m38 0h1m34 0h1m25 0h1m-169 1h1m13 0h1m14 0h1m65 0h1m18 0h1m18 0h2m31 0h1m-163 1h1m30 0h1m33 0h1m34 0h1m30 0h1m15 0h1m-143 1h1m3 0h1m10 0h1m14 0h1m40 0h1m4 0h1m1 0h1m24 0h1m4 0h1m10 0h1m4 0h1m11 0h1m8 0h1m1 0h1m10 0h1m-174 1h1m18 0h1m29 0h1m11 0h1m8 0h1m1 0h1m20 0h1m24 0h1m20 0h1m-127 1h1m27 0h1m10 0h1m13 0h1m23 0h1m21 0h1m8 0h1m19 0h1m13 0h1m26 0h1m-170 1h2m4 0h1m7 0h1m8 0h1m5 0h1m-48 1h1m7 0h1m1 0h1m6 0h1m13 0h1m23 0h1m33 0h1m1 0h1m22 0h1m36 0h1m34 0h1m-182 1h1m11 0h1m44 0h1m21 0h1m8 0h1m1 0h1m39 0h1m31 0h1m20 0h1m-145 1h1m26 0h1m7 0h1m40 0h1m33 0h1m-140 1h1m35 0h1m27 0h1m18 0h1m14 0h1m16 0h1m5 0h1m36 0h1m11 0h1m-122 1h1m6 0h1m14 0h1m23 0h1m4 0h1m-87 1h1m9 0h1m75 0h1m6 0h1m3 0h1m9 0h1m15 0h1m12 0h1m6 0h1m-177 1h1m22 0h1m17 0h1m32 0h1m41 0h1m2 0h1m9 0h1m10 0h1m8 0h1m17 0h1m8 0h1m-136 1h1m8 0h1m4 0h1m10 0h1m44 0h1m36 0h1m16 0h2m-121 1h1m69 0h1m2 0h1m37 0h1m8 0h1m4 0h1m-166 1h1m96 0h1m6 0h1m49 0h1m5 0h1m21 0h1m-184 1h1m19 0h1m43 0h1m26 0h1m27 0h1m57 0h1m-126 1h1m32 0h1m85 0h1m8 0h1m-172 1h1m59 0h1m19 0h1m20 0h1m-87 1h1m46 0h1m100 0h1m10 0h1m-181 1h1m7 0h1m37 0h1m80 0h1m16 0h1m9 0h1m-154 1h1m2 0h1m9 0h1m33 0h1m22 0h1m11 0h1m4 0h1m2 0h1m22 0h1m25 0h1m6 0h1m-127 1h1m31 0h1m68 0h1m19 0h1m-140 1h1m42 0h1m4 0h1m1 0h1m7 0h1m15 0h1m18 0h1m10 0h1m23 0h1m-124 1h1m92 0h1m13 0h1m3 0h1m21 0h1m38 0h1m-129 1h1m2 0h1m24 0h1m24 0h1m9 0h1m39 0h1m2 0h1m-96 1h1m14 0h1m27 0h1m53 0h1m-106 1h1m35 0h1m4 0h1m11 0h1m54 0h1m-108 1h1m23 0h1m5 0h1m19 0h1m5 0h1m11 0h1m28 0h1m5 0h1m17 0h1m-159 1h1m123 0h1m17 0h1m-163 1h1m30 0h1m8 0h1m5 0h1m10 0h1m3 0h1m39 0h1m3 0h1m15 0h1m61 0h1m-124 1h1m30 0h1m1 0h1m45 0h1m-141 1h1m4 0h1m9 0h1m28 0h1m6 0h1m8 0h1m10 0h1m67 0h1m7 0h1m3 0h1m-105 1h1m10 0h1m28 0h1m25 0h1m10 0h1m19 0h1m40 0h1m-177 1h1m13 0h1m59 0h1m8 0h1m15 0h1m10 0h1m13 0h1m12 0h1m9 0h1m-158 1h1m7 0h1m2 0h1m13 0h1m4 0h1m73 0h1m1 0h1m9 0h1m6 0h1m20 0h1m-114 1h1m7 0h1m52 0h1m19 0h1m11 0h1m3 0h1m-116 1h2m30 0h1m54 0h1m37 0h1m46 0h1m-161 1h1m18 0h1m40 0h1m6 0h1m33 0h1m-129 1h1m48 0h1m4 0h1m20 0h1m2 0h1m15 0h1m13 0h1m16 0h1m38 0h1m-150 1h1m16 0h1m35 0h1m1 0h1m15 0h1m4 0h1m13 0h1m6 0h1m28 0h1m-130 1h1m4 0h1m22 0h1m13 0h1m29 0h1m19 0h1m2 0h1m10 0h1m11 0h1m10 0h1m9 0h1m2 0h1m-140 1h1m29 0h1m7 0h1m10 0h1m13 0h1m11 0h1m38 0h1m10 0h1m4 0h1m-144 1h1m22 0h1m19 0h1m54 0h2m5 0h2m4 0h1m1 0h1m8 0h1m-86 1h1m3 0h1m36 0h1m8 0h1m2 0h1m2 0h1m62 0h1m-84 1h1m8 0h1m15 0h1m14 0h1m8 0h1m5 0h1m1 0h1m10 0h1m-116 1h1m1 0h1m18 0h1m9 0h1m10 0h1m4 0h1m28 0h1m72 0h1m-144 1h1m20 0h1m5 0h1m6 0h1m1 0h1m13 0h1m30 0h1m9 0h1m4 0h1m7 0h1m9 0h1m-131 1h1m20 0h1m73 0h1m9 0h1m31 0h1m-158 1h2m122 0h1m29 0h1m13 0h1m6 0h1m11 0h1m-149 1h1m9 0h1m8 0h1m26 0h1m7 0h1m2 0h1m78 0h1m14 0h1m-170 1h1m7 0h1m6 0h1m6 0h1m30 0h1m1 0h1m14 0h1m20 0h1m3 0h1m-105 1h1m5 0h1m22 0h2m15 0h1m6 0h1m22 0h1m37 0h1m2 0h1m13 0h1m-123 1h1m2 0h1m44 0h1m15 0h1m6 0h1m1 0h1m6 0h1m16 0h1m1 0h1m12 0h1m6 0h1m8 0h1m18 0h1m-160 1h1m4 0h1m12 0h1m14 0h1m10 0h1m30 0h1m12 0h1m19 0h1m7 0h1m32 0h1m1 0h1m-136 1h1m17 0h1m2 0h1m2 0h2m18 0h2m22 0h1m11 0h1m28 0h1m39 0h1m3 0h1m-167 1h1m54 0h1m25 0h1m4 0h1m4 0h1m40 0h1m30 0h1m-131 1h1m17 0h1m22 0h1m7 0h1m29 0h1m15 0h1m23 0h1m1 0h1m2 0h1m18 0h1m-158 1h1m58 0h1m10 0h1m10 0h1m14 0h1m9 0h2m6 0h1m33 0h1m-166 1h2m14 0h2m37 0h2m21 0h1m5 0h1m8 0h1m29 0h1m47 0h1m-169 1h1m8 0h1m6 0h1m13 0h1m43 0h1m42 0h1m-106 1h1m91 0h1m11 0h1m1 0h1m11 0h1m12 0h1m-148 1h1m14 0h1m2 0h1m2 0h1m26 0h1m4 0h1m1 0h1m9 0h2m3 0h1m15 0h1m82 0h1m-160 1h1m46 0h1m35 0h1m79 0h2m-187 1h1m5 0h1m7 0h1m8 0h1m21 0h1m6 0h1m22 0h1m14 0h2m28 0h1m7 0h1m14 0h1m9 0h1m15 0h1m-163 1h1m20 0h1m4 0h1m37 0h1m20 0h1m12 0h1m10 0h1m22 0h1m-132 1h1m13 0h1m7 0h1m36 0h1m2 0h1m27 0h1m21 0h1m32 0h1m21 0h1m-145 1h1m45 0h1m5 0h1m52 0h1m1 0h1m29 0h2m3 0h1m-151 1h1m5 0h1m51 0h1m8 0h1m17 0h1m2 0h1m3 0h1m27 0h1m25 0h1m-162 1h1m53 0h1m9 0h1m4 0h1m1 0h1m13 0h1m9 0h1m22 0h1m18 0h1m-135 1h1m25 0h1m14 0h1m4 0h1m68 0h1m20 0h1m33 0h1m-135 1h1m44 0h1m24 0h1m39 0h1m14 0h1m-154 1h1m12 0h1m9 0h1m20 0h1m24 0h1m13 0h1m17 0h1m-123 1h1m21 0h1m12 0h1m65 0h1m22 0h1m23 0h1m13 0h1m12 0h1m1 0h1m-167 1h1m13 0h1m49 0h1m28 0h1m43 0h1m5 0h1m5 0h1m-160 1h1m18 0h1m35 0h1m14 0h1m9 0h1m23 0h1m9 0h1m7 0h1m13 0h1m26 0h1m-165 1h1m3 0h1m28 0h1m2 0h1m10 0h1m26 0h1m10 0h1m9 0h1m7 0h1m19 0h1m-113 1h1m3 0h1m13 0h1m4 0h1m25 0h1m14 0h1m13 0h1m6 0h1m2 0h1m10 0h1m40 0h1m5 0h1m10 0h1m-138 1h1m2 0h1m44 0h1m26 0h1m20 0h1m16 0h1m35 0h1m-169 1h1m4 0h1m14 0h1m67 0h1m15 1h1m52 0h1m-162 1h1m8 0h1m77 0h1m25 0h1m1 0h1m21 0h1m-136 1h1m15 0h1m74 0h1m35 0h1m14 0h1m18 0h2"/>
<path stroke="#3a3a3a" d="M19 1.5h1m21 0h1m11 0h1m64 0h1m31 0h1m37 0h1m-143 1h1m4 0h1m8 1h1m25 0h1m23 0h1m11 0h1m22 0h1m-23 1h1m-83 1h1m47 0h1m88 0h1m-104 1h1m79 0h1m16 0h1m5 0h1m-76 1h1m-98 1h1m69 0h1m34 0h1m22 0h1m-88 1h1m4 1h1m74 0h1m-18 2h1m71 0h1m-179 1h1m98 1h1m7 0h1m43 0h1m-115 1h1m8 0h1m47 0h1m7 0h1m15 0h1m-106 2h1m3 0h1m25 0h1m37 1h1m13 0h1m12 0h1m-30 1h1m61 0h1m-112 1h1m117 0h1m-134 2h1m44 0h1m64 0h1m32 1h1m29 0h1m-164 1h1m55 0h1m12 0h1m2 0h1m-16 1h1m17 0h1m55 0h1m13 0h1m-169 1h1m109 0h1m-102 1h1m2 0h1m77 0h1m8 0h1m-106 1h1m106 0h1m-69 1h1m54 0h1m2 0h1m-91 1h1m88 1h1m-88 1h1m22 0h1m47 0h1m14 0h1m13 0h1m29 0h1m51 0h1m-167 1h1m6 0h1m19 0h1m108 0h1m-153 2h1m67 0h1m34 0h1m47 0h1m-31 1h1m39 0h1m-143 1h1m31 0h2m6 0h1m45 0h1m-106 1h1m137 0h1m4 0h1m-82 1h1m-61 2h1m31 1h1m6 0h1m114 0h1m15 0h1m-127 2h1m102 0h1m-89 1h1m40 0h1m-40 1h1m45 0h1m17 1h1m-134 2h1m102 0h1m12 0h1m8 0h1m-99 1h1m99 0h1m-32 1h1m-44 1h1m8 0h1m47 0h1m-97 1h1m36 0h1m95 1h1m-130 1h1m82 0h1m-56 1h1m105 0h1m26 0h1m-117 1h1m6 0h1m27 0h1m-76 1h1m9 0h1m26 0h1m6 0h1m70 0h1m-127 1h1m130 0h1m-135 1h1m44 0h1m27 0h1m53 0h1m13 0h1m-116 1h1m4 1h1m95 0h1m38 0h1m10 0h1m-57 1h1m36 0h1m-49 1h1m-97 1h1m18 0h1m-22 1h1m63 0h1m68 0h1m-40 1h1m-113 1h1m40 0h1m47 0h1m-55 1h1m2 0h1m21 0h2m25 0h1m33 0h1m-121 1h1m88 0h1m9 0h1m23 0h1m37 0h2m-97 1h1m26 0h1m-97 1h1m164 0h1m11 0h1m-14 1h1m-89 1h1m36 0h1m-101 1h1m23 1h1m107 0h1m-138 1h1m116 0h1m5 0h2m4 1h1m6 0h1m20 0h1m-170 1h1m15 0h1m20 0h1m114 0h1m27 0h1m10 0h1m-127 1h1m105 0h1m-170 1h1m10 0h1m116 0h1m32 1h1m-92 1h1m38 0h1m58 0h1m4 0h1m-127 1h1m8 0h1m90 0h1m12 0h1m-104 1h1m69 0h1m12 0h1m-126 1h1m55 0h1m-9 1h1m4 0h1m17 0h1m-63 1h1m32 0h1m76 1h1m34 0h1m-138 1h1m72 0h1m46 0h1m3 0h1m-122 1h1m0 1h1m124 0h1m6 0h1m-93 1h1m10 0h1m22 0h1m-11 1h1m-82 1h1m22 0h1m43 1h1m30 0h1m-120 1h1m9 0h1m175 0h1m-181 1h1m39 0h1m14 0h1m21 0h1m76 0h1m-43 1h1m1 0h1m-68 1h1m77 0h1m42 0h1m-124 1h1m13 0h1m13 0h1m89 0h1m-156 1h1m97 0h1m18 0h1m7 0h1m32 0h1m-120 1h1m58 0h1m-84 1h1m80 0h1m57 0h1m-39 1h1m29 0h1m-46 1h1m53 0h1m12 0h1m-143 1h1m35 0h1m1 0h1m6 0h1m-67 1h1m11 0h1m20 0h1m10 0h1m45 0h1m1 0h1m25 0h1m40 0h1m-91 1h1m95 0h1m-175 1h1m128 0h1m28 0h1m-147 1h1m112 0h1m22 0h1m-121 1h1m42 0h1m79 0h1m-142 1h1m2 0h1m23 0h1m97 0h1m11 1h1m8 0h1m20 0h1m-63 1h1m30 0h1m-133 1h1m53 0h1m2 0h1m-31 1h1m38 1h1m65 0h1m-83 1h1m52 1h1m39 0h1m-149 1h1m6 0h1m95 0h1m12 0h1m55 0h1m-181 1h1m21 0h1m36 0h1m44 0h1m-113 1h1m61 0h1m15 0h1m5 0h1m55 0h1m-135 1h1m34 0h1m19 0h1m-1 1h1m111 0h1m-113 1h2m37 0h1m50 0h1m-59 1h1m75 0h1m-77 1h1m22 0h1m-13 1h1m40 1h1m-133 1h1m10 0h1m69 0h1m-92 1h1m21 0h1m68 0h1m19 0h1m20 0h1m42 0h1m-152 1h1m69 0h1m-73 1h1m62 0h1m67 0h1m-70 1h1m26 0h1m41 0h1m27 0h1m-73 1h1m12 0h1m31 0h1m-156 1h1m108 0h1m71 0h1m-144 1h1m1 0h1m23 0h1m-54 1h1m72 0h1m40 0h1m3 0h1m-130 1h1m12 0h1m113 1h1m-86 1h1m52 0h1m-45 1h1m85 0h1m40 0h1m-127 1h1m37 0h1m16 0h1m6 0h1m-111 1h1m68 0h1m-74 1h1m6 0h1m76 0h1m67 0h1m-137 1h1m49 0h1m41 0h1m-38 1h1m53 0h1m-100 1h1m37 0h1m-22 1h1m54 0h1m56 0h1m-55 1h1m9 0h1m-114 1h1m9 0h1m64 1h1m35 0h1m0 1h1m14 0h1m-61 1h1m49 0h1m-87 1h1m92 0h1m33 0h1m-69 1h1m60 0h1m-139 1h1m13 0h1m37 0h1m86 0h1m-140 1h1m4 1h1m15 0h1m41 0h1m54 0h1m16 0h1m-51 1h1m28 0h1m42 0h1m15 0h1m-168 1h1m12 0h1m25 0h1m-55 1h1m25 0h1m3 0h1m5 0h1m60 0h1m13 0h1m60 0h1m-169 1h1m92 0h1m24 0h1m6 0h1m30 0h1m-152 1h1m21 0h1m-12 1h1m95 0h1m67 0h1m-150 1h1m48 0h1m-63 1h1m7 0h1m7 1h1m29 0h1m31 0h1m44 0h1m20 0h1m-169 1h1m11 0h1m11 0h1m33 0h1m40 0h1m-34 1h1m-43 2h1m14 0h1m21 0h1m15 0h1m-60 1h1m62 0h1m1 0h1m15 0h1m37 0h1m1 0h1m6 0h1m-96 1h1m19 0h1m-50 1h1m36 0h1m74 0h1m31 0h1m-100 1h1m60 0h1m30 0h1m-128 1h1m50 0h1m83 0h2m14 0h1m-159 1h1m28 0h1m40 0h1m77 1h1m3 2h1m-30 1h1m20 0h1m-49 1h1m50 0h1m-153 1h1m46 0h1m54 0h1m17 0h1m-123 1h1m22 1h1m90 0h1m-79 2h1m117 0h1m-112 1h1m13 0h1m9 0h1m-32 1h1m7 0h1m85 0h1m-109 1h1m14 0h1m46 0h1m81 0h1"/>
<path stroke="#585858" d="M7 0.5h1m6 0h1m156 0h1m-10 1h1m-95 1h1m117 0h1m-121 1h1m120 0h2m-170 3h1m82 2h1m58 0h1m-158 2h1m6 0h1m-2 5h1m52 0h1m-64 3h1m30 0h1m91 0h1m3 0h1m63 1h1m-47 2h1m-139 1h1m57 1h1m11 2h1m20 2h1m71 1h1m-58 1h1m-85 1h1m4 1h1m83 0h1m-57 1h1m41 3h1m13 0h1m-104 3h1m6 2h1m32 1h1m-18 3h1m12 1h1m13 0h1m23 0h1m69 5h1m15 1h1m-155 2h1m80 1h1m42 1h1m-133 1h1m42 1h1m-42 1h1m73 0h1m50 0h1m-128 1h1m125 0h3m-61 1h1m22 1h1m13 0h1m-53 1h1m3 0h1m98 1h1m-162 1h1m12 1h1m44 0h1m-64 1h1m11 1h1m171 0h1m-169 1h1m74 1h1m-1 1h1m72 0h1m-1 2h1m-82 2h1m-37 1h1m125 0h1m-18 1h1m21 0h1m-63 3h1m-115 2h1m155 0h3m-2 1h1m-80 2h1m77 0h1m0 3h1m-42 1h1m-2 1h1m-107 2h1m46 1h1m96 2h1m-94 1h1m118 0h1m-143 1h1m6 0h1m0 1h1m13 0h1m32 0h1m45 0h1m13 1h1m-156 1h1m136 0h1m-57 1h1m0 1h1m-85 1h1m42 0h1m37 0h1m80 2h1m25 1h1m-24 2h1m-39 1h1m36 1h1m6 0h1m-80 1h1m-85 2h1m13 0h2m143 0h1m-147 1h1m15 0h1m74 0h1m-99 2h1m-1 3h1m144 0h1m-34 2h1m35 1h1m-97 3h1m-15 1h1m1 1h1m36 0h1m95 1h1m-21 1h1m-162 2h1m21 3h1m-5 1h1m1 0h1m12 0h1m-34 1h1m140 1h1m14 0h1m-96 1h1m31 1h1m-63 1h1m130 1h1m-36 1h1m-21 3h1m-74 1h1m40 0h1m54 0h1m11 0h1m-109 1h1m24 0h1m-26 3h1m25 3h1m69 0h1m1 0h1m0 1h1m-4 1h1m-53 1h1m52 0h2m-138 1h1m44 2h1m64 1h1m-92 1h1m-2 1h1m160 1h1m-130 2h1m-39 3h1m-2 1h1m120 4h1m-118 1h1m140 0h1m14 3h2m-1 1h1m-160 2h1m30 0h1m-13 1h1m-7 2h1m158 0h1m-92 2h1m-59 2h1m-28 1h1m43 0h1m120 1h1m-63 2h1m-32 1h1m53 1h1"/>
<path stroke="#888" d="M187 1.5h1m-167 7h1m100 0h1m-49 3h1m53 4h1m-118 4h1m47 0h1m1 8h1m85 3h1m-115 1h1m-1 1h2m120 0h1m-122 1h1m127 0h1m-135 5h1m87 7h1m53 2h1m-48 5h1m-112 5h1m-1 1h1m8 0h1m118 2h1m-80 3h1m42 1h1m-4 1h1m-7 4h1m73 2h1m1 3h1m-11 8h1m-27 7h1m22 0h1m11 4h1m-21 1h1m-86 2h1m0 2h1m14 2h2m-2 1h1m28 2h1m-90 9h1m127 0h1m-49 11h1m-37 2h1m-32 3h1m-9 4h1m141 0h1m-66 1h1m-77 1h1m64 1h1m43 18h1m2 1h1m52 6h1m-106 1h1m24 0h1m-93 1h2m85 1h1m1 9h1m39 7h1m-51 7h1m-73 4h1m80 0h1"/>
<path stroke="#c8c8c8" d="M186 3.5h1m-179 17h1m24 13h1m-20 24h1m-3 2h1m1 0h1m148 24h1m-63 10h1m16 5h1m-36 3h1m-62 12h1m42 11h1m0 1h1m-41 8h2m127 10h1m-19 9h1m-25 5h1m-105 1h1m10 3h1"/>
<path stroke="#fff" d="M187 2.5h2m-176 55h1m-1 1h2m81 11h1m-2 1h1m71 1h2m-1 1h1m-8 11h2m-81 18h1m-1 1h2m26 0h2m-1 1h1m-85 29h1m109 21h2m-2 1h2m-118 7h1m150 16h1"/>
</g>
</defs>
<rect x="19.6" y="28.1" width="514.4" height="510.7" fill="#000"/>
<rect x="19.6" y="552.1" width="514.4" height="511.1" fill="#000"/>
<g filter="url(#sf)"><use href="#m0" transform="translate(19.6,28.1) scale(2.66528,2.64611)"/></g>
<g filter="url(#sf)"><use href="#m0" transform="translate(19.6,552.1) scale(2.66528,2.64819)"/></g>
<rect x="561.2" y="28.1" width="513.7" height="510.7" fill="#000"/>
<rect x="561.2" y="552.1" width="513.7" height="511.1" fill="#000"/>
<g filter="url(#sf)"><use href="#m1" transform="translate(561.2,28.1) scale(2.66166,2.64611)"/></g>
<g filter="url(#sf)"><use href="#m1" transform="translate(561.2,552.1) scale(2.66166,2.64819)"/></g>
<rect x="1102.05" y="28.1" width="513.85" height="510.7" fill="#000"/>
<rect x="1102.05" y="552.1" width="513.85" height="511.1" fill="#000"/>
<g filter="url(#sf)"><use href="#m2" transform="translate(1102.05,28.1) scale(2.66244,2.64611)"/></g>
<g filter="url(#sf)"><use href="#m2" transform="translate(1102.05,552.1) scale(2.66244,2.64819)"/></g>
<rect x="1642.9" y="28.1" width="514.5" height="510.7" fill="#000"/>
<rect x="1642.9" y="552.1" width="514.5" height="511.1" fill="#000"/>
<g filter="url(#sf)"><use href="#m3" transform="translate(1642.9,28.1) scale(2.66580,2.64611)"/></g>
<g filter="url(#sf)"><use href="#m3" transform="translate(1642.9,552.1) scale(2.66580,2.64819)"/></g>
<rect x="1074" y="914.9" width="2" height="148.3" fill="#000"/>
<rect x="1102.0" y="914.9" width="1.05" height="148.4" fill="#fff"/>
<rect x="28" y="490" width="50" height="8" fill="#fff"/>
<text fill="#fff" stroke="#000" stroke-width="0.45"><tspan x="460.23" y="525.30" font-size="28.6" textLength="18.03" lengthAdjust="spacingAndGlyphs">0</tspan> <tspan x="484.90" y="525.30" font-size="27.4" textLength="38.13" lengthAdjust="spacingAndGlyphs">ms</tspan></text>
<text fill="#fff" stroke="#000" stroke-width="0.45"><tspan x="1006.87" y="525.30" font-size="28.6" textLength="15.72" lengthAdjust="spacingAndGlyphs">5</tspan> <tspan x="1029.90" y="525.30" font-size="27.4" textLength="38.13" lengthAdjust="spacingAndGlyphs">ms</tspan></text>
<text fill="#fff" stroke="#000" stroke-width="0.45"><tspan x="1529.72" y="525.30" font-size="28.6" textLength="30.34" lengthAdjust="spacingAndGlyphs">10</tspan> <tspan x="1568.27" y="525.30" font-size="27.4" textLength="36.83" lengthAdjust="spacingAndGlyphs">ms</tspan></text>
<text fill="#fff" stroke="#000" stroke-width="0.45"><tspan x="2074.92" y="525.30" font-size="28.6" textLength="27.41" lengthAdjust="spacingAndGlyphs">15</tspan> <tspan x="2110.05" y="525.30" font-size="27.4" textLength="37.05" lengthAdjust="spacingAndGlyphs">ms</tspan></text>
<text x="0.46" y="21.00" font-size="38.8" fill="#000" font-weight="bold" textLength="19.71" lengthAdjust="spacingAndGlyphs" stroke="#000" stroke-width="1.3" stroke-linejoin="round">a</text>
<g fill="none" stroke-width="2.55" stroke-linejoin="round" stroke-linecap="butt">
<circle cx="424.2" cy="570.2" r="12.4" stroke="#2f7df0"/>
<circle cx="503.8" cy="568.8" r="12.4" stroke="#7cf0a0"/>
<path d="M493.5,562.6 505.1,569.5" stroke="#7cf0a0" stroke-width="3.8"/>
<path d="M418.0,760.3L421.0,739.3Q421.4,736.3 424.2,737.3L445.4,744.9" stroke="#f6914a" stroke-width="3.8"/>
<circle cx="444.7" cy="743.8" r="12.4" stroke="#f6914a"/>
<circle cx="513.0" cy="750.4" r="12.4" stroke="#2fd6d3"/>
<circle cx="268.0" cy="804.9" r="12.4" stroke="#1fa3ee"/>
<circle cx="134.5" cy="823.5" r="12.4" stroke="#f6914a"/>
<path d="M306.1,839.2L323.5,827.2Q326.0,825.5 328.5,827.2L339.3,834.2Q341.8,835.8 338.8,836.3L312.3,841.0" stroke="#f21414" stroke-width="3.8"/>
<circle cx="313.3" cy="839.9" r="12.4" stroke="#f21414"/>
<path d="M261.5,847.8L250.8,880.3Q249.8,883.2 249.8,886.2L249.8,900.8Q249.8,903.8 251.3,901.2L266.2,875.5Q267.7,872.9 270.6,872.1L301.8,863.4Q304.7,862.6 302.0,861.6L299.2,860.5" stroke="#f5452a" stroke-width="3.8"/>
<circle cx="260.8" cy="848.9" r="12.4" stroke="#f5452a"/>
<circle cx="24.0" cy="863.3" r="12.4" stroke="#fdb05a"/>
<circle cx="93.0" cy="886.6" r="12.4" stroke="#2f7df0"/>
<circle cx="194.6" cy="902.7" r="12.4" stroke="#7cf0a0"/>
<circle cx="312.6" cy="952.5" r="12.4" stroke="#2f7df0"/>
<path d="M403.2,978.6L377.7,976.7Q374.7,976.5 377.7,976.2L399.9,973.4Q402.9,973.1 401.3,975.6L397.3,981.9Q395.7,984.4 394.7,987.2L392.6,993.2Q391.6,996.1 389.4,998.1L378.3,1008.8Q376.1,1010.8 379.0,1011.7L389.8,1014.9" stroke="#c3e67c" stroke-width="3.8"/>
<circle cx="402.2" cy="976.9" r="12.4" stroke="#c3e67c"/>
<circle cx="775.1" cy="568.5" r="12.4" stroke="#a4ec8a"/>
<circle cx="765.1" cy="590.8" r="12.4" stroke="#f6914a"/>
<path d="M953.5,573.3 965.5,570.2" stroke="#2f7df0" stroke-width="3.8"/>
<circle cx="954.6" cy="572.3" r="12.4" stroke="#2f7df0"/>
<path d="M1035.5,562.6L1043.7,568.5Q1046.2,570.2 1047.9,572.7L1056.8,585.3" stroke="#7cf0a0" stroke-width="3.8"/>
<circle cx="1056.8" cy="585.3" r="12.4" stroke="#7cf0a0"/>
<circle cx="592.2" cy="725.7" r="12.4" stroke="#1fa3ee"/>
<circle cx="626.1" cy="744.9" r="12.4" stroke="#f21414"/>
<circle cx="787.4" cy="751.1" r="12.4" stroke="#f6914a"/>
<path d="M958.0,760.3L959.8,738.6Q960.0,735.6 962.9,736.4L983.2,741.7Q986.1,742.5 984.7,745.1L979.3,755.2" stroke="#f6914a" stroke-width="3.8"/>
<circle cx="979.3" cy="755.2" r="12.4" stroke="#f6914a"/>
<path d="M1000.9,769.2 1055.8,749.7" stroke="#2fd6d3" stroke-width="3.8"/>
<circle cx="1001.9" cy="768.9" r="12.4" stroke="#2fd6d3"/>
<path d="M798.1,789.8 809.0,806.0" stroke="#1fa3ee" stroke-width="3.8"/>
<circle cx="800.1" cy="790.2" r="12.4" stroke="#1fa3ee"/>
<path d="M781.6,835.8L799.9,846.6Q802.5,848.2 801.6,851.0L792.5,879.6Q791.5,882.5 791.5,885.5L791.5,900.8Q791.5,903.8 793.0,901.2L807.6,875.5Q809.0,872.9 811.9,872.1L842.5,863.4Q845.4,862.6 842.7,861.6L839.9,860.5" stroke="#f5452a" stroke-width="3.8"/>
<circle cx="782.3" cy="836.2" r="12.4" stroke="#f5452a"/>
<circle cx="613.8" cy="981.7" r="12.4" stroke="#2f7df0"/>
<path d="M851.6,973.8 854.7,951.8" stroke="#2f7df0" stroke-width="3.8"/>
<circle cx="851.6" cy="973.8" r="12.4" stroke="#2f7df0"/>
<path d="M945.3,978.6L919.8,976.7Q916.8,976.5 919.8,976.2L942.0,973.4Q944.9,973.1 943.3,975.6L939.3,981.9Q937.7,984.4 936.7,987.2L934.6,993.2Q933.6,996.1 931.4,998.1L920.3,1008.8Q918.2,1010.8 921.0,1011.7L931.9,1014.9" stroke="#c3e67c" stroke-width="3.8"/>
<circle cx="1118.8" cy="697.5" r="12.4" stroke="#4262f2"/>
<path d="M1126.0,740.1 1134.2,724.6" stroke="#1fa3ee" stroke-width="3.8"/>
<circle cx="1126.0" cy="740.1" r="12.4" stroke="#1fa3ee"/>
<path d="M1168.2,755.2 1167.9,743.2" stroke="#f21414" stroke-width="3.8"/>
<circle cx="1168.2" cy="755.2" r="12.4" stroke="#f21414"/>
<path d="M1499.4,760.3L1501.8,739.3Q1502.1,736.3 1505.0,737.2L1522.6,742.9Q1525.4,743.8 1524.2,746.6L1521.8,752.1Q1520.6,754.8 1523.1,753.2L1535.7,744.9" stroke="#f6914a" stroke-width="3.8"/>
<circle cx="1535.0" cy="745.2" r="12.4" stroke="#f6914a"/>
<path d="M1104.7,863.3 1135.6,854.3" stroke="#fdb05a" stroke-width="3.8"/>
<circle cx="1134.2" cy="855.0" r="12.4" stroke="#fdb05a"/>
<path d="M1322.6,839.2L1339.8,847.5Q1342.5,848.9 1341.6,851.7L1332.5,879.6Q1331.5,882.5 1331.5,885.5L1331.5,900.8Q1331.5,903.8 1333.0,901.2L1347.6,875.5Q1349.0,872.9 1351.9,872.1L1383.2,863.4Q1386.1,862.6 1383.4,861.6L1380.6,860.5" stroke="#f5452a" stroke-width="3.8"/>
<circle cx="1322.6" cy="840.6" r="12.4" stroke="#f5452a"/>
<path d="M1274.2,876.3 1277.3,905.1" stroke="#7cf0a0" stroke-width="3.8"/>
<circle cx="1274.2" cy="877.0" r="12.4" stroke="#7cf0a0"/>
<path d="M1485.3,978.6L1459.8,976.7Q1456.8,976.5 1459.8,976.2L1482.0,973.4Q1484.9,973.1 1483.3,975.6L1479.3,981.9Q1477.7,984.4 1476.7,987.2L1474.6,993.2Q1473.6,996.1 1471.4,998.1L1460.3,1008.8Q1458.2,1010.8 1461.0,1011.7L1471.9,1014.9" stroke="#c3e67c" stroke-width="3.8"/>
<circle cx="1472.9" cy="982.0" r="12.4" stroke="#c3e67c"/>
<path d="M1576.2,562.6L1584.1,568.4Q1586.5,570.2 1588.3,572.6L1598.2,586.3" stroke="#7cf0a0" stroke-width="3.8"/>
<path d="M2118.0,563.3L2125.3,569.0Q2127.6,570.9 2129.4,573.3L2136.8,582.9Q2138.6,585.3 2139.1,582.3L2143.1,560.6" stroke="#7cf0a0" stroke-width="3.8"/>
<circle cx="2143.7" cy="559.9" r="12.4" stroke="#7cf0a0"/>
<circle cx="1735.4" cy="637.5" r="12.4" stroke="#2fd6d3"/>
<path d="M1658.8,697.2 1679.8,708.2" stroke="#2f7df0" stroke-width="3.8"/>
<circle cx="1678.8" cy="707.5" r="12.4" stroke="#2f7df0"/>
<path d="M1867.5,752.1 1898.4,737.0" stroke="#f6914a" stroke-width="3.8"/>
<circle cx="1898.0" cy="737.3" r="12.4" stroke="#f6914a"/>
<path d="M2040.5,760.3L2042.9,739.3Q2043.2,736.3 2046.0,737.3L2064.4,744.2Q2067.2,745.2 2065.7,747.8L2063.2,752.2Q2061.7,754.8 2064.3,753.2L2073.6,747.5Q2076.1,745.9 2079.0,745.1L2093.3,741.1" stroke="#f6914a" stroke-width="3.8"/>
<circle cx="2091.9" cy="741.8" r="12.4" stroke="#f6914a"/>
<circle cx="2076.1" cy="771.6" r="12.4" stroke="#4262f2"/>
<path d="M1863.4,819.7L1863.4,836.9Q1863.4,839.9 1866.1,841.2L1880.6,848.2Q1883.3,849.5 1882.3,852.4L1873.2,879.6Q1872.3,882.5 1872.3,885.5L1872.3,901.4Q1872.3,904.4 1873.8,901.8L1888.7,875.5Q1890.1,872.9 1893.0,872.1L1923.6,863.4Q1926.5,862.6 1923.8,861.6L1921.0,860.5" stroke="#f5452a" stroke-width="3.8"/>
<circle cx="1864.1" cy="820.4" r="12.4" stroke="#f5452a"/>
<circle cx="1939.9" cy="824.5" r="12.4" stroke="#f21414"/>
<path d="M1645.8,864.0L1673.5,855.9Q1676.4,855.0 1679.3,854.6L1704.5,850.6" stroke="#fdb05a" stroke-width="3.8"/>
<circle cx="1703.1" cy="850.9" r="12.4" stroke="#fdb05a"/>
<path d="M1816.7,904.4L1815.5,881.0Q1815.3,878.0 1817.2,880.4L1819.5,883.2" stroke="#7cf0a0" stroke-width="3.8"/>
<circle cx="1818.8" cy="883.9" r="12.4" stroke="#7cf0a0"/>
<circle cx="1713.1" cy="904.1" r="12.4" stroke="#fdb05a"/>
<path d="M2011.6,957.0L2013.0,970.1Q2013.3,973.1 2016.1,974.2L2023.9,977.2Q2026.7,978.2 2023.7,978.0L2001.6,976.4Q1998.6,976.2 2001.6,975.8L2023.1,973.4Q2026.0,973.1 2024.4,975.6L2020.4,981.9Q2018.8,984.4 2017.8,987.2L2015.7,993.2Q2014.7,996.1 2012.5,998.1L2001.4,1008.8Q1999.3,1010.8 2002.1,1011.7L2013.0,1014.9" stroke="#c3e67c" stroke-width="3.8"/>
<circle cx="2010.6" cy="957.6" r="12.4" stroke="#c3e67c"/>
<path d="M1695.2,982.0 1700.4,979.3" stroke="#2f7df0" stroke-width="3.8"/>
<circle cx="1699.0" cy="979.9" r="12.4" stroke="#2f7df0"/>
<circle cx="2104.3" cy="1022.8" r="12.4" stroke="#6ff0b2"/>
</g>
<text x="-1.43" y="1142.90" font-size="38.6" fill="#000" font-weight="bold" textLength="27.15" lengthAdjust="spacingAndGlyphs" stroke="#000" stroke-width="1.3" stroke-linejoin="round">b</text>
<line x1="135.70" y1="1156.60" x2="135.70" y2="1488.03" stroke="#1a1a1a" stroke-width="1.25"/>
<line x1="123.20" y1="1487.40" x2="634.90" y2="1487.40" stroke="#1a1a1a" stroke-width="1.25"/>
<line x1="123.20" y1="1222.90" x2="135.70" y2="1222.90" stroke="#1a1a1a" stroke-width="1.25"/>
<line x1="123.20" y1="1355.10" x2="135.70" y2="1355.10" stroke="#1a1a1a" stroke-width="1.25"/>
<text x="79.83" y="1230.25" font-size="23.6" fill="#000" textLength="30.03" lengthAdjust="spacingAndGlyphs">60</text>
<text x="80.39" y="1362.45" font-size="23.6" fill="#000" textLength="29.44" lengthAdjust="spacingAndGlyphs">40</text>
<text x="80.68" y="1494.75" font-size="23.6" fill="#000" textLength="29.14" lengthAdjust="spacingAndGlyphs">20</text>
<line x1="135.70" y1="1487.40" x2="135.70" y2="1494.00" stroke="#1a1a1a" stroke-width="1.25"/>
<line x1="152.36" y1="1487.40" x2="152.36" y2="1494.00" stroke="#1a1a1a" stroke-width="1.25"/>
<line x1="169.02" y1="1487.40" x2="169.02" y2="1494.00" stroke="#1a1a1a" stroke-width="1.25"/>
<line x1="185.68" y1="1487.40" x2="185.68" y2="1494.00" stroke="#1a1a1a" stroke-width="1.25"/>
<line x1="202.34" y1="1487.40" x2="202.34" y2="1499.70" stroke="#1a1a1a" stroke-width="1.25"/>
<line x1="219.00" y1="1487.40" x2="219.00" y2="1494.00" stroke="#1a1a1a" stroke-width="1.25"/>
<line x1="235.66" y1="1487.40" x2="235.66" y2="1494.00" stroke="#1a1a1a" stroke-width="1.25"/>
<line x1="252.32" y1="1487.40" x2="252.32" y2="1494.00" stroke="#1a1a1a" stroke-width="1.25"/>
<line x1="268.98" y1="1487.40" x2="268.98" y2="1494.00" stroke="#1a1a1a" stroke-width="1.25"/>
<line x1="285.64" y1="1487.40" x2="285.64" y2="1494.00" stroke="#1a1a1a" stroke-width="1.25"/>
<line x1="302.30" y1="1487.40" x2="302.30" y2="1494.00" stroke="#1a1a1a" stroke-width="1.25"/>
<line x1="318.96" y1="1487.40" x2="318.96" y2="1494.00" stroke="#1a1a1a" stroke-width="1.25"/>
<line x1="335.62" y1="1487.40" x2="335.62" y2="1494.00" stroke="#1a1a1a" stroke-width="1.25"/>
<line x1="352.28" y1="1487.40" x2="352.28" y2="1494.00" stroke="#1a1a1a" stroke-width="1.25"/>
<line x1="368.94" y1="1487.40" x2="368.94" y2="1499.70" stroke="#1a1a1a" stroke-width="1.25"/>
<line x1="385.60" y1="1487.40" x2="385.60" y2="1494.00" stroke="#1a1a1a" stroke-width="1.25"/>
<line x1="402.26" y1="1487.40" x2="402.26" y2="1494.00" stroke="#1a1a1a" stroke-width="1.25"/>
<line x1="418.92" y1="1487.40" x2="418.92" y2="1494.00" stroke="#1a1a1a" stroke-width="1.25"/>
<line x1="435.58" y1="1487.40" x2="435.58" y2="1494.00" stroke="#1a1a1a" stroke-width="1.25"/>
<line x1="452.24" y1="1487.40" x2="452.24" y2="1494.00" stroke="#1a1a1a" stroke-width="1.25"/>
<line x1="468.90" y1="1487.40" x2="468.90" y2="1494.00" stroke="#1a1a1a" stroke-width="1.25"/>
<line x1="485.56" y1="1487.40" x2="485.56" y2="1494.00" stroke="#1a1a1a" stroke-width="1.25"/>
<line x1="502.22" y1="1487.40" x2="502.22" y2="1494.00" stroke="#1a1a1a" stroke-width="1.25"/>
<line x1="518.88" y1="1487.40" x2="518.88" y2="1494.00" stroke="#1a1a1a" stroke-width="1.25"/>
<line x1="535.54" y1="1487.40" x2="535.54" y2="1499.70" stroke="#1a1a1a" stroke-width="1.25"/>
<line x1="552.20" y1="1487.40" x2="552.20" y2="1494.00" stroke="#1a1a1a" stroke-width="1.25"/>
<line x1="568.86" y1="1487.40" x2="568.86" y2="1494.00" stroke="#1a1a1a" stroke-width="1.25"/>
<line x1="585.52" y1="1487.40" x2="585.52" y2="1494.00" stroke="#1a1a1a" stroke-width="1.25"/>
<line x1="602.18" y1="1487.40" x2="602.18" y2="1494.00" stroke="#1a1a1a" stroke-width="1.25"/>
<line x1="618.84" y1="1487.40" x2="618.84" y2="1494.00" stroke="#1a1a1a" stroke-width="1.25"/>
<text x="186.39" y="1528.20" font-size="23.6" fill="#000" textLength="31.29" lengthAdjust="spacingAndGlyphs">1.0</text>
<text x="353.49" y="1528.20" font-size="23.6" fill="#000" textLength="29.40" lengthAdjust="spacingAndGlyphs">1.5</text>
<text x="518.10" y="1528.20" font-size="23.6" fill="#000" textLength="33.24" lengthAdjust="spacingAndGlyphs">2.0</text>
<text fill="#000"><tspan x="284.38" y="1567.90" font-size="26.6" textLength="109.88" lengthAdjust="spacingAndGlyphs">Viscosity</tspan> <tspan x="402.53" y="1567.90" font-size="26.6" textLength="86.95" lengthAdjust="spacingAndGlyphs">(mPas)</tspan></text>
<text fill="#000" transform="translate(22.90 0) rotate(-90)"><tspan x="-1457.98" y="0.00" font-size="26.6" textLength="112.97" lengthAdjust="spacingAndGlyphs">Diffusion</tspan> <tspan x="-1337.26" y="0.00" font-size="26.6" textLength="149.67" lengthAdjust="spacingAndGlyphs">coeffiecient</tspan></text>
<text fill="#000" transform="translate(56.40 0) rotate(-90)"><tspan x="-1411.67" y="0.00" font-size="26.6" textLength="13.33" lengthAdjust="spacingAndGlyphs">±</tspan> <tspan x="-1390.58" y="0.00" font-size="26.6" textLength="45.46" lengthAdjust="spacingAndGlyphs">s.d.</tspan> <tspan x="-1339.63" y="0.00" font-size="26.6" textLength="51.48" lengthAdjust="spacingAndGlyphs">(µm</tspan><tspan x="-1288.77" y="-13.40" font-size="19.0" textLength="12.94" lengthAdjust="spacingAndGlyphs">2</tspan> <tspan x="-1270.99" y="0.00" font-size="26.6" textLength="14.22" lengthAdjust="spacingAndGlyphs">s</tspan><tspan x="-1258.16" y="-13.40" font-size="19.0" textLength="17.62" lengthAdjust="spacingAndGlyphs">−1</tspan><tspan x="-1241.06" y="0.00" font-size="26.6" textLength="9.04" lengthAdjust="spacingAndGlyphs">)</tspan></text>
<line x1="154.30" y1="1175.40" x2="179.80" y2="1175.40" stroke="#cf6fd6" stroke-width="3.8"/>
<text x="188.39" y="1182.20" font-size="22.2" fill="#000" textLength="88.33" lengthAdjust="spacingAndGlyphs">Original</text>
<line x1="154.30" y1="1211.00" x2="179.80" y2="1211.00" stroke="#4fc48c" stroke-width="3.8"/>
<text x="188.32" y="1217.90" font-size="22.2" fill="#000" textLength="110.50" lengthAdjust="spacingAndGlyphs">Corrected</text>
<line x1="337.80" y1="1175.30" x2="372.00" y2="1175.30" stroke="#000" stroke-width="3.5" stroke-dasharray="0.01 6.69" stroke-linecap="round"/>
<text x="384.84" y="1182.20" font-size="22.2" fill="#000" textLength="168.09" lengthAdjust="spacingAndGlyphs">Stokes–Einstein</text>
<path d="M136.7,1214.7 142.0,1222.3 147.2,1229.4 152.5,1236.0 157.8,1242.4 163.0,1248.6 168.3,1254.8 173.6,1260.8 178.8,1266.7 184.1,1272.6 189.4,1278.3 194.6,1284.0 199.9,1289.4 205.2,1294.5 210.4,1299.3 215.7,1304.0 221.0,1308.5 226.2,1312.9 231.5,1317.4 236.8,1321.8 242.0,1326.3 247.3,1330.8 252.6,1335.2 257.9,1339.3 263.1,1343.2 268.4,1347.0 273.7,1350.6 278.9,1354.2 284.2,1357.6 289.5,1361.0 294.7,1364.2 300.0,1367.3 305.3,1370.3 310.5,1373.1 315.8,1375.9 321.1,1378.5 326.3,1381.0 331.6,1383.4 336.9,1385.7 342.1,1388.0 347.4,1390.2 352.7,1392.4 357.9,1394.6 363.2,1396.8 368.5,1399.0 373.7,1401.2 379.0,1403.4 384.3,1405.6 389.5,1407.7 394.8,1409.8 400.1,1411.9 405.3,1414.0 410.6,1416.1 415.9,1418.2 421.1,1420.2 426.4,1422.4 431.7,1424.5 436.9,1426.7 442.2,1428.8 447.5,1431.0 452.7,1433.1 458.0,1435.2 463.3,1437.2 468.5,1439.1 473.8,1440.8 479.1,1442.5 484.3,1444.0 489.6,1445.3 494.9,1446.6 500.2,1447.8 505.4,1448.9 510.7,1450.0 516.0,1451.1 521.2,1452.2 526.5,1453.4 531.8,1454.6 537.0,1455.8 542.3,1457.1 547.6,1458.3 552.8,1459.6 558.1,1460.8 563.4,1462.0 568.6,1463.2 573.9,1464.5 579.2,1465.7 584.4,1466.9 589.7,1468.1 595.0,1469.2 600.2,1470.4 605.5,1471.6" fill="none" stroke="#000" stroke-width="3.4" stroke-linejoin="round" stroke-dasharray="0.01 6.3" stroke-linecap="round"/>
<path d="M136.7,1208.6 175.5,1258.4 224.6,1310.1 289.3,1359.5 369.4,1397.3 481.6,1443.6 609.6,1482.0" fill="none" stroke="#4fc48c" stroke-width="3.8" stroke-linejoin="round" stroke-linecap="square"/>
<path d="M136.7,1255.5 175.5,1279.4 224.6,1310.1 289.3,1345.0 369.4,1374.7 481.6,1412.5 611.5,1448.7" fill="none" stroke="#cf6fd6" stroke-width="3.8" stroke-linejoin="round" stroke-linecap="square"/>
<path d="M136.7,1249.5V1261.5M133.1,1249.5h7.2M133.1,1261.5h7.2" fill="none" stroke="#cf6fd6" stroke-width="1.1"/>
<path d="M175.5,1275.4V1283.4M171.9,1275.4h7.2M171.9,1283.4h7.2" fill="none" stroke="#cf6fd6" stroke-width="1.1"/>
<path d="M224.6,1306.1V1314.1M221.0,1306.1h7.2M221.0,1314.1h7.2" fill="none" stroke="#cf6fd6" stroke-width="1.1"/>
<path d="M289.3,1341.0V1349.0M285.7,1341.0h7.2M285.7,1349.0h7.2" fill="none" stroke="#cf6fd6" stroke-width="1.1"/>
<path d="M369.4,1370.7V1378.7M365.8,1370.7h7.2M365.8,1378.7h7.2" fill="none" stroke="#cf6fd6" stroke-width="1.1"/>
<path d="M481.6,1407.5V1417.5M478.0,1407.5h7.2M478.0,1417.5h7.2" fill="none" stroke="#cf6fd6" stroke-width="1.1"/>
<path d="M136.7,1203.6V1213.6M133.1,1203.6h7.2M133.1,1213.6h7.2" fill="none" stroke="#4fc48c" stroke-width="1.1"/>
<path d="M175.5,1255.4V1261.4M171.9,1255.4h7.2M171.9,1261.4h7.2" fill="none" stroke="#4fc48c" stroke-width="1.1"/>
<path d="M224.6,1307.1V1313.1M221.0,1307.1h7.2M221.0,1313.1h7.2" fill="none" stroke="#4fc48c" stroke-width="1.1"/>
<path d="M289.3,1355.5V1363.5M285.7,1355.5h7.2M285.7,1363.5h7.2" fill="none" stroke="#4fc48c" stroke-width="1.1"/>
<path d="M369.4,1395.3V1399.3M365.8,1395.3h7.2M365.8,1399.3h7.2" fill="none" stroke="#4fc48c" stroke-width="1.1"/>
<path d="M481.6,1438.6V1448.6M478.0,1438.6h7.2M478.0,1448.6h7.2" fill="none" stroke="#4fc48c" stroke-width="1.1"/>
<path d="M609.6,1477.0V1487.0M606.0,1477.0h7.2M606.0,1487.0h7.2" fill="none" stroke="#4fc48c" stroke-width="1.1"/>
<text x="721.98" y="1142.80" font-size="37.2" fill="#000" font-weight="bold" textLength="23.03" lengthAdjust="spacingAndGlyphs" stroke="#000" stroke-width="1.3" stroke-linejoin="round">c</text>
<line x1="854.20" y1="1154.60" x2="854.20" y2="1488.03" stroke="#1a1a1a" stroke-width="1.25"/>
<line x1="854.20" y1="1487.40" x2="1357.10" y2="1487.40" stroke="#1a1a1a" stroke-width="1.25"/>
<line x1="841.20" y1="1214.70" x2="854.20" y2="1214.70" stroke="#1a1a1a" stroke-width="1.25"/>
<text x="797.90" y="1222.05" font-size="23.6" fill="#000" textLength="29.12" lengthAdjust="spacingAndGlyphs">30</text>
<line x1="841.20" y1="1290.40" x2="854.20" y2="1290.40" stroke="#1a1a1a" stroke-width="1.25"/>
<text x="799.89" y="1297.75" font-size="23.6" fill="#000" textLength="26.72" lengthAdjust="spacingAndGlyphs">25</text>
<line x1="841.20" y1="1366.20" x2="854.20" y2="1366.20" stroke="#1a1a1a" stroke-width="1.25"/>
<text x="798.28" y="1373.55" font-size="23.6" fill="#000" textLength="29.14" lengthAdjust="spacingAndGlyphs">20</text>
<line x1="841.20" y1="1441.90" x2="854.20" y2="1441.90" stroke="#1a1a1a" stroke-width="1.25"/>
<text x="803.38" y="1449.25" font-size="23.6" fill="#000" textLength="23.72" lengthAdjust="spacingAndGlyphs">15</text>
<line x1="847.50" y1="1176.90" x2="854.20" y2="1176.90" stroke="#1a1a1a" stroke-width="1.25"/>
<line x1="847.50" y1="1252.60" x2="854.20" y2="1252.60" stroke="#1a1a1a" stroke-width="1.25"/>
<line x1="847.50" y1="1328.30" x2="854.20" y2="1328.30" stroke="#1a1a1a" stroke-width="1.25"/>
<line x1="847.50" y1="1404.10" x2="854.20" y2="1404.10" stroke="#1a1a1a" stroke-width="1.25"/>
<line x1="847.50" y1="1480.10" x2="854.20" y2="1480.10" stroke="#1a1a1a" stroke-width="1.25"/>
<line x1="854.20" y1="1487.40" x2="854.20" y2="1500.00" stroke="#1a1a1a" stroke-width="1.25"/>
<text x="832.01" y="1528.20" font-size="23.6" fill="#000" textLength="44.41" lengthAdjust="spacingAndGlyphs">0.01</text>
<line x1="884.44" y1="1487.40" x2="884.44" y2="1494.00" stroke="#1a1a1a" stroke-width="1.25"/>
<line x1="902.13" y1="1487.40" x2="902.13" y2="1494.00" stroke="#1a1a1a" stroke-width="1.25"/>
<line x1="914.68" y1="1487.40" x2="914.68" y2="1494.00" stroke="#1a1a1a" stroke-width="1.25"/>
<line x1="924.42" y1="1487.40" x2="924.42" y2="1494.00" stroke="#1a1a1a" stroke-width="1.25"/>
<line x1="932.37" y1="1487.40" x2="932.37" y2="1494.00" stroke="#1a1a1a" stroke-width="1.25"/>
<line x1="939.10" y1="1487.40" x2="939.10" y2="1494.00" stroke="#1a1a1a" stroke-width="1.25"/>
<line x1="944.92" y1="1487.40" x2="944.92" y2="1494.00" stroke="#1a1a1a" stroke-width="1.25"/>
<line x1="950.06" y1="1487.40" x2="950.06" y2="1494.00" stroke="#1a1a1a" stroke-width="1.25"/>
<line x1="954.66" y1="1487.40" x2="954.66" y2="1500.00" stroke="#1a1a1a" stroke-width="1.25"/>
<text x="940.46" y="1528.20" font-size="23.6" fill="#000" textLength="28.08" lengthAdjust="spacingAndGlyphs">0.1</text>
<line x1="984.90" y1="1487.40" x2="984.90" y2="1494.00" stroke="#1a1a1a" stroke-width="1.25"/>
<line x1="1002.59" y1="1487.40" x2="1002.59" y2="1494.00" stroke="#1a1a1a" stroke-width="1.25"/>
<line x1="1015.14" y1="1487.40" x2="1015.14" y2="1494.00" stroke="#1a1a1a" stroke-width="1.25"/>
<line x1="1024.88" y1="1487.40" x2="1024.88" y2="1494.00" stroke="#1a1a1a" stroke-width="1.25"/>
<line x1="1032.83" y1="1487.40" x2="1032.83" y2="1494.00" stroke="#1a1a1a" stroke-width="1.25"/>
<line x1="1039.56" y1="1487.40" x2="1039.56" y2="1494.00" stroke="#1a1a1a" stroke-width="1.25"/>
<line x1="1045.38" y1="1487.40" x2="1045.38" y2="1494.00" stroke="#1a1a1a" stroke-width="1.25"/>
<line x1="1050.52" y1="1487.40" x2="1050.52" y2="1494.00" stroke="#1a1a1a" stroke-width="1.25"/>
<line x1="1055.12" y1="1487.40" x2="1055.12" y2="1500.00" stroke="#1a1a1a" stroke-width="1.25"/>
<text x="1047.67" y="1528.20" font-size="23.6" fill="#000" textLength="12.25" lengthAdjust="spacingAndGlyphs">1</text>
<line x1="1085.36" y1="1487.40" x2="1085.36" y2="1494.00" stroke="#1a1a1a" stroke-width="1.25"/>
<line x1="1103.05" y1="1487.40" x2="1103.05" y2="1494.00" stroke="#1a1a1a" stroke-width="1.25"/>
<line x1="1115.60" y1="1487.40" x2="1115.60" y2="1494.00" stroke="#1a1a1a" stroke-width="1.25"/>
<line x1="1125.34" y1="1487.40" x2="1125.34" y2="1494.00" stroke="#1a1a1a" stroke-width="1.25"/>
<line x1="1133.29" y1="1487.40" x2="1133.29" y2="1494.00" stroke="#1a1a1a" stroke-width="1.25"/>
<line x1="1140.02" y1="1487.40" x2="1140.02" y2="1494.00" stroke="#1a1a1a" stroke-width="1.25"/>
<line x1="1145.84" y1="1487.40" x2="1145.84" y2="1494.00" stroke="#1a1a1a" stroke-width="1.25"/>
<line x1="1150.98" y1="1487.40" x2="1150.98" y2="1494.00" stroke="#1a1a1a" stroke-width="1.25"/>
<line x1="1155.58" y1="1487.40" x2="1155.58" y2="1500.00" stroke="#1a1a1a" stroke-width="1.25"/>
<text x="1141.40" y="1528.20" font-size="23.6" fill="#000" textLength="26.33" lengthAdjust="spacingAndGlyphs">10</text>
<line x1="1185.82" y1="1487.40" x2="1185.82" y2="1494.00" stroke="#1a1a1a" stroke-width="1.25"/>
<line x1="1203.51" y1="1487.40" x2="1203.51" y2="1494.00" stroke="#1a1a1a" stroke-width="1.25"/>
<line x1="1216.06" y1="1487.40" x2="1216.06" y2="1494.00" stroke="#1a1a1a" stroke-width="1.25"/>
<line x1="1225.80" y1="1487.40" x2="1225.80" y2="1494.00" stroke="#1a1a1a" stroke-width="1.25"/>
<line x1="1233.75" y1="1487.40" x2="1233.75" y2="1494.00" stroke="#1a1a1a" stroke-width="1.25"/>
<line x1="1240.48" y1="1487.40" x2="1240.48" y2="1494.00" stroke="#1a1a1a" stroke-width="1.25"/>
<line x1="1246.30" y1="1487.40" x2="1246.30" y2="1494.00" stroke="#1a1a1a" stroke-width="1.25"/>
<line x1="1251.44" y1="1487.40" x2="1251.44" y2="1494.00" stroke="#1a1a1a" stroke-width="1.25"/>
<line x1="1256.04" y1="1487.40" x2="1256.04" y2="1500.00" stroke="#1a1a1a" stroke-width="1.25"/>
<text x="1233.86" y="1528.20" font-size="23.6" fill="#000" textLength="42.54" lengthAdjust="spacingAndGlyphs">100</text>
<line x1="1286.28" y1="1487.40" x2="1286.28" y2="1494.00" stroke="#1a1a1a" stroke-width="1.25"/>
<line x1="1303.97" y1="1487.40" x2="1303.97" y2="1494.00" stroke="#1a1a1a" stroke-width="1.25"/>
<line x1="1316.52" y1="1487.40" x2="1316.52" y2="1494.00" stroke="#1a1a1a" stroke-width="1.25"/>
<line x1="1326.26" y1="1487.40" x2="1326.26" y2="1494.00" stroke="#1a1a1a" stroke-width="1.25"/>
<line x1="1334.21" y1="1487.40" x2="1334.21" y2="1494.00" stroke="#1a1a1a" stroke-width="1.25"/>
<line x1="1340.94" y1="1487.40" x2="1340.94" y2="1494.00" stroke="#1a1a1a" stroke-width="1.25"/>
<line x1="1346.76" y1="1487.40" x2="1346.76" y2="1494.00" stroke="#1a1a1a" stroke-width="1.25"/>
<line x1="1351.90" y1="1487.40" x2="1351.90" y2="1494.00" stroke="#1a1a1a" stroke-width="1.25"/>
<line x1="1356.50" y1="1487.40" x2="1356.50" y2="1500.00" stroke="#1a1a1a" stroke-width="1.25"/>
<text x="1324.15" y="1528.20" font-size="23.6" fill="#000" textLength="62.37" lengthAdjust="spacingAndGlyphs">1,000</text>
<text fill="#000"><tspan x="920.97" y="1567.90" font-size="26.6" textLength="121.14" lengthAdjust="spacingAndGlyphs">β-catenin</tspan> <tspan x="1046.73" y="1567.90" font-size="26.6" textLength="179.92" lengthAdjust="spacingAndGlyphs">concentration</tspan> <tspan x="1232.04" y="1567.90" font-size="26.6" textLength="58.43" lengthAdjust="spacingAndGlyphs">(nM)</tspan></text>
<text fill="#000" transform="translate(745.60 0) rotate(-90)"><tspan x="-1457.98" y="0.00" font-size="26.6" textLength="112.97" lengthAdjust="spacingAndGlyphs">Diffusion</tspan> <tspan x="-1337.26" y="0.00" font-size="26.6" textLength="149.67" lengthAdjust="spacingAndGlyphs">coeffiecient</tspan></text>
<text fill="#000" transform="translate(778.60 0) rotate(-90)"><tspan x="-1411.67" y="0.00" font-size="26.6" textLength="13.33" lengthAdjust="spacingAndGlyphs">±</tspan> <tspan x="-1390.58" y="0.00" font-size="26.6" textLength="45.46" lengthAdjust="spacingAndGlyphs">s.d.</tspan> <tspan x="-1339.63" y="0.00" font-size="26.6" textLength="51.48" lengthAdjust="spacingAndGlyphs">(µm</tspan><tspan x="-1288.77" y="-13.40" font-size="19.0" textLength="12.94" lengthAdjust="spacingAndGlyphs">2</tspan> <tspan x="-1270.99" y="0.00" font-size="26.6" textLength="14.22" lengthAdjust="spacingAndGlyphs">s</tspan><tspan x="-1258.16" y="-13.40" font-size="19.0" textLength="17.62" lengthAdjust="spacingAndGlyphs">−1</tspan><tspan x="-1241.06" y="0.00" font-size="26.6" textLength="9.04" lengthAdjust="spacingAndGlyphs">)</tspan></text>
<line x1="861.40" y1="1160.80" x2="896.40" y2="1160.80" stroke="#000" stroke-width="3.8" stroke-linecap="round"/>
<circle cx="878.7" cy="1160.8" r="5.0" fill="#000"/>
<text fill="#000"><tspan x="907.54" y="1167.70" font-size="22.2" textLength="111.13" lengthAdjust="spacingAndGlyphs">Halo-TCF4</tspan> <tspan x="1024.55" y="1167.70" font-size="22.2" textLength="36.02" lengthAdjust="spacingAndGlyphs">(40</tspan> <tspan x="1066.92" y="1167.70" font-size="22.2" textLength="42.09" lengthAdjust="spacingAndGlyphs">pM)</tspan> <tspan x="1115.55" y="1167.70" font-size="22.2" textLength="10.98" lengthAdjust="spacingAndGlyphs">x</tspan> <tspan x="1132.82" y="1167.70" font-size="22.2" textLength="87.85" lengthAdjust="spacingAndGlyphs">MV-Bcat</tspan></text>
<line x1="861.40" y1="1196.70" x2="896.40" y2="1196.70" stroke="#ff2e7c" stroke-width="3.8" stroke-linecap="round"/>
<rect x="873.7" y="1191.6" width="10.2" height="10.2" fill="#ff2e7c"/>
<text fill="#000"><tspan x="907.54" y="1203.70" font-size="22.2" textLength="111.13" lengthAdjust="spacingAndGlyphs">Halo-TCF4</tspan> <tspan x="1024.55" y="1203.70" font-size="22.2" textLength="36.02" lengthAdjust="spacingAndGlyphs">(40</tspan> <tspan x="1066.92" y="1203.70" font-size="22.2" textLength="42.09" lengthAdjust="spacingAndGlyphs">pM)</tspan> <tspan x="1115.55" y="1203.70" font-size="22.2" textLength="10.98" lengthAdjust="spacingAndGlyphs">x</tspan> <tspan x="1132.85" y="1203.70" font-size="22.2" textLength="82.61" lengthAdjust="spacingAndGlyphs">BV-Bcat</tspan></text>
<text fill="#000"><tspan x="876.69" y="1472.60" font-size="22.2" textLength="47.66" lengthAdjust="spacingAndGlyphs">30%</tspan> <tspan x="930.91" y="1472.60" font-size="22.2" textLength="89.22" lengthAdjust="spacingAndGlyphs">glycerol</tspan></text>
<path d="M881.3,1216.3V1229.3M876.4,1216.3h9.8M876.4,1229.3h9.8" fill="none" stroke="#ff2e7c" stroke-width="1.35"/>
<path d="M924.0,1216.6V1231.6M919.1,1216.6h9.8M919.1,1231.6h9.8" fill="none" stroke="#ff2e7c" stroke-width="1.35"/>
<path d="M972.1,1228.8V1236.8M967.2,1228.8h9.8M967.2,1236.8h9.8" fill="none" stroke="#ff2e7c" stroke-width="1.35"/>
<path d="M1020.6,1250.5V1256.5M1015.7,1250.5h9.8M1015.7,1256.5h9.8" fill="none" stroke="#ff2e7c" stroke-width="1.35"/>
<path d="M881.3,1221.9 884.9,1222.0 888.5,1222.1 892.1,1222.3 895.7,1222.4 899.3,1222.6 902.9,1222.8 906.5,1223.0 910.0,1223.2 913.6,1223.5 917.2,1223.8 920.8,1224.1 924.4,1224.4 928.0,1224.7 931.6,1225.1 935.2,1225.5 938.8,1226.0 942.4,1226.5 945.9,1227.0 949.5,1227.6 953.1,1228.2 956.7,1228.9 960.3,1229.6 963.9,1230.4 967.5,1231.3 971.1,1232.3 974.7,1233.3 978.3,1234.4 981.9,1235.6 985.4,1236.9 989.0,1238.3 992.6,1239.7 996.2,1241.4 999.8,1243.1 1003.4,1244.9 1007.0,1246.9 1010.6,1249.1 1014.2,1251.3 1017.8,1253.7 1021.4,1256.3 1024.9,1259.0 1028.5,1261.9 1032.1,1265.0 1035.7,1268.2 1039.3,1271.6 1042.9,1275.1 1046.5,1278.8 1050.1,1282.7 1053.7,1286.7 1057.3,1290.9 1060.8,1295.2 1064.4,1299.6 1068.0,1304.1 1071.6,1308.7 1075.2,1313.4 1078.8,1318.2 1082.4,1323.0 1086.0,1327.9 1089.6,1332.7 1093.2,1337.5 1096.8,1342.4 1100.3,1347.1 1103.9,1351.8 1107.5,1356.4 1111.1,1361.0 1114.7,1365.4 1118.3,1369.6 1121.9,1373.8 1125.5,1377.8 1129.1,1381.7 1132.7,1385.4 1136.2,1388.9 1139.8,1392.3 1143.4,1395.5 1147.0,1398.5 1150.6,1401.4 1154.2,1404.1 1157.8,1406.7 1161.4,1409.1 1165.0,1411.4 1168.6,1413.5 1172.2,1415.5 1175.7,1417.3 1179.3,1419.0 1182.9,1420.6 1186.5,1422.1 1190.1,1423.5 1193.7,1424.8 1197.3,1426.0 1200.9,1427.1 1204.5,1428.1 1208.1,1429.1 1211.7,1429.9 1215.2,1430.7 1218.8,1431.5 1222.4,1432.1 1226.0,1432.8 1229.6,1433.3 1233.2,1433.9 1236.8,1434.4 1240.4,1434.8 1244.0,1435.2 1247.6,1435.6 1251.1,1436.0 1254.7,1436.3 1258.3,1436.6 1261.9,1436.8 1265.5,1437.1 1269.1,1437.3 1272.7,1437.5 1276.3,1437.7 1279.9,1437.9 1283.5,1438.0 1287.1,1438.2 1290.6,1438.3 1294.2,1438.5 1297.8,1438.6 1301.4,1438.7 1305.0,1438.8 1308.6,1438.9" fill="none" stroke="#ff2e7c" stroke-width="3.8" stroke-linejoin="round"/>
<rect x="876.2" y="1217.7" width="10.2" height="10.2" fill="#ff2e7c"/>
<rect x="918.9" y="1219.0" width="10.2" height="10.2" fill="#ff2e7c"/>
<rect x="967.0" y="1227.7" width="10.2" height="10.2" fill="#ff2e7c"/>
<rect x="1015.5" y="1248.4" width="10.2" height="10.2" fill="#ff2e7c"/>
<rect x="1063.4" y="1301.1" width="10.2" height="10.2" fill="#ff2e7c"/>
<rect x="1111.5" y="1362.8" width="10.2" height="10.2" fill="#ff2e7c"/>
<rect x="1159.3" y="1405.2" width="10.2" height="10.2" fill="#ff2e7c"/>
<rect x="1207.2" y="1423.6" width="10.2" height="10.2" fill="#ff2e7c"/>
<rect x="1255.3" y="1431.4" width="10.2" height="10.2" fill="#ff2e7c"/>
<rect x="1303.5" y="1435.6" width="10.2" height="10.2" fill="#ff2e7c"/>
<path d="M881.3,1221.8V1232.8M876.4,1221.8h9.8M876.4,1232.8h9.8" fill="none" stroke="#000" stroke-width="1.35"/>
<path d="M924.0,1223.3V1237.3M919.1,1223.3h9.8M919.1,1237.3h9.8" fill="none" stroke="#000" stroke-width="1.35"/>
<path d="M972.1,1235.7V1248.7M967.2,1235.7h9.8M967.2,1248.7h9.8" fill="none" stroke="#000" stroke-width="1.35"/>
<path d="M1020.6,1266.9V1280.9M1015.7,1266.9h9.8M1015.7,1280.9h9.8" fill="none" stroke="#000" stroke-width="1.35"/>
<path d="M1068.5,1319.8V1328.8M1063.6,1319.8h9.8M1063.6,1328.8h9.8" fill="none" stroke="#000" stroke-width="1.35"/>
<path d="M881.3,1227.3 884.9,1227.4 888.5,1227.6 892.1,1227.8 895.7,1228.0 899.3,1228.2 902.9,1228.4 906.5,1228.7 910.0,1229.0 913.6,1229.3 917.2,1229.6 920.8,1230.0 924.4,1230.4 928.0,1230.9 931.6,1231.4 935.2,1232.0 938.8,1232.6 942.4,1233.3 945.9,1234.0 949.5,1234.9 953.1,1235.8 956.7,1236.7 960.3,1237.8 963.9,1239.0 967.5,1240.2 971.1,1241.6 974.7,1243.1 978.3,1244.7 981.9,1246.4 985.4,1248.3 989.0,1250.3 992.6,1252.4 996.2,1254.7 999.8,1257.2 1003.4,1259.8 1007.0,1262.5 1010.6,1265.4 1014.2,1268.4 1017.8,1271.6 1021.4,1274.9 1024.9,1278.3 1028.5,1281.9 1032.1,1285.5 1035.7,1289.2 1039.3,1293.0 1042.9,1296.8 1046.5,1300.6 1050.1,1304.5 1053.7,1308.3 1057.3,1312.1 1060.8,1315.9 1064.4,1319.5 1068.0,1323.1 1071.6,1326.6 1075.2,1330.0 1078.8,1333.3 1082.4,1336.4 1086.0,1339.4 1089.6,1342.2 1093.2,1344.9 1096.8,1347.4 1100.3,1349.8 1103.9,1352.0 1107.5,1354.1 1111.1,1356.1 1114.7,1357.9 1118.3,1359.6 1121.9,1361.1 1125.5,1362.6 1129.1,1363.9 1132.7,1365.1 1136.2,1366.3 1139.8,1367.3 1143.4,1368.2 1147.0,1369.1 1150.6,1369.9 1154.2,1370.6 1157.8,1371.3 1161.4,1371.9 1165.0,1372.4 1168.6,1372.9 1172.2,1373.4 1175.7,1373.8 1179.3,1374.2 1182.9,1374.5 1186.5,1374.8 1190.1,1375.1 1193.7,1375.3 1197.3,1375.6 1200.9,1375.8 1204.5,1376.0 1208.1,1376.1 1211.7,1376.3 1215.2,1376.4 1218.8,1376.6 1222.4,1376.7 1226.0,1376.8 1229.6,1376.9 1233.2,1377.0 1236.8,1377.0 1240.4,1377.1 1244.0,1377.2 1247.6,1377.2 1251.1,1377.3 1254.7,1377.3 1258.3,1377.4 1261.9,1377.4 1265.5,1377.4 1269.1,1377.5 1272.7,1377.5 1276.3,1377.5 1279.9,1377.5 1283.5,1377.6 1287.1,1377.6 1290.6,1377.6 1294.2,1377.6 1297.8,1377.6 1301.4,1377.6 1305.0,1377.7 1308.6,1377.7" fill="none" stroke="#000" stroke-width="3.8" stroke-linejoin="round"/>
<circle cx="881.3" cy="1227.3" r="5.0" fill="#000"/>
<circle cx="924.0" cy="1230.3" r="5.0" fill="#000"/>
<circle cx="972.1" cy="1242.2" r="5.0" fill="#000"/>
<circle cx="1020.6" cy="1273.9" r="5.0" fill="#000"/>
<circle cx="1068.5" cy="1324.3" r="5.0" fill="#000"/>
<circle cx="1116.6" cy="1357.3" r="5.0" fill="#000"/>
<circle cx="1164.4" cy="1373.8" r="5.0" fill="#000"/>
<circle cx="1212.3" cy="1377.0" r="5.0" fill="#000"/>
<circle cx="1260.4" cy="1378.3" r="5.0" fill="#000"/>
<circle cx="1308.6" cy="1375.7" r="5.0" fill="#000"/>
<text x="1501.65" y="1142.90" font-size="38.6" fill="#000" font-weight="bold" textLength="26.06" lengthAdjust="spacingAndGlyphs" stroke="#000" stroke-width="1.3" stroke-linejoin="round">d</text>
<line x1="1633.30" y1="1157.88" x2="1633.30" y2="1488.03" stroke="#1a1a1a" stroke-width="1.25"/>
<line x1="1620.90" y1="1487.40" x2="2129.70" y2="1487.40" stroke="#1a1a1a" stroke-width="1.25"/>
<line x1="1620.90" y1="1205.30" x2="1633.30" y2="1205.30" stroke="#1a1a1a" stroke-width="1.25"/>
<text x="1578.67" y="1212.05" font-size="23.6" fill="#000" textLength="29.98" lengthAdjust="spacingAndGlyphs">30</text>
<line x1="1620.90" y1="1299.30" x2="1633.30" y2="1299.30" stroke="#1a1a1a" stroke-width="1.25"/>
<text x="1580.93" y="1306.05" font-size="23.6" fill="#000" textLength="28.19" lengthAdjust="spacingAndGlyphs">26</text>
<line x1="1620.90" y1="1393.40" x2="1633.30" y2="1393.40" stroke="#1a1a1a" stroke-width="1.25"/>
<text x="1582.40" y="1400.15" font-size="23.6" fill="#000" textLength="26.61" lengthAdjust="spacingAndGlyphs">22</text>
<line x1="1620.90" y1="1487.40" x2="1633.30" y2="1487.40" stroke="#1a1a1a" stroke-width="1.25"/>
<text x="1584.54" y="1494.15" font-size="23.6" fill="#000" textLength="24.20" lengthAdjust="spacingAndGlyphs">18</text>
<line x1="1627.10" y1="1158.50" x2="1633.30" y2="1158.50" stroke="#1a1a1a" stroke-width="1.25"/>
<line x1="1627.10" y1="1252.30" x2="1633.30" y2="1252.30" stroke="#1a1a1a" stroke-width="1.25"/>
<line x1="1627.10" y1="1346.30" x2="1633.30" y2="1346.30" stroke="#1a1a1a" stroke-width="1.25"/>
<line x1="1627.10" y1="1440.40" x2="1633.30" y2="1440.40" stroke="#1a1a1a" stroke-width="1.25"/>
<line x1="1633.30" y1="1487.40" x2="1633.30" y2="1500.00" stroke="#1a1a1a" stroke-width="1.25"/>
<text x="1619.13" y="1528.20" font-size="23.6" fill="#000" textLength="27.54" lengthAdjust="spacingAndGlyphs">0.1</text>
<line x1="1663.17" y1="1487.40" x2="1663.17" y2="1494.00" stroke="#1a1a1a" stroke-width="1.25"/>
<line x1="1680.64" y1="1487.40" x2="1680.64" y2="1494.00" stroke="#1a1a1a" stroke-width="1.25"/>
<line x1="1693.04" y1="1487.40" x2="1693.04" y2="1494.00" stroke="#1a1a1a" stroke-width="1.25"/>
<line x1="1702.65" y1="1487.40" x2="1702.65" y2="1494.00" stroke="#1a1a1a" stroke-width="1.25"/>
<line x1="1710.51" y1="1487.40" x2="1710.51" y2="1494.00" stroke="#1a1a1a" stroke-width="1.25"/>
<line x1="1717.15" y1="1487.40" x2="1717.15" y2="1494.00" stroke="#1a1a1a" stroke-width="1.25"/>
<line x1="1722.90" y1="1487.40" x2="1722.90" y2="1494.00" stroke="#1a1a1a" stroke-width="1.25"/>
<line x1="1727.98" y1="1487.40" x2="1727.98" y2="1494.00" stroke="#1a1a1a" stroke-width="1.25"/>
<line x1="1732.52" y1="1487.40" x2="1732.52" y2="1500.00" stroke="#1a1a1a" stroke-width="1.25"/>
<text x="1726.55" y="1528.20" font-size="23.6" fill="#000" textLength="10.96" lengthAdjust="spacingAndGlyphs">1</text>
<line x1="1762.39" y1="1487.40" x2="1762.39" y2="1494.00" stroke="#1a1a1a" stroke-width="1.25"/>
<line x1="1779.86" y1="1487.40" x2="1779.86" y2="1494.00" stroke="#1a1a1a" stroke-width="1.25"/>
<line x1="1792.26" y1="1487.40" x2="1792.26" y2="1494.00" stroke="#1a1a1a" stroke-width="1.25"/>
<line x1="1801.87" y1="1487.40" x2="1801.87" y2="1494.00" stroke="#1a1a1a" stroke-width="1.25"/>
<line x1="1809.73" y1="1487.40" x2="1809.73" y2="1494.00" stroke="#1a1a1a" stroke-width="1.25"/>
<line x1="1816.37" y1="1487.40" x2="1816.37" y2="1494.00" stroke="#1a1a1a" stroke-width="1.25"/>
<line x1="1822.12" y1="1487.40" x2="1822.12" y2="1494.00" stroke="#1a1a1a" stroke-width="1.25"/>
<line x1="1827.20" y1="1487.40" x2="1827.20" y2="1494.00" stroke="#1a1a1a" stroke-width="1.25"/>
<line x1="1831.74" y1="1487.40" x2="1831.74" y2="1500.00" stroke="#1a1a1a" stroke-width="1.25"/>
<text x="1817.20" y="1528.20" font-size="23.6" fill="#000" textLength="26.33" lengthAdjust="spacingAndGlyphs">10</text>
<line x1="1861.61" y1="1487.40" x2="1861.61" y2="1494.00" stroke="#1a1a1a" stroke-width="1.25"/>
<line x1="1879.08" y1="1487.40" x2="1879.08" y2="1494.00" stroke="#1a1a1a" stroke-width="1.25"/>
<line x1="1891.48" y1="1487.40" x2="1891.48" y2="1494.00" stroke="#1a1a1a" stroke-width="1.25"/>
<line x1="1901.09" y1="1487.40" x2="1901.09" y2="1494.00" stroke="#1a1a1a" stroke-width="1.25"/>
<line x1="1908.95" y1="1487.40" x2="1908.95" y2="1494.00" stroke="#1a1a1a" stroke-width="1.25"/>
<line x1="1915.59" y1="1487.40" x2="1915.59" y2="1494.00" stroke="#1a1a1a" stroke-width="1.25"/>
<line x1="1921.34" y1="1487.40" x2="1921.34" y2="1494.00" stroke="#1a1a1a" stroke-width="1.25"/>
<line x1="1926.42" y1="1487.40" x2="1926.42" y2="1494.00" stroke="#1a1a1a" stroke-width="1.25"/>
<line x1="1930.96" y1="1487.40" x2="1930.96" y2="1500.00" stroke="#1a1a1a" stroke-width="1.25"/>
<text x="1907.97" y="1528.20" font-size="23.6" fill="#000" textLength="42.32" lengthAdjust="spacingAndGlyphs">100</text>
<line x1="1960.83" y1="1487.40" x2="1960.83" y2="1494.00" stroke="#1a1a1a" stroke-width="1.25"/>
<line x1="1978.30" y1="1487.40" x2="1978.30" y2="1494.00" stroke="#1a1a1a" stroke-width="1.25"/>
<line x1="1990.70" y1="1487.40" x2="1990.70" y2="1494.00" stroke="#1a1a1a" stroke-width="1.25"/>
<line x1="2000.31" y1="1487.40" x2="2000.31" y2="1494.00" stroke="#1a1a1a" stroke-width="1.25"/>
<line x1="2008.17" y1="1487.40" x2="2008.17" y2="1494.00" stroke="#1a1a1a" stroke-width="1.25"/>
<line x1="2014.81" y1="1487.40" x2="2014.81" y2="1494.00" stroke="#1a1a1a" stroke-width="1.25"/>
<line x1="2020.56" y1="1487.40" x2="2020.56" y2="1494.00" stroke="#1a1a1a" stroke-width="1.25"/>
<line x1="2025.64" y1="1487.40" x2="2025.64" y2="1494.00" stroke="#1a1a1a" stroke-width="1.25"/>
<line x1="2030.18" y1="1487.40" x2="2030.18" y2="1500.00" stroke="#1a1a1a" stroke-width="1.25"/>
<text x="1997.69" y="1528.20" font-size="23.6" fill="#000" textLength="62.69" lengthAdjust="spacingAndGlyphs">1,000</text>
<line x1="2060.05" y1="1487.40" x2="2060.05" y2="1494.00" stroke="#1a1a1a" stroke-width="1.25"/>
<line x1="2077.52" y1="1487.40" x2="2077.52" y2="1494.00" stroke="#1a1a1a" stroke-width="1.25"/>
<line x1="2089.92" y1="1487.40" x2="2089.92" y2="1494.00" stroke="#1a1a1a" stroke-width="1.25"/>
<line x1="2099.53" y1="1487.40" x2="2099.53" y2="1494.00" stroke="#1a1a1a" stroke-width="1.25"/>
<line x1="2107.39" y1="1487.40" x2="2107.39" y2="1494.00" stroke="#1a1a1a" stroke-width="1.25"/>
<line x1="2114.03" y1="1487.40" x2="2114.03" y2="1494.00" stroke="#1a1a1a" stroke-width="1.25"/>
<line x1="2119.78" y1="1487.40" x2="2119.78" y2="1494.00" stroke="#1a1a1a" stroke-width="1.25"/>
<line x1="2124.86" y1="1487.40" x2="2124.86" y2="1494.00" stroke="#1a1a1a" stroke-width="1.25"/>
<line x1="2129.40" y1="1487.40" x2="2129.40" y2="1500.00" stroke="#1a1a1a" stroke-width="1.25"/>
<text x="2089.07" y="1528.20" font-size="23.6" fill="#000" textLength="77.31" lengthAdjust="spacingAndGlyphs">10,000</text>
<text fill="#000"><tspan x="1696.46" y="1567.90" font-size="26.6" textLength="119.06" lengthAdjust="spacingAndGlyphs">Molecule</tspan> <tspan x="1821.33" y="1567.90" font-size="26.6" textLength="179.41" lengthAdjust="spacingAndGlyphs">concentration</tspan> <tspan x="2007.35" y="1567.90" font-size="26.6" textLength="58.00" lengthAdjust="spacingAndGlyphs">(nM)</tspan></text>
<text fill="#000" transform="translate(1525.40 0) rotate(-90)"><tspan x="-1457.98" y="0.00" font-size="26.6" textLength="112.97" lengthAdjust="spacingAndGlyphs">Diffusion</tspan> <tspan x="-1337.26" y="0.00" font-size="26.6" textLength="149.67" lengthAdjust="spacingAndGlyphs">coeffiecient</tspan></text>
<text fill="#000" transform="translate(1558.20 0) rotate(-90)"><tspan x="-1411.67" y="0.00" font-size="26.6" textLength="13.33" lengthAdjust="spacingAndGlyphs">±</tspan> <tspan x="-1390.58" y="0.00" font-size="26.6" textLength="45.46" lengthAdjust="spacingAndGlyphs">s.d.</tspan> <tspan x="-1339.63" y="0.00" font-size="26.6" textLength="51.48" lengthAdjust="spacingAndGlyphs">(µm</tspan><tspan x="-1288.77" y="-13.40" font-size="19.0" textLength="12.94" lengthAdjust="spacingAndGlyphs">2</tspan> <tspan x="-1270.99" y="0.00" font-size="26.6" textLength="14.22" lengthAdjust="spacingAndGlyphs">s</tspan><tspan x="-1258.16" y="-13.40" font-size="19.0" textLength="17.62" lengthAdjust="spacingAndGlyphs">−1</tspan><tspan x="-1241.06" y="0.00" font-size="26.6" textLength="9.04" lengthAdjust="spacingAndGlyphs">)</tspan></text>
<line x1="1674.10" y1="1187.20" x2="1708.50" y2="1187.20" stroke="#000" stroke-width="3.8" stroke-linecap="round"/>
<circle cx="1691.0" cy="1187.2" r="6.7" fill="#000"/>
<text fill="#000"><tspan x="1722.42" y="1194.20" font-size="22.2" textLength="53.71" lengthAdjust="spacingAndGlyphs">TCF4</tspan> <tspan x="1782.95" y="1194.20" font-size="22.2" textLength="83.99" lengthAdjust="spacingAndGlyphs">peptide</tspan></text>
<line x1="1674.10" y1="1219.90" x2="1708.50" y2="1219.90" stroke="#ff2e7c" stroke-width="3.8" stroke-linecap="round"/>
<circle cx="1691.0" cy="1219.9" r="6.7" fill="#ff2e7c"/>
<text x="1722.37" y="1226.80" font-size="22.2" fill="#000" textLength="107.56" lengthAdjust="spacingAndGlyphs">Toxoflavin</text>
<path d="M1703.2,1427.1V1449.1M1696.7,1427.1h13.0M1696.7,1449.1h13.0" fill="none" stroke="#000" stroke-width="1.45"/>
<path d="M1750.4,1429.0V1448.4M1743.9,1429.0h13.0M1743.9,1448.4h13.0" fill="none" stroke="#000" stroke-width="1.45"/>
<path d="M1797.9,1427.1V1448.4M1791.4,1427.1h13.0M1791.4,1448.4h13.0" fill="none" stroke="#000" stroke-width="1.45"/>
<path d="M1845.1,1424.8V1446.5M1838.6,1424.8h13.0M1838.6,1446.5h13.0" fill="none" stroke="#000" stroke-width="1.45"/>
<path d="M1892.3,1404.8V1424.2M1885.8,1404.8h13.0M1885.8,1424.2h13.0" fill="none" stroke="#000" stroke-width="1.45"/>
<path d="M1939.5,1345.6V1382.2M1933.0,1345.6h13.0M1933.0,1382.2h13.0" fill="none" stroke="#000" stroke-width="1.45"/>
<path d="M1986.7,1268.7V1310.7M1980.2,1268.7h13.0M1980.2,1310.7h13.0" fill="none" stroke="#000" stroke-width="1.45"/>
<path d="M2034.2,1218.6V1249.3M2027.7,1218.6h13.0M2027.7,1249.3h13.0" fill="none" stroke="#000" stroke-width="1.45"/>
<path d="M2081.7,1197.0V1230.9M2075.2,1197.0h13.0M2075.2,1230.9h13.0" fill="none" stroke="#000" stroke-width="1.45"/>
<path d="M2129.2,1186.0V1226.1M2122.7,1186.0h13.0M2122.7,1226.1h13.0" fill="none" stroke="#000" stroke-width="1.45"/>
<path d="M1703.2,1439.9 1706.8,1439.9 1710.4,1439.9 1714.0,1439.9 1717.6,1439.8 1721.1,1439.8 1724.7,1439.8 1728.3,1439.8 1731.9,1439.7 1735.5,1439.7 1739.0,1439.7 1742.6,1439.6 1746.2,1439.6 1749.8,1439.6 1753.3,1439.5 1756.9,1439.4 1760.5,1439.4 1764.1,1439.3 1767.7,1439.2 1771.2,1439.2 1774.8,1439.1 1778.4,1439.0 1782.0,1438.8 1785.6,1438.7 1789.1,1438.6 1792.7,1438.4 1796.3,1438.2 1799.9,1438.1 1803.5,1437.8 1807.0,1437.6 1810.6,1437.4 1814.2,1437.1 1817.8,1436.8 1821.4,1436.4 1824.9,1436.0 1828.5,1435.6 1832.1,1435.1 1835.7,1434.6 1839.3,1434.0 1842.8,1433.4 1846.4,1432.7 1850.0,1432.0 1853.6,1431.1 1857.2,1430.2 1860.7,1429.2 1864.3,1428.1 1867.9,1426.8 1871.5,1425.5 1875.1,1424.0 1878.6,1422.5 1882.2,1420.7 1885.8,1418.8 1889.4,1416.7 1893.0,1414.5 1896.5,1412.1 1900.1,1409.4 1903.7,1406.6 1907.3,1403.5 1910.9,1400.3 1914.4,1396.8 1918.0,1393.0 1921.6,1389.0 1925.2,1384.8 1928.8,1380.4 1932.3,1375.7 1935.9,1370.8 1939.5,1365.6 1943.1,1360.3 1946.7,1354.8 1950.2,1349.1 1953.8,1343.4 1957.4,1337.4 1961.0,1331.5 1964.6,1325.4 1968.1,1319.4 1971.7,1313.4 1975.3,1307.4 1978.9,1301.5 1982.5,1295.6 1986.0,1290.0 1989.6,1284.4 1993.2,1279.1 1996.8,1274.0 2000.3,1269.0 2003.9,1264.3 2007.5,1259.8 2011.1,1255.6 2014.7,1251.6 2018.2,1247.8 2021.8,1244.3 2025.4,1241.0 2029.0,1237.9 2032.6,1235.1 2036.1,1232.4 2039.7,1230.0 2043.3,1227.7 2046.9,1225.6 2050.5,1223.7 2054.0,1221.9 2057.6,1220.3 2061.2,1218.8 2064.8,1217.5 2068.4,1216.3 2071.9,1215.1 2075.5,1214.1 2079.1,1213.2 2082.7,1212.3 2086.3,1211.6 2089.8,1210.9 2093.4,1210.2 2097.0,1209.7 2100.6,1209.1 2104.2,1208.7 2107.7,1208.2 2111.3,1207.8 2114.9,1207.5 2118.5,1207.2 2122.1,1206.9 2125.6,1206.6 2129.2,1206.4" fill="none" stroke="#000" stroke-width="3.8" stroke-linejoin="round"/>
<circle cx="1703.2" cy="1438.7" r="6.7" fill="#000"/>
<circle cx="1750.4" cy="1438.7" r="6.7" fill="#000"/>
<circle cx="1797.9" cy="1437.8" r="6.7" fill="#000"/>
<circle cx="1845.1" cy="1435.5" r="6.7" fill="#000"/>
<circle cx="1892.3" cy="1415.8" r="6.7" fill="#000"/>
<circle cx="1939.5" cy="1364.1" r="6.7" fill="#000"/>
<circle cx="1986.7" cy="1289.7" r="6.7" fill="#000"/>
<circle cx="2034.2" cy="1233.8" r="6.7" fill="#000"/>
<circle cx="2081.7" cy="1213.1" r="6.7" fill="#000"/>
<circle cx="2129.2" cy="1205.7" r="6.7" fill="#000"/>
<path d="M1703.2,1419.3V1444.2M1696.7,1419.3h13.0M1696.7,1444.2h13.0" fill="none" stroke="#ff2e7c" stroke-width="1.45"/>
<path d="M1750.4,1421.9V1441.0M1743.9,1421.9h13.0M1743.9,1441.0h13.0" fill="none" stroke="#ff2e7c" stroke-width="1.45"/>
<path d="M1797.9,1422.6V1439.4M1791.4,1422.6h13.0M1791.4,1439.4h13.0" fill="none" stroke="#ff2e7c" stroke-width="1.45"/>
<path d="M1845.1,1422.6V1439.4M1838.6,1422.6h13.0M1838.6,1439.4h13.0" fill="none" stroke="#ff2e7c" stroke-width="1.45"/>
<path d="M1892.3,1418.4V1437.8M1885.8,1418.4h13.0M1885.8,1437.8h13.0" fill="none" stroke="#ff2e7c" stroke-width="1.45"/>
<path d="M1939.5,1414.5V1437.8M1933.0,1414.5h13.0M1933.0,1437.8h13.0" fill="none" stroke="#ff2e7c" stroke-width="1.45"/>
<path d="M1986.7,1385.7V1418.7M1980.2,1385.7h13.0M1980.2,1418.7h13.0" fill="none" stroke="#ff2e7c" stroke-width="1.45"/>
<path d="M2034.2,1247.7V1307.8M2027.7,1247.7h13.0M2027.7,1307.8h13.0" fill="none" stroke="#ff2e7c" stroke-width="1.45"/>
<path d="M2081.7,1218.9V1276.1M2075.2,1218.9h13.0M2075.2,1276.1h13.0" fill="none" stroke="#ff2e7c" stroke-width="1.45"/>
<path d="M2129.2,1213.1V1274.9M2122.7,1213.1h13.0M2122.7,1274.9h13.0" fill="none" stroke="#ff2e7c" stroke-width="1.45"/>
<path d="M1703.2,1429.8 1706.8,1429.8 1710.4,1429.8 1714.0,1429.8 1717.6,1429.8 1721.1,1429.8 1724.7,1429.8 1728.3,1429.8 1731.9,1429.8 1735.5,1429.8 1739.0,1429.8 1742.6,1429.8 1746.2,1429.8 1749.8,1429.8 1753.3,1429.8 1756.9,1429.8 1760.5,1429.8 1764.1,1429.8 1767.7,1429.8 1771.2,1429.8 1774.8,1429.8 1778.4,1429.8 1782.0,1429.8 1785.6,1429.8 1789.1,1429.8 1792.7,1429.8 1796.3,1429.8 1799.9,1429.8 1803.5,1429.8 1807.0,1429.8 1810.6,1429.8 1814.2,1429.8 1817.8,1429.8 1821.4,1429.8 1824.9,1429.8 1828.5,1429.8 1832.1,1429.8 1835.7,1429.8 1839.3,1429.8 1842.8,1429.8 1846.4,1429.8 1850.0,1429.8 1853.6,1429.8 1857.2,1429.8 1860.7,1429.8 1864.3,1429.8 1867.9,1429.8 1871.5,1429.8 1875.1,1429.8 1878.6,1429.8 1882.2,1429.8 1885.8,1429.8 1889.4,1429.8 1893.0,1429.8 1896.5,1429.8 1900.1,1429.7 1903.7,1429.7 1907.3,1429.7 1910.9,1429.6 1914.4,1429.6 1918.0,1429.5 1921.6,1429.5 1925.2,1429.3 1928.8,1429.2 1932.3,1429.0 1935.9,1428.8 1939.5,1428.6 1943.1,1428.2 1946.7,1427.8 1950.2,1427.2 1953.8,1426.5 1957.4,1425.6 1961.0,1424.4 1964.6,1423.0 1968.1,1421.2 1971.7,1418.9 1975.3,1416.1 1978.9,1412.6 1982.5,1408.4 1986.0,1403.3 1989.6,1397.2 1993.2,1390.0 1996.8,1381.8 2000.3,1372.6 2003.9,1362.4 2007.5,1351.6 2011.1,1340.3 2014.7,1329.0 2018.2,1317.9 2021.8,1307.3 2025.4,1297.6 2029.0,1288.8 2032.6,1281.1 2036.1,1274.5 2039.7,1268.9 2043.3,1264.2 2046.9,1260.3 2050.5,1257.2 2054.0,1254.7 2057.6,1252.6 2061.2,1251.0 2064.8,1249.7 2068.4,1248.7 2071.9,1247.9 2075.5,1247.2 2079.1,1246.7 2082.7,1246.3 2086.3,1246.0 2089.8,1245.8 2093.4,1245.6 2097.0,1245.4 2100.6,1245.3 2104.2,1245.2 2107.7,1245.2 2111.3,1245.1 2114.9,1245.1 2118.5,1245.0 2122.1,1245.0 2125.6,1245.0 2129.2,1245.0" fill="none" stroke="#ff2e7c" stroke-width="3.8" stroke-linejoin="round"/>
<circle cx="1703.2" cy="1431.0" r="6.7" fill="#ff2e7c"/>
<circle cx="1750.4" cy="1431.0" r="6.7" fill="#ff2e7c"/>
<circle cx="1797.9" cy="1431.0" r="6.7" fill="#ff2e7c"/>
<circle cx="1845.1" cy="1431.0" r="6.7" fill="#ff2e7c"/>
<circle cx="1892.3" cy="1427.1" r="6.7" fill="#ff2e7c"/>
<circle cx="1939.5" cy="1426.4" r="6.7" fill="#ff2e7c"/>
<circle cx="1986.7" cy="1402.5" r="6.7" fill="#ff2e7c"/>
<circle cx="2034.2" cy="1277.8" r="6.7" fill="#ff2e7c"/>
<circle cx="2081.7" cy="1247.4" r="6.7" fill="#ff2e7c"/>
<circle cx="2129.2" cy="1244.1" r="6.7" fill="#ff2e7c"/>
</svg>
</body>
</html>
